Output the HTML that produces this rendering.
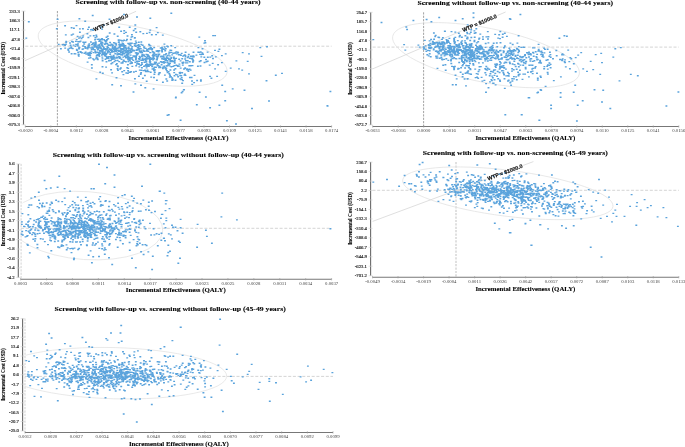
<!DOCTYPE html>
<html><head><meta charset="utf-8"><style>
html,body{margin:0;padding:0;background:#fff;overflow:hidden}
svg{display:block;will-change:transform}
</style></head><body>
<svg width="685" height="447" viewBox="0 0 685 447" shape-rendering="auto">
<rect width="685" height="447" fill="#fff"/>
<line x1="25.3" y1="46.2" x2="331.6" y2="46.2" stroke="#c9c9c9" stroke-width="0.8" stroke-dasharray="3,1.7"/>
<line x1="57.4" y1="11" x2="57.4" y2="126.5" stroke="#8a8a8a" stroke-width="0.8" stroke-dasharray="2.2,1.2"/>
<ellipse cx="132.7" cy="53.6" rx="96.3" ry="27" transform="rotate(11.47 132.7 53.6)" fill="none" stroke="#e2e2e2" stroke-width="0.75"/>
<line x1="25" y1="60.6" x2="136.1" y2="11.3" stroke="#d4d4d4" stroke-width="0.75"/>
<rect x="-19.6" y="-2.6" width="39.2" height="5.2" fill="#fff" transform="translate(110.9,22.45) rotate(-23.4)"/>
<path fill="#5aa3dc" d="M87.95 54.42h1.9v1.36h-1.9zM75.75 38.92h1.9v1.36h-1.9zM64.15 44.52h1.9v1.36h-1.9zM64.85 34.22h1.9v1.36h-1.9zM77.05 45.22h1.9v1.36h-1.9zM80.55 37.92h1.9v1.36h-1.9zM75.15 43.82h1.9v1.36h-1.9zM59.95 48.12h1.9v1.36h-1.9zM77.05 43.32h1.9v1.36h-1.9zM87.35 45.72h1.9v1.36h-1.9zM84.15 41.72h1.9v1.36h-1.9zM77.25 51.52h1.9v1.36h-1.9zM82.05 45.22h1.9v1.36h-1.9zM64.25 47.42h1.9v1.36h-1.9zM75.85 49.32h1.9v1.36h-1.9zM77.25 51.92h1.9v1.36h-1.9zM74.55 45.72h1.9v1.36h-1.9zM81.75 36.72h1.9v1.36h-1.9zM71.05 40.82h1.9v1.36h-1.9zM94.85 43.62h1.9v1.36h-1.9zM81.55 48.62h1.9v1.36h-1.9zM72.25 33.42h1.9v1.36h-1.9zM84.65 41.42h1.9v1.36h-1.9zM82.25 35.22h1.9v1.36h-1.9zM70.65 53.12h1.9v1.36h-1.9zM89.35 35.22h1.9v1.36h-1.9zM61.75 44.02h1.9v1.36h-1.9zM82.35 45.42h1.9v1.36h-1.9zM78.05 37.42h1.9v1.36h-1.9zM80.95 52.12h1.9v1.36h-1.9zM70.65 34.32h1.9v1.36h-1.9zM67.45 49.62h1.9v1.36h-1.9zM57.75 43.72h1.9v1.36h-1.9zM65.15 43.42h1.9v1.36h-1.9zM72.65 44.42h1.9v1.36h-1.9zM90.05 47.22h1.9v1.36h-1.9zM88.35 43.32h1.9v1.36h-1.9zM70.25 47.02h1.9v1.36h-1.9zM76.65 35.72h1.9v1.36h-1.9zM79.65 40.42h1.9v1.36h-1.9zM65.25 40.72h1.9v1.36h-1.9zM73.55 53.12h1.9v1.36h-1.9zM76.05 44.12h1.9v1.36h-1.9zM78.95 31.62h1.9v1.36h-1.9zM87.45 36.82h1.9v1.36h-1.9zM79.45 36.42h1.9v1.36h-1.9zM65.25 41.52h1.9v1.36h-1.9zM94.05 49.22h1.9v1.36h-1.9zM69.05 42.32h1.9v1.36h-1.9zM63.55 44.12h1.9v1.36h-1.9zM99.35 52.72h1.9v1.36h-1.9zM84.05 46.02h1.9v1.36h-1.9zM94.45 44.52h1.9v1.36h-1.9zM125.25 50.72h1.9v1.36h-1.9zM122.35 56.42h1.9v1.36h-1.9zM134.45 43.02h1.9v1.36h-1.9zM122.25 40.22h1.9v1.36h-1.9zM109.25 59.82h1.9v1.36h-1.9zM107.25 47.12h1.9v1.36h-1.9zM114.45 49.62h1.9v1.36h-1.9zM111.75 45.22h1.9v1.36h-1.9zM132.35 55.32h1.9v1.36h-1.9zM106.75 50.82h1.9v1.36h-1.9zM123.95 55.72h1.9v1.36h-1.9zM118.65 53.52h1.9v1.36h-1.9zM106.15 43.22h1.9v1.36h-1.9zM100.85 54.42h1.9v1.36h-1.9zM130.55 51.12h1.9v1.36h-1.9zM99.65 50.42h1.9v1.36h-1.9zM143.85 58.52h1.9v1.36h-1.9zM97.45 48.32h1.9v1.36h-1.9zM82.35 41.52h1.9v1.36h-1.9zM114.85 49.62h1.9v1.36h-1.9zM129.95 57.32h1.9v1.36h-1.9zM127.35 57.42h1.9v1.36h-1.9zM100.45 42.52h1.9v1.36h-1.9zM118.55 43.32h1.9v1.36h-1.9zM115.45 57.42h1.9v1.36h-1.9zM90.15 52.62h1.9v1.36h-1.9zM98.45 55.72h1.9v1.36h-1.9zM126.65 51.82h1.9v1.36h-1.9zM151.15 49.12h1.9v1.36h-1.9zM96.85 58.82h1.9v1.36h-1.9zM110.55 43.62h1.9v1.36h-1.9zM110.95 50.02h1.9v1.36h-1.9zM115.15 48.52h1.9v1.36h-1.9zM100.05 47.32h1.9v1.36h-1.9zM104.55 42.72h1.9v1.36h-1.9zM97.55 52.12h1.9v1.36h-1.9zM118.85 57.62h1.9v1.36h-1.9zM98.95 50.12h1.9v1.36h-1.9zM134.25 55.52h1.9v1.36h-1.9zM104.05 55.12h1.9v1.36h-1.9zM92.05 58.22h1.9v1.36h-1.9zM114.15 48.82h1.9v1.36h-1.9zM116.25 54.22h1.9v1.36h-1.9zM145.85 50.32h1.9v1.36h-1.9zM103.55 52.12h1.9v1.36h-1.9zM94.15 39.12h1.9v1.36h-1.9zM127.85 48.12h1.9v1.36h-1.9zM133.85 44.82h1.9v1.36h-1.9zM113.65 58.32h1.9v1.36h-1.9zM121.45 51.52h1.9v1.36h-1.9zM122.85 47.92h1.9v1.36h-1.9zM112.95 42.02h1.9v1.36h-1.9zM121.65 45.42h1.9v1.36h-1.9zM101.95 52.72h1.9v1.36h-1.9zM129.65 44.72h1.9v1.36h-1.9zM151.25 48.12h1.9v1.36h-1.9zM127.45 55.42h1.9v1.36h-1.9zM115.45 50.52h1.9v1.36h-1.9zM146.65 56.12h1.9v1.36h-1.9zM120.45 39.72h1.9v1.36h-1.9zM95.75 54.92h1.9v1.36h-1.9zM115.25 44.32h1.9v1.36h-1.9zM98.35 46.92h1.9v1.36h-1.9zM124.65 52.12h1.9v1.36h-1.9zM131.25 45.92h1.9v1.36h-1.9zM130.85 47.62h1.9v1.36h-1.9zM104.55 58.52h1.9v1.36h-1.9zM112.55 48.62h1.9v1.36h-1.9zM106.95 47.02h1.9v1.36h-1.9zM141.75 58.52h1.9v1.36h-1.9zM125.35 51.12h1.9v1.36h-1.9zM131.85 50.02h1.9v1.36h-1.9zM119.95 52.02h1.9v1.36h-1.9zM112.35 58.42h1.9v1.36h-1.9zM145.75 58.42h1.9v1.36h-1.9zM125.25 47.62h1.9v1.36h-1.9zM110.25 55.52h1.9v1.36h-1.9zM134.25 55.22h1.9v1.36h-1.9zM113.85 49.62h1.9v1.36h-1.9zM127.65 49.72h1.9v1.36h-1.9zM93.25 44.92h1.9v1.36h-1.9zM108.15 51.02h1.9v1.36h-1.9zM120.65 49.32h1.9v1.36h-1.9zM116.65 57.12h1.9v1.36h-1.9zM135.85 49.72h1.9v1.36h-1.9zM100.35 41.22h1.9v1.36h-1.9zM109.25 56.12h1.9v1.36h-1.9zM105.55 52.92h1.9v1.36h-1.9zM125.05 52.22h1.9v1.36h-1.9zM132.75 49.82h1.9v1.36h-1.9zM94.85 42.02h1.9v1.36h-1.9zM129.65 48.32h1.9v1.36h-1.9zM104.55 53.62h1.9v1.36h-1.9zM94.75 58.22h1.9v1.36h-1.9zM124.55 47.12h1.9v1.36h-1.9zM98.05 54.62h1.9v1.36h-1.9zM87.55 44.52h1.9v1.36h-1.9zM111.15 50.42h1.9v1.36h-1.9zM111.25 51.42h1.9v1.36h-1.9zM103.85 48.32h1.9v1.36h-1.9zM136.15 54.22h1.9v1.36h-1.9zM101.55 58.22h1.9v1.36h-1.9zM71.25 47.72h1.9v1.36h-1.9zM124.15 55.32h1.9v1.36h-1.9zM113.35 47.32h1.9v1.36h-1.9zM122.85 48.92h1.9v1.36h-1.9zM118.85 45.42h1.9v1.36h-1.9zM129.65 54.42h1.9v1.36h-1.9zM125.75 47.82h1.9v1.36h-1.9zM119.85 47.92h1.9v1.36h-1.9zM115.35 48.82h1.9v1.36h-1.9zM93.05 59.22h1.9v1.36h-1.9zM126.05 38.82h1.9v1.36h-1.9zM129.25 42.62h1.9v1.36h-1.9zM106.55 45.92h1.9v1.36h-1.9zM100.35 50.12h1.9v1.36h-1.9zM104.95 41.02h1.9v1.36h-1.9zM110.85 51.32h1.9v1.36h-1.9zM146.55 48.92h1.9v1.36h-1.9zM87.45 46.02h1.9v1.36h-1.9zM124.35 45.12h1.9v1.36h-1.9zM96.45 51.62h1.9v1.36h-1.9zM110.75 50.52h1.9v1.36h-1.9zM98.75 44.12h1.9v1.36h-1.9zM104.65 48.12h1.9v1.36h-1.9zM104.25 51.32h1.9v1.36h-1.9zM121.85 52.92h1.9v1.36h-1.9zM120.85 44.92h1.9v1.36h-1.9zM88.45 52.52h1.9v1.36h-1.9zM111.25 50.02h1.9v1.36h-1.9zM87.95 46.92h1.9v1.36h-1.9zM98.55 43.92h1.9v1.36h-1.9zM98.95 40.42h1.9v1.36h-1.9zM112.45 55.82h1.9v1.36h-1.9zM96.85 49.12h1.9v1.36h-1.9zM89.05 51.82h1.9v1.36h-1.9zM148.65 44.52h1.9v1.36h-1.9zM106.05 56.92h1.9v1.36h-1.9zM118.35 50.32h1.9v1.36h-1.9zM70.25 46.32h1.9v1.36h-1.9zM128.95 58.12h1.9v1.36h-1.9zM124.05 46.82h1.9v1.36h-1.9zM97.85 38.62h1.9v1.36h-1.9zM89.25 54.32h1.9v1.36h-1.9zM109.15 41.82h1.9v1.36h-1.9zM137.85 41.52h1.9v1.36h-1.9zM136.35 48.82h1.9v1.36h-1.9zM117.65 53.42h1.9v1.36h-1.9zM115.95 56.62h1.9v1.36h-1.9zM111.45 47.52h1.9v1.36h-1.9zM98.25 40.72h1.9v1.36h-1.9zM96.85 54.02h1.9v1.36h-1.9zM127.15 57.82h1.9v1.36h-1.9zM121.45 42.62h1.9v1.36h-1.9zM105.55 61.12h1.9v1.36h-1.9zM121.65 49.12h1.9v1.36h-1.9zM117.75 39.22h1.9v1.36h-1.9zM94.75 41.22h1.9v1.36h-1.9zM68.15 51.32h1.9v1.36h-1.9zM130.35 49.32h1.9v1.36h-1.9zM118.25 44.12h1.9v1.36h-1.9zM119.85 54.02h1.9v1.36h-1.9zM141.25 59.52h1.9v1.36h-1.9zM120.85 49.12h1.9v1.36h-1.9zM94.75 45.12h1.9v1.36h-1.9zM123.25 53.12h1.9v1.36h-1.9zM110.95 58.52h1.9v1.36h-1.9zM124.05 50.12h1.9v1.36h-1.9zM107.25 49.52h1.9v1.36h-1.9zM92.35 42.92h1.9v1.36h-1.9zM118.15 46.52h1.9v1.36h-1.9zM105.25 55.72h1.9v1.36h-1.9zM106.85 56.32h1.9v1.36h-1.9zM110.45 57.62h1.9v1.36h-1.9zM120.85 40.12h1.9v1.36h-1.9zM135.85 49.52h1.9v1.36h-1.9zM71.75 47.92h1.9v1.36h-1.9zM114.55 42.42h1.9v1.36h-1.9zM98.75 51.72h1.9v1.36h-1.9zM138.95 57.02h1.9v1.36h-1.9zM135.15 56.72h1.9v1.36h-1.9zM126.15 55.02h1.9v1.36h-1.9zM95.65 46.42h1.9v1.36h-1.9zM92.25 48.22h1.9v1.36h-1.9zM110.25 49.22h1.9v1.36h-1.9zM90.55 50.42h1.9v1.36h-1.9zM103.95 54.22h1.9v1.36h-1.9zM117.75 41.52h1.9v1.36h-1.9zM82.25 48.22h1.9v1.36h-1.9zM101.25 51.42h1.9v1.36h-1.9zM127.15 50.32h1.9v1.36h-1.9zM77.75 41.02h1.9v1.36h-1.9zM122.75 44.12h1.9v1.36h-1.9zM133.25 50.02h1.9v1.36h-1.9zM121.65 45.02h1.9v1.36h-1.9zM106.75 52.22h1.9v1.36h-1.9zM93.35 43.72h1.9v1.36h-1.9zM109.95 49.62h1.9v1.36h-1.9zM94.75 52.22h1.9v1.36h-1.9zM77.85 53.72h1.9v1.36h-1.9zM83.25 43.32h1.9v1.36h-1.9zM137.95 45.22h1.9v1.36h-1.9zM78.05 48.02h1.9v1.36h-1.9zM93.05 42.22h1.9v1.36h-1.9zM97.25 44.52h1.9v1.36h-1.9zM91.85 42.62h1.9v1.36h-1.9zM143.45 47.32h1.9v1.36h-1.9zM130.85 42.62h1.9v1.36h-1.9zM122.25 43.02h1.9v1.36h-1.9zM101.75 52.32h1.9v1.36h-1.9zM101.05 38.02h1.9v1.36h-1.9zM100.05 47.92h1.9v1.36h-1.9zM122.75 44.42h1.9v1.36h-1.9zM105.05 49.32h1.9v1.36h-1.9zM78.15 47.02h1.9v1.36h-1.9zM94.35 50.82h1.9v1.36h-1.9zM108.85 48.32h1.9v1.36h-1.9zM103.95 43.72h1.9v1.36h-1.9zM101.25 41.82h1.9v1.36h-1.9zM114.35 53.12h1.9v1.36h-1.9zM123.15 47.12h1.9v1.36h-1.9zM144.35 55.82h1.9v1.36h-1.9zM92.15 47.52h1.9v1.36h-1.9zM78.55 46.92h1.9v1.36h-1.9zM124.95 57.02h1.9v1.36h-1.9zM103.25 39.02h1.9v1.36h-1.9zM107.25 56.62h1.9v1.36h-1.9zM113.55 56.52h1.9v1.36h-1.9zM127.15 58.72h1.9v1.36h-1.9zM123.15 46.32h1.9v1.36h-1.9zM101.25 38.62h1.9v1.36h-1.9zM152.95 53.72h1.9v1.36h-1.9zM98.75 45.32h1.9v1.36h-1.9zM80.05 51.62h1.9v1.36h-1.9zM114.05 46.02h1.9v1.36h-1.9zM102.75 46.52h1.9v1.36h-1.9zM132.45 49.42h1.9v1.36h-1.9zM138.85 46.12h1.9v1.36h-1.9zM98.95 46.02h1.9v1.36h-1.9zM100.35 48.22h1.9v1.36h-1.9zM131.15 57.02h1.9v1.36h-1.9zM89.25 55.22h1.9v1.36h-1.9zM112.45 58.12h1.9v1.36h-1.9zM107.95 44.52h1.9v1.36h-1.9zM126.65 53.62h1.9v1.36h-1.9zM101.85 48.92h1.9v1.36h-1.9zM113.55 51.12h1.9v1.36h-1.9zM77.15 40.92h1.9v1.36h-1.9zM112.05 50.82h1.9v1.36h-1.9zM101.05 39.12h1.9v1.36h-1.9zM137.95 49.02h1.9v1.36h-1.9zM89.65 57.02h1.9v1.36h-1.9zM133.35 56.22h1.9v1.36h-1.9zM127.55 53.32h1.9v1.36h-1.9zM91.55 48.42h1.9v1.36h-1.9zM117.95 53.12h1.9v1.36h-1.9zM120.85 44.32h1.9v1.36h-1.9zM99.05 46.82h1.9v1.36h-1.9zM107.35 44.32h1.9v1.36h-1.9zM74.95 40.72h1.9v1.36h-1.9zM117.15 49.62h1.9v1.36h-1.9zM123.15 39.52h1.9v1.36h-1.9zM102.45 53.82h1.9v1.36h-1.9zM72.15 41.32h1.9v1.36h-1.9zM77.45 54.22h1.9v1.36h-1.9zM111.85 46.22h1.9v1.36h-1.9zM114.05 49.02h1.9v1.36h-1.9zM128.75 56.72h1.9v1.36h-1.9zM129.25 52.12h1.9v1.36h-1.9zM126.05 54.62h1.9v1.36h-1.9zM134.85 40.42h1.9v1.36h-1.9zM117.95 50.12h1.9v1.36h-1.9zM114.35 48.12h1.9v1.36h-1.9zM109.45 51.92h1.9v1.36h-1.9zM114.95 50.22h1.9v1.36h-1.9zM89.95 41.32h1.9v1.36h-1.9zM96.65 38.72h1.9v1.36h-1.9zM100.95 44.12h1.9v1.36h-1.9zM101.85 45.62h1.9v1.36h-1.9zM95.55 45.72h1.9v1.36h-1.9zM91.05 43.92h1.9v1.36h-1.9zM104.05 48.72h1.9v1.36h-1.9zM98.35 53.22h1.9v1.36h-1.9zM123.35 60.72h1.9v1.36h-1.9zM84.75 51.62h1.9v1.36h-1.9zM104.05 40.12h1.9v1.36h-1.9zM105.55 40.02h1.9v1.36h-1.9zM136.55 60.72h1.9v1.36h-1.9zM135.35 42.02h1.9v1.36h-1.9zM119.25 50.52h1.9v1.36h-1.9zM120.05 44.12h1.9v1.36h-1.9zM134.75 52.22h1.9v1.36h-1.9zM101.15 49.82h1.9v1.36h-1.9zM86.05 53.32h1.9v1.36h-1.9zM114.35 48.62h1.9v1.36h-1.9zM102.45 48.52h1.9v1.36h-1.9zM113.75 47.22h1.9v1.36h-1.9zM130.25 51.52h1.9v1.36h-1.9zM109.45 44.52h1.9v1.36h-1.9zM135.05 57.72h1.9v1.36h-1.9zM125.35 39.92h1.9v1.36h-1.9zM103.85 54.42h1.9v1.36h-1.9zM111.45 56.32h1.9v1.36h-1.9zM102.05 53.22h1.9v1.36h-1.9zM103.05 47.62h1.9v1.36h-1.9zM98.75 43.72h1.9v1.36h-1.9zM142.85 50.32h1.9v1.36h-1.9zM127.25 42.82h1.9v1.36h-1.9zM69.65 44.52h1.9v1.36h-1.9zM119.35 45.82h1.9v1.36h-1.9zM121.45 54.32h1.9v1.36h-1.9zM102.15 48.52h1.9v1.36h-1.9zM96.05 54.52h1.9v1.36h-1.9zM146.25 53.92h1.9v1.36h-1.9zM101.15 44.92h1.9v1.36h-1.9zM105.25 53.92h1.9v1.36h-1.9zM95.55 56.62h1.9v1.36h-1.9zM86.65 48.02h1.9v1.36h-1.9zM136.85 60.52h1.9v1.36h-1.9zM102.65 53.22h1.9v1.36h-1.9zM67.25 48.52h1.9v1.36h-1.9zM129.85 38.82h1.9v1.36h-1.9zM143.05 46.32h1.9v1.36h-1.9zM126.95 55.22h1.9v1.36h-1.9zM118.05 41.32h1.9v1.36h-1.9zM110.95 44.12h1.9v1.36h-1.9zM138.05 47.92h1.9v1.36h-1.9zM92.55 51.92h1.9v1.36h-1.9zM135.55 49.72h1.9v1.36h-1.9zM116.45 52.32h1.9v1.36h-1.9zM101.55 42.32h1.9v1.36h-1.9zM121.75 47.92h1.9v1.36h-1.9zM83.45 52.62h1.9v1.36h-1.9zM119.65 50.52h1.9v1.36h-1.9zM96.05 47.32h1.9v1.36h-1.9zM123.05 52.62h1.9v1.36h-1.9zM94.85 43.52h1.9v1.36h-1.9zM117.85 50.72h1.9v1.36h-1.9zM128.35 43.82h1.9v1.36h-1.9zM128.95 59.92h1.9v1.36h-1.9zM129.95 51.02h1.9v1.36h-1.9zM129.55 43.22h1.9v1.36h-1.9zM101.65 60.12h1.9v1.36h-1.9zM78.75 41.22h1.9v1.36h-1.9zM127.65 46.62h1.9v1.36h-1.9zM100.05 42.62h1.9v1.36h-1.9zM144.85 47.72h1.9v1.36h-1.9zM106.05 39.12h1.9v1.36h-1.9zM126.45 50.12h1.9v1.36h-1.9zM120.55 58.52h1.9v1.36h-1.9zM114.45 42.92h1.9v1.36h-1.9zM90.75 48.72h1.9v1.36h-1.9zM137.75 44.12h1.9v1.36h-1.9zM106.15 48.22h1.9v1.36h-1.9zM124.45 45.12h1.9v1.36h-1.9zM117.05 53.92h1.9v1.36h-1.9zM110.35 48.72h1.9v1.36h-1.9zM123.25 53.12h1.9v1.36h-1.9zM136.45 44.72h1.9v1.36h-1.9zM135.65 49.32h1.9v1.36h-1.9zM88.45 45.12h1.9v1.36h-1.9zM86.45 46.92h1.9v1.36h-1.9zM87.25 52.32h1.9v1.36h-1.9zM104.85 53.32h1.9v1.36h-1.9zM84.55 47.62h1.9v1.36h-1.9zM125.45 56.82h1.9v1.36h-1.9zM143.65 50.72h1.9v1.36h-1.9zM93.65 46.32h1.9v1.36h-1.9zM134.85 45.52h1.9v1.36h-1.9zM148.05 43.82h1.9v1.36h-1.9zM122.45 45.42h1.9v1.36h-1.9zM76.25 49.72h1.9v1.36h-1.9zM87.55 54.62h1.9v1.36h-1.9zM93.05 48.92h1.9v1.36h-1.9zM101.45 49.52h1.9v1.36h-1.9zM98.15 53.12h1.9v1.36h-1.9zM123.25 50.32h1.9v1.36h-1.9zM107.95 60.02h1.9v1.36h-1.9zM97.25 46.22h1.9v1.36h-1.9zM126.45 50.02h1.9v1.36h-1.9zM78.45 46.82h1.9v1.36h-1.9zM103.65 43.42h1.9v1.36h-1.9zM115.25 43.32h1.9v1.36h-1.9zM106.35 42.82h1.9v1.36h-1.9zM142.35 49.42h1.9v1.36h-1.9zM119.75 51.32h1.9v1.36h-1.9zM125.15 49.22h1.9v1.36h-1.9zM126.05 50.82h1.9v1.36h-1.9zM84.95 53.22h1.9v1.36h-1.9zM115.55 47.52h1.9v1.36h-1.9zM87.65 46.02h1.9v1.36h-1.9zM120.25 49.32h1.9v1.36h-1.9zM91.45 46.42h1.9v1.36h-1.9zM106.45 46.62h1.9v1.36h-1.9zM109.25 53.62h1.9v1.36h-1.9zM75.85 48.72h1.9v1.36h-1.9zM133.45 42.92h1.9v1.36h-1.9zM107.35 47.02h1.9v1.36h-1.9zM87.95 53.32h1.9v1.36h-1.9zM104.15 55.22h1.9v1.36h-1.9zM119.35 48.22h1.9v1.36h-1.9zM116.85 47.52h1.9v1.36h-1.9zM77.85 55.42h1.9v1.36h-1.9zM118.05 56.02h1.9v1.36h-1.9zM74.55 53.22h1.9v1.36h-1.9zM127.55 49.92h1.9v1.36h-1.9zM68.65 47.62h1.9v1.36h-1.9zM97.75 47.52h1.9v1.36h-1.9zM112.45 44.42h1.9v1.36h-1.9zM108.45 49.22h1.9v1.36h-1.9zM140.25 50.32h1.9v1.36h-1.9zM107.95 56.02h1.9v1.36h-1.9zM79.45 51.12h1.9v1.36h-1.9zM119.15 46.42h1.9v1.36h-1.9zM105.75 57.52h1.9v1.36h-1.9zM102.05 50.42h1.9v1.36h-1.9zM119.35 56.42h1.9v1.36h-1.9zM135.65 53.02h1.9v1.36h-1.9zM166.75 60.22h1.9v1.36h-1.9zM152.15 63.52h1.9v1.36h-1.9zM155.75 59.12h1.9v1.36h-1.9zM144.75 59.52h1.9v1.36h-1.9zM145.35 61.32h1.9v1.36h-1.9zM170.45 66.12h1.9v1.36h-1.9zM150.45 48.72h1.9v1.36h-1.9zM170.25 57.52h1.9v1.36h-1.9zM148.85 47.62h1.9v1.36h-1.9zM170.25 45.02h1.9v1.36h-1.9zM149.35 60.92h1.9v1.36h-1.9zM152.95 57.72h1.9v1.36h-1.9zM164.75 58.82h1.9v1.36h-1.9zM173.85 59.52h1.9v1.36h-1.9zM151.25 48.32h1.9v1.36h-1.9zM152.65 51.52h1.9v1.36h-1.9zM163.25 62.32h1.9v1.36h-1.9zM169.65 51.92h1.9v1.36h-1.9zM160.25 55.42h1.9v1.36h-1.9zM149.25 62.22h1.9v1.36h-1.9zM166.85 57.62h1.9v1.36h-1.9zM145.05 61.22h1.9v1.36h-1.9zM153.65 55.02h1.9v1.36h-1.9zM152.75 57.82h1.9v1.36h-1.9zM156.55 64.72h1.9v1.36h-1.9zM155.15 53.82h1.9v1.36h-1.9zM179.65 60.22h1.9v1.36h-1.9zM168.05 58.62h1.9v1.36h-1.9zM156.35 57.02h1.9v1.36h-1.9zM165.65 56.22h1.9v1.36h-1.9zM149.45 51.92h1.9v1.36h-1.9zM151.75 51.12h1.9v1.36h-1.9zM143.05 54.32h1.9v1.36h-1.9zM171.25 54.22h1.9v1.36h-1.9zM164.85 48.12h1.9v1.36h-1.9zM169.35 49.52h1.9v1.36h-1.9zM168.35 51.62h1.9v1.36h-1.9zM147.65 48.12h1.9v1.36h-1.9zM136.75 53.42h1.9v1.36h-1.9zM141.45 53.52h1.9v1.36h-1.9zM175.35 51.32h1.9v1.36h-1.9zM151.95 54.62h1.9v1.36h-1.9zM147.15 54.82h1.9v1.36h-1.9zM160.55 61.22h1.9v1.36h-1.9zM145.45 53.72h1.9v1.36h-1.9zM154.25 61.92h1.9v1.36h-1.9zM140.95 55.72h1.9v1.36h-1.9zM169.25 59.02h1.9v1.36h-1.9zM145.95 49.22h1.9v1.36h-1.9zM127.55 51.32h1.9v1.36h-1.9zM153.25 46.92h1.9v1.36h-1.9zM170.45 56.72h1.9v1.36h-1.9zM153.35 52.32h1.9v1.36h-1.9zM164.65 54.02h1.9v1.36h-1.9zM165.25 52.92h1.9v1.36h-1.9zM174.25 46.92h1.9v1.36h-1.9zM139.55 64.62h1.9v1.36h-1.9zM173.45 64.92h1.9v1.36h-1.9zM144.25 58.92h1.9v1.36h-1.9zM172.85 60.92h1.9v1.36h-1.9zM153.85 63.32h1.9v1.36h-1.9zM163.95 48.42h1.9v1.36h-1.9zM177.25 52.22h1.9v1.36h-1.9zM141.95 59.62h1.9v1.36h-1.9zM170.35 51.72h1.9v1.36h-1.9zM161.25 48.12h1.9v1.36h-1.9zM138.65 58.72h1.9v1.36h-1.9zM174.05 57.92h1.9v1.36h-1.9zM181.25 58.12h1.9v1.36h-1.9zM161.75 55.52h1.9v1.36h-1.9zM163.65 57.52h1.9v1.36h-1.9zM142.05 54.52h1.9v1.36h-1.9zM176.85 51.62h1.9v1.36h-1.9zM166.95 46.02h1.9v1.36h-1.9zM157.55 65.32h1.9v1.36h-1.9zM158.15 62.42h1.9v1.36h-1.9zM151.05 57.62h1.9v1.36h-1.9zM163.45 43.42h1.9v1.36h-1.9zM143.85 65.32h1.9v1.36h-1.9zM143.55 61.52h1.9v1.36h-1.9zM184.55 56.02h1.9v1.36h-1.9zM173.05 57.92h1.9v1.36h-1.9zM147.45 58.22h1.9v1.36h-1.9zM164.25 50.12h1.9v1.36h-1.9zM150.15 47.62h1.9v1.36h-1.9zM151.65 54.92h1.9v1.36h-1.9zM141.75 44.52h1.9v1.36h-1.9zM167.55 62.62h1.9v1.36h-1.9zM142.45 55.22h1.9v1.36h-1.9zM190.75 58.12h1.9v1.36h-1.9zM134.35 61.52h1.9v1.36h-1.9zM168.35 63.52h1.9v1.36h-1.9zM168.65 58.62h1.9v1.36h-1.9zM180.05 54.62h1.9v1.36h-1.9zM161.05 49.52h1.9v1.36h-1.9zM138.65 55.82h1.9v1.36h-1.9zM161.05 46.72h1.9v1.36h-1.9zM162.85 61.12h1.9v1.36h-1.9zM137.05 52.72h1.9v1.36h-1.9zM184.65 51.62h1.9v1.36h-1.9zM166.05 59.92h1.9v1.36h-1.9zM159.85 56.22h1.9v1.36h-1.9zM166.05 57.22h1.9v1.36h-1.9zM159.75 47.32h1.9v1.36h-1.9zM161.15 51.12h1.9v1.36h-1.9zM172.95 56.52h1.9v1.36h-1.9zM139.85 48.02h1.9v1.36h-1.9zM174.15 52.32h1.9v1.36h-1.9zM155.75 55.62h1.9v1.36h-1.9zM176.85 51.52h1.9v1.36h-1.9zM150.45 58.52h1.9v1.36h-1.9zM166.75 54.82h1.9v1.36h-1.9zM140.65 51.42h1.9v1.36h-1.9zM131.35 58.72h1.9v1.36h-1.9zM180.75 52.72h1.9v1.36h-1.9zM149.85 47.02h1.9v1.36h-1.9zM145.95 49.32h1.9v1.36h-1.9zM157.05 64.92h1.9v1.36h-1.9zM173.75 61.32h1.9v1.36h-1.9zM141.35 59.32h1.9v1.36h-1.9zM145.75 50.02h1.9v1.36h-1.9zM168.75 55.22h1.9v1.36h-1.9zM152.05 59.22h1.9v1.36h-1.9zM138.35 58.42h1.9v1.36h-1.9zM182.05 55.42h1.9v1.36h-1.9zM148.65 61.22h1.9v1.36h-1.9zM139.05 56.72h1.9v1.36h-1.9zM148.55 56.72h1.9v1.36h-1.9zM144.35 58.22h1.9v1.36h-1.9zM165.65 65.32h1.9v1.36h-1.9zM151.15 57.52h1.9v1.36h-1.9zM129.05 50.02h1.9v1.36h-1.9zM161.55 47.92h1.9v1.36h-1.9zM155.55 50.32h1.9v1.36h-1.9zM164.55 58.92h1.9v1.36h-1.9zM149.35 58.62h1.9v1.36h-1.9zM148.15 55.62h1.9v1.36h-1.9zM165.25 58.72h1.9v1.36h-1.9zM166.25 65.02h1.9v1.36h-1.9zM146.75 54.12h1.9v1.36h-1.9zM127.65 59.12h1.9v1.36h-1.9zM139.25 51.42h1.9v1.36h-1.9zM148.75 57.32h1.9v1.36h-1.9zM152.55 53.62h1.9v1.36h-1.9zM158.35 53.52h1.9v1.36h-1.9zM156.85 49.92h1.9v1.36h-1.9zM148.45 48.32h1.9v1.36h-1.9zM170.55 60.72h1.9v1.36h-1.9zM167.65 57.52h1.9v1.36h-1.9zM147.25 58.02h1.9v1.36h-1.9zM137.75 62.92h1.9v1.36h-1.9zM160.65 64.02h1.9v1.36h-1.9zM145.45 60.52h1.9v1.36h-1.9zM182.35 61.62h1.9v1.36h-1.9zM161.45 61.42h1.9v1.36h-1.9zM149.45 64.72h1.9v1.36h-1.9zM138.75 50.52h1.9v1.36h-1.9zM157.55 51.12h1.9v1.36h-1.9zM184.95 60.02h1.9v1.36h-1.9zM145.05 64.12h1.9v1.36h-1.9zM178.85 54.02h1.9v1.36h-1.9zM181.85 62.72h1.9v1.36h-1.9zM149.15 51.92h1.9v1.36h-1.9zM161.85 61.82h1.9v1.36h-1.9zM181.85 64.42h1.9v1.36h-1.9zM149.65 45.22h1.9v1.36h-1.9zM129.75 62.72h1.9v1.36h-1.9zM173.75 62.42h1.9v1.36h-1.9zM156.95 55.82h1.9v1.36h-1.9zM164.75 58.12h1.9v1.36h-1.9zM158.55 50.02h1.9v1.36h-1.9zM135.15 55.42h1.9v1.36h-1.9zM154.25 63.02h1.9v1.36h-1.9zM140.35 43.82h1.9v1.36h-1.9zM125.65 54.02h1.9v1.36h-1.9zM183.95 54.32h1.9v1.36h-1.9zM145.75 57.02h1.9v1.36h-1.9zM181.45 62.12h1.9v1.36h-1.9zM170.95 60.92h1.9v1.36h-1.9zM152.35 55.62h1.9v1.36h-1.9zM163.35 65.52h1.9v1.36h-1.9zM121.85 51.12h1.9v1.36h-1.9zM163.05 54.22h1.9v1.36h-1.9zM155.05 53.82h1.9v1.36h-1.9zM141.65 57.52h1.9v1.36h-1.9zM177.85 54.02h1.9v1.36h-1.9zM163.85 61.62h1.9v1.36h-1.9zM146.55 54.42h1.9v1.36h-1.9zM135.95 63.32h1.9v1.36h-1.9zM184.55 55.22h1.9v1.36h-1.9zM188.85 61.12h1.9v1.36h-1.9zM127.65 57.02h1.9v1.36h-1.9zM160.95 58.22h1.9v1.36h-1.9zM168.05 53.22h1.9v1.36h-1.9zM175.15 57.72h1.9v1.36h-1.9zM187.35 55.72h1.9v1.36h-1.9zM166.25 45.52h1.9v1.36h-1.9zM147.45 50.62h1.9v1.36h-1.9zM172.15 52.42h1.9v1.36h-1.9zM175.75 53.22h1.9v1.36h-1.9zM172.55 52.52h1.9v1.36h-1.9zM137.85 57.92h1.9v1.36h-1.9zM153.25 58.02h1.9v1.36h-1.9zM130.85 48.72h1.9v1.36h-1.9zM151.15 65.92h1.9v1.36h-1.9zM163.75 46.32h1.9v1.36h-1.9zM162.65 48.52h1.9v1.36h-1.9zM172.65 60.52h1.9v1.36h-1.9zM191.35 57.62h1.9v1.36h-1.9zM148.95 59.52h1.9v1.36h-1.9zM135.55 52.12h1.9v1.36h-1.9zM141.15 51.62h1.9v1.36h-1.9zM136.75 46.62h1.9v1.36h-1.9zM139.25 56.82h1.9v1.36h-1.9zM157.55 54.92h1.9v1.36h-1.9zM164.45 59.72h1.9v1.36h-1.9zM164.25 67.02h1.9v1.36h-1.9zM161.55 57.62h1.9v1.36h-1.9zM149.05 61.02h1.9v1.36h-1.9zM170.35 49.72h1.9v1.36h-1.9zM162.65 56.02h1.9v1.36h-1.9zM137.15 47.12h1.9v1.36h-1.9zM137.25 52.42h1.9v1.36h-1.9zM152.45 53.72h1.9v1.36h-1.9zM156.25 57.62h1.9v1.36h-1.9zM151.55 63.82h1.9v1.36h-1.9zM156.05 59.02h1.9v1.36h-1.9zM153.75 61.42h1.9v1.36h-1.9zM156.15 50.62h1.9v1.36h-1.9zM145.85 63.32h1.9v1.36h-1.9zM115.55 77.12h1.9v1.36h-1.9zM150.35 63.32h1.9v1.36h-1.9zM116.95 65.82h1.9v1.36h-1.9zM141.05 63.72h1.9v1.36h-1.9zM122.45 73.92h1.9v1.36h-1.9zM147.05 64.52h1.9v1.36h-1.9zM107.65 57.92h1.9v1.36h-1.9zM161.15 61.82h1.9v1.36h-1.9zM158.75 65.82h1.9v1.36h-1.9zM151.55 68.32h1.9v1.36h-1.9zM129.35 62.82h1.9v1.36h-1.9zM138.85 69.42h1.9v1.36h-1.9zM138.15 60.62h1.9v1.36h-1.9zM144.45 65.22h1.9v1.36h-1.9zM147.95 65.62h1.9v1.36h-1.9zM139.75 73.52h1.9v1.36h-1.9zM186.75 69.12h1.9v1.36h-1.9zM183.45 74.42h1.9v1.36h-1.9zM173.15 69.32h1.9v1.36h-1.9zM146.25 70.92h1.9v1.36h-1.9zM115.15 63.92h1.9v1.36h-1.9zM110.15 69.12h1.9v1.36h-1.9zM146.55 69.62h1.9v1.36h-1.9zM132.35 59.72h1.9v1.36h-1.9zM167.15 64.32h1.9v1.36h-1.9zM135.25 65.12h1.9v1.36h-1.9zM153.55 66.62h1.9v1.36h-1.9zM113.45 56.52h1.9v1.36h-1.9zM168.55 65.22h1.9v1.36h-1.9zM134.95 59.12h1.9v1.36h-1.9zM165.95 70.12h1.9v1.36h-1.9zM127.25 53.12h1.9v1.36h-1.9zM189.85 65.12h1.9v1.36h-1.9zM109.95 59.92h1.9v1.36h-1.9zM110.35 63.12h1.9v1.36h-1.9zM126.65 56.62h1.9v1.36h-1.9zM159.85 61.02h1.9v1.36h-1.9zM90.85 64.02h1.9v1.36h-1.9zM126.75 57.22h1.9v1.36h-1.9zM96.45 57.62h1.9v1.36h-1.9zM124.95 61.02h1.9v1.36h-1.9zM126.95 72.62h1.9v1.36h-1.9zM169.45 69.32h1.9v1.36h-1.9zM156.45 63.42h1.9v1.36h-1.9zM101.55 66.02h1.9v1.36h-1.9zM178.45 63.42h1.9v1.36h-1.9zM122.75 59.52h1.9v1.36h-1.9zM105.15 66.42h1.9v1.36h-1.9zM111.15 72.22h1.9v1.36h-1.9zM185.85 69.02h1.9v1.36h-1.9zM140.25 59.72h1.9v1.36h-1.9zM165.35 67.62h1.9v1.36h-1.9zM101.35 56.42h1.9v1.36h-1.9zM153.95 63.02h1.9v1.36h-1.9zM152.75 67.72h1.9v1.36h-1.9zM179.75 67.42h1.9v1.36h-1.9zM169.15 74.52h1.9v1.36h-1.9zM176.85 65.62h1.9v1.36h-1.9zM136.05 61.02h1.9v1.36h-1.9zM144.85 57.92h1.9v1.36h-1.9zM118.25 60.92h1.9v1.36h-1.9zM132.95 71.32h1.9v1.36h-1.9zM111.55 62.02h1.9v1.36h-1.9zM148.25 63.92h1.9v1.36h-1.9zM112.35 57.62h1.9v1.36h-1.9zM127.45 60.82h1.9v1.36h-1.9zM126.25 67.02h1.9v1.36h-1.9zM139.85 51.82h1.9v1.36h-1.9zM183.05 68.32h1.9v1.36h-1.9zM129.45 71.62h1.9v1.36h-1.9zM138.05 63.62h1.9v1.36h-1.9zM117.05 69.62h1.9v1.36h-1.9zM164.15 61.42h1.9v1.36h-1.9zM125.35 72.32h1.9v1.36h-1.9zM121.85 61.22h1.9v1.36h-1.9zM120.45 62.32h1.9v1.36h-1.9zM164.15 67.32h1.9v1.36h-1.9zM167.65 71.12h1.9v1.36h-1.9zM86.65 61.42h1.9v1.36h-1.9zM141.25 54.52h1.9v1.36h-1.9zM162.15 66.42h1.9v1.36h-1.9zM127.25 67.72h1.9v1.36h-1.9zM166.65 71.82h1.9v1.36h-1.9zM126.95 64.12h1.9v1.36h-1.9zM142.95 65.72h1.9v1.36h-1.9zM181.25 72.12h1.9v1.36h-1.9zM147.15 63.82h1.9v1.36h-1.9zM174.45 68.12h1.9v1.36h-1.9zM138.35 66.22h1.9v1.36h-1.9zM159.55 66.82h1.9v1.36h-1.9zM147.65 70.92h1.9v1.36h-1.9zM121.65 62.42h1.9v1.36h-1.9zM142.65 69.92h1.9v1.36h-1.9zM156.35 63.22h1.9v1.36h-1.9zM113.45 60.92h1.9v1.36h-1.9zM127.15 70.12h1.9v1.36h-1.9zM158.15 66.92h1.9v1.36h-1.9zM112.65 54.82h1.9v1.36h-1.9zM144.05 69.52h1.9v1.36h-1.9zM151.35 64.42h1.9v1.36h-1.9zM157.35 53.62h1.9v1.36h-1.9zM171.25 77.22h1.9v1.36h-1.9zM145.65 67.22h1.9v1.36h-1.9zM135.05 70.72h1.9v1.36h-1.9zM116.65 59.82h1.9v1.36h-1.9zM152.45 56.82h1.9v1.36h-1.9zM154.15 69.22h1.9v1.36h-1.9zM140.95 62.12h1.9v1.36h-1.9zM188.35 65.12h1.9v1.36h-1.9zM144.85 70.82h1.9v1.36h-1.9zM140.15 72.12h1.9v1.36h-1.9zM140.95 67.02h1.9v1.36h-1.9zM140.55 69.62h1.9v1.36h-1.9zM123.25 69.92h1.9v1.36h-1.9zM169.35 60.52h1.9v1.36h-1.9zM101.35 53.92h1.9v1.36h-1.9zM119.25 68.32h1.9v1.36h-1.9zM141.95 77.62h1.9v1.36h-1.9zM184.25 58.32h1.9v1.36h-1.9zM130.75 62.62h1.9v1.36h-1.9zM183.95 73.42h1.9v1.36h-1.9zM166.35 61.82h1.9v1.36h-1.9zM142.25 59.12h1.9v1.36h-1.9zM116.75 65.22h1.9v1.36h-1.9zM116.55 68.12h1.9v1.36h-1.9zM155.05 66.62h1.9v1.36h-1.9zM157.75 73.82h1.9v1.36h-1.9zM170.95 60.02h1.9v1.36h-1.9zM158.25 72.32h1.9v1.36h-1.9zM131.15 62.12h1.9v1.36h-1.9zM173.25 71.92h1.9v1.36h-1.9zM143.95 74.82h1.9v1.36h-1.9zM165.35 78.32h1.9v1.36h-1.9zM130.15 70.92h1.9v1.36h-1.9zM87.95 57.42h1.9v1.36h-1.9zM186.45 62.22h1.9v1.36h-1.9zM137.15 62.82h1.9v1.36h-1.9zM153.45 73.62h1.9v1.36h-1.9zM184.25 67.32h1.9v1.36h-1.9zM149.75 71.62h1.9v1.36h-1.9zM172.35 65.72h1.9v1.36h-1.9zM178.25 58.52h1.9v1.36h-1.9zM149.15 56.92h1.9v1.36h-1.9zM128.95 59.32h1.9v1.36h-1.9zM161.95 67.82h1.9v1.36h-1.9zM145.75 70.42h1.9v1.36h-1.9zM155.25 61.62h1.9v1.36h-1.9zM119.95 67.32h1.9v1.36h-1.9zM140.05 64.52h1.9v1.36h-1.9zM152.85 68.12h1.9v1.36h-1.9zM101.85 72.62h1.9v1.36h-1.9zM153.05 69.82h1.9v1.36h-1.9zM128.45 71.62h1.9v1.36h-1.9zM168.65 62.52h1.9v1.36h-1.9zM169.05 62.62h1.9v1.36h-1.9zM90.95 67.32h1.9v1.36h-1.9zM114.55 59.92h1.9v1.36h-1.9zM115.95 63.12h1.9v1.36h-1.9zM131.35 65.72h1.9v1.36h-1.9zM153.05 76.82h1.9v1.36h-1.9zM153.15 69.52h1.9v1.36h-1.9zM153.85 71.52h1.9v1.36h-1.9zM165.15 68.92h1.9v1.36h-1.9zM110.15 56.92h1.9v1.36h-1.9zM148.95 63.82h1.9v1.36h-1.9zM130.25 61.22h1.9v1.36h-1.9zM121.25 71.02h1.9v1.36h-1.9zM162.65 58.52h1.9v1.36h-1.9zM146.15 65.52h1.9v1.36h-1.9zM105.55 36.52h1.9v1.36h-1.9zM125.05 31.72h1.9v1.36h-1.9zM95.65 36.12h1.9v1.36h-1.9zM123.25 32.72h1.9v1.36h-1.9zM99.85 38.82h1.9v1.36h-1.9zM75.55 24.92h1.9v1.36h-1.9zM91.35 28.82h1.9v1.36h-1.9zM108.75 32.32h1.9v1.36h-1.9zM150.85 34.12h1.9v1.36h-1.9zM120.15 30.52h1.9v1.36h-1.9zM126.55 35.32h1.9v1.36h-1.9zM98.75 40.02h1.9v1.36h-1.9zM116.75 35.62h1.9v1.36h-1.9zM107.25 38.12h1.9v1.36h-1.9zM142.35 32.92h1.9v1.36h-1.9zM132.75 29.82h1.9v1.36h-1.9zM94.45 37.02h1.9v1.36h-1.9zM87.05 28.72h1.9v1.36h-1.9zM87.95 26.62h1.9v1.36h-1.9zM106.75 35.52h1.9v1.36h-1.9zM92.85 35.02h1.9v1.36h-1.9zM70.65 27.12h1.9v1.36h-1.9zM95.35 34.62h1.9v1.36h-1.9zM118.85 39.42h1.9v1.36h-1.9zM117.65 39.52h1.9v1.36h-1.9zM145.95 32.72h1.9v1.36h-1.9zM81.95 28.02h1.9v1.36h-1.9zM155.65 26.92h1.9v1.36h-1.9zM90.05 29.02h1.9v1.36h-1.9zM148.65 31.82h1.9v1.36h-1.9zM78.95 28.22h1.9v1.36h-1.9zM133.95 37.02h1.9v1.36h-1.9zM155.15 33.92h1.9v1.36h-1.9zM128.75 26.52h1.9v1.36h-1.9zM102.95 24.52h1.9v1.36h-1.9zM113.45 33.32h1.9v1.36h-1.9zM118.25 26.62h1.9v1.36h-1.9zM131.35 35.92h1.9v1.36h-1.9zM130.45 36.42h1.9v1.36h-1.9zM135.25 31.52h1.9v1.36h-1.9zM123.25 30.12h1.9v1.36h-1.9zM100.15 26.42h1.9v1.36h-1.9zM130.95 34.02h1.9v1.36h-1.9zM139.35 31.12h1.9v1.36h-1.9zM140.35 41.32h1.9v1.36h-1.9zM101.15 28.42h1.9v1.36h-1.9zM92.15 29.52h1.9v1.36h-1.9zM86.45 33.02h1.9v1.36h-1.9zM133.75 37.42h1.9v1.36h-1.9zM149.25 29.42h1.9v1.36h-1.9zM201.35 52.22h1.9v1.36h-1.9zM199.85 60.12h1.9v1.36h-1.9zM205.05 58.82h1.9v1.36h-1.9zM186.25 68.32h1.9v1.36h-1.9zM197.45 46.92h1.9v1.36h-1.9zM178.55 65.42h1.9v1.36h-1.9zM177.75 65.42h1.9v1.36h-1.9zM217.15 64.12h1.9v1.36h-1.9zM208.75 64.42h1.9v1.36h-1.9zM191.95 61.32h1.9v1.36h-1.9zM176.75 64.92h1.9v1.36h-1.9zM206.75 60.62h1.9v1.36h-1.9zM212.05 57.82h1.9v1.36h-1.9zM178.65 72.02h1.9v1.36h-1.9zM200.25 53.82h1.9v1.36h-1.9zM192.85 56.02h1.9v1.36h-1.9zM201.55 48.02h1.9v1.36h-1.9zM200.35 56.22h1.9v1.36h-1.9zM206.85 56.52h1.9v1.36h-1.9zM206.65 51.42h1.9v1.36h-1.9zM203.35 56.62h1.9v1.36h-1.9zM211.75 62.72h1.9v1.36h-1.9zM211.25 55.02h1.9v1.36h-1.9zM191.85 59.02h1.9v1.36h-1.9zM186.85 56.92h1.9v1.36h-1.9zM214.05 49.72h1.9v1.36h-1.9zM192.35 60.02h1.9v1.36h-1.9zM192.45 55.22h1.9v1.36h-1.9zM202.15 53.52h1.9v1.36h-1.9zM175.45 64.62h1.9v1.36h-1.9zM203.55 61.82h1.9v1.36h-1.9zM205.55 61.02h1.9v1.36h-1.9zM191.55 64.92h1.9v1.36h-1.9zM198.65 60.82h1.9v1.36h-1.9zM186.05 60.12h1.9v1.36h-1.9zM198.45 51.72h1.9v1.36h-1.9zM189.95 55.52h1.9v1.36h-1.9zM199.15 53.72h1.9v1.36h-1.9zM186.05 60.02h1.9v1.36h-1.9zM184.65 62.22h1.9v1.36h-1.9zM188.85 57.52h1.9v1.36h-1.9zM183.15 54.72h1.9v1.36h-1.9zM197.35 51.52h1.9v1.36h-1.9zM187.85 53.82h1.9v1.36h-1.9zM187.05 60.22h1.9v1.36h-1.9zM190.85 57.92h1.9v1.36h-1.9zM199.55 65.32h1.9v1.36h-1.9zM191.55 55.52h1.9v1.36h-1.9zM204.05 40.12h1.9v1.36h-1.9zM199.75 51.32h1.9v1.36h-1.9zM209.35 56.42h1.9v1.36h-1.9zM188.65 68.62h1.9v1.36h-1.9zM192.55 51.52h1.9v1.36h-1.9zM204.45 42.12h1.9v1.36h-1.9zM196.95 65.52h1.9v1.36h-1.9zM184.15 67.72h1.9v1.36h-1.9zM195.45 54.42h1.9v1.36h-1.9zM179.25 71.82h1.9v1.36h-1.9zM214.85 56.22h1.9v1.36h-1.9zM203.35 42.42h1.9v1.36h-1.9zM180.35 78.92h1.9v1.36h-1.9zM163.95 74.42h1.9v1.36h-1.9zM174.95 73.72h1.9v1.36h-1.9zM145.75 80.62h1.9v1.36h-1.9zM196.15 79.82h1.9v1.36h-1.9zM193.15 81.92h1.9v1.36h-1.9zM179.25 74.82h1.9v1.36h-1.9zM155.95 79.52h1.9v1.36h-1.9zM158.95 72.02h1.9v1.36h-1.9zM182.05 79.92h1.9v1.36h-1.9zM190.65 76.82h1.9v1.36h-1.9zM188.95 76.82h1.9v1.36h-1.9zM169.95 76.12h1.9v1.36h-1.9zM191.05 80.32h1.9v1.36h-1.9zM187.45 70.62h1.9v1.36h-1.9zM174.55 79.52h1.9v1.36h-1.9zM171.25 79.52h1.9v1.36h-1.9zM181.25 82.62h1.9v1.36h-1.9zM133.95 78.02h1.9v1.36h-1.9zM199.95 80.32h1.9v1.36h-1.9zM168.85 76.32h1.9v1.36h-1.9zM172.05 79.22h1.9v1.36h-1.9zM193.55 74.72h1.9v1.36h-1.9zM199.95 79.32h1.9v1.36h-1.9zM137.95 75.62h1.9v1.36h-1.9zM176.45 74.32h1.9v1.36h-1.9zM180.75 77.12h1.9v1.36h-1.9zM177.15 76.12h1.9v1.36h-1.9zM184.55 74.72h1.9v1.36h-1.9zM189.75 69.42h1.9v1.36h-1.9zM180.35 75.12h1.9v1.36h-1.9zM171.45 78.52h1.9v1.36h-1.9zM150.25 76.42h1.9v1.36h-1.9zM173.55 75.12h1.9v1.36h-1.9zM166.25 80.32h1.9v1.36h-1.9zM179.15 72.72h1.9v1.36h-1.9zM161.95 81.52h1.9v1.36h-1.9zM181.05 78.92h1.9v1.36h-1.9zM179.35 78.22h1.9v1.36h-1.9zM168.35 73.02h1.9v1.36h-1.9zM235.05 123.32h1.9v1.36h-1.9zM241.75 51.92h1.9v1.36h-1.9zM248.05 53.22h1.9v1.36h-1.9zM259.35 46.92h1.9v1.36h-1.9zM266.05 46.12h1.9v1.36h-1.9zM260.55 55.72h1.9v1.36h-1.9zM246.75 60.72h1.9v1.36h-1.9zM235.45 60.22h1.9v1.36h-1.9zM229.75 67.42h1.9v1.36h-1.9zM238.05 68.22h1.9v1.36h-1.9zM241.25 69.42h1.9v1.36h-1.9zM248.05 73.22h1.9v1.36h-1.9zM274.85 74.52h1.9v1.36h-1.9zM281.05 72.72h1.9v1.36h-1.9zM265.55 80.02h1.9v1.36h-1.9zM243.55 89.52h1.9v1.36h-1.9zM231.75 88.22h1.9v1.36h-1.9zM224.25 90.82h1.9v1.36h-1.9zM224.25 100.02h1.9v1.36h-1.9zM218.45 104.52h1.9v1.36h-1.9zM209.15 107.02h1.9v1.36h-1.9zM204.95 96.32h1.9v1.36h-1.9zM195.85 104.02h1.9v1.36h-1.9zM268.05 100.32h1.9v1.36h-1.9zM251.05 107.82h1.9v1.36h-1.9zM225.95 120.12h1.9v1.36h-1.9zM326.45 105.02h1.9v1.36h-1.9zM329.45 90.82h1.9v1.36h-1.9zM167.85 114.12h1.9v1.36h-1.9zM166.55 114.62h1.9v1.36h-1.9zM179.65 119.62h1.9v1.36h-1.9zM174.85 97.02h1.9v1.36h-1.9zM181.65 90.82h1.9v1.36h-1.9zM182.85 89.02h1.9v1.36h-1.9zM198.65 91.52h1.9v1.36h-1.9zM221.25 84.52h1.9v1.36h-1.9zM170.35 12.62h1.9v1.36h-1.9zM198.35 36.42h1.9v1.36h-1.9zM212.15 34.92h1.9v1.36h-1.9zM214.15 34.92h1.9v1.36h-1.9zM224.75 53.22h1.9v1.36h-1.9zM220.95 54.92h1.9v1.36h-1.9zM218.45 48.62h1.9v1.36h-1.9zM217.45 50.72h1.9v1.36h-1.9zM220.95 61.92h1.9v1.36h-1.9zM224.75 70.72h1.9v1.36h-1.9zM214.15 68.22h1.9v1.36h-1.9zM209.15 75.72h1.9v1.36h-1.9zM216.15 75.72h1.9v1.36h-1.9zM210.45 77.52h1.9v1.36h-1.9zM27.85 21.12h1.9v1.36h-1.9zM25.35 37.42h1.9v1.36h-1.9zM56.65 18.62h1.9v1.36h-1.9zM55.85 28.12h1.9v1.36h-1.9zM78.45 18.12h1.9v1.36h-1.9zM84.25 20.62h1.9v1.36h-1.9zM91.75 14.82h1.9v1.36h-1.9zM108.55 18.62h1.9v1.36h-1.9zM123.05 13.82h1.9v1.36h-1.9zM136.05 16.32h1.9v1.36h-1.9zM149.35 17.62h1.9v1.36h-1.9zM64.15 25.12h1.9v1.36h-1.9zM72.95 27.62h1.9v1.36h-1.9zM134.35 24.32h1.9v1.36h-1.9zM134.35 28.12h1.9v1.36h-1.9zM156.85 31.92h1.9v1.36h-1.9zM161.85 34.42h1.9v1.36h-1.9zM95.45 78.22h1.9v1.36h-1.9zM99.25 71.52h1.9v1.36h-1.9zM111.25 84.02h1.9v1.36h-1.9zM120.05 85.02h1.9v1.36h-1.9zM132.55 91.32h1.9v1.36h-1.9zM134.35 83.22h1.9v1.36h-1.9zM140.05 84.52h1.9v1.36h-1.9zM144.35 87.02h1.9v1.36h-1.9zM152.65 88.22h1.9v1.36h-1.9zM174.95 96.52h1.9v1.36h-1.9zM180.65 92.02h1.9v1.36h-1.9zM183.15 89.02h1.9v1.36h-1.9zM191.25 83.72h1.9v1.36h-1.9zM326.65 105.42h1.9v1.36h-1.9z"/>
<text transform="translate(111.67,24.24) rotate(-23.4)" font-size="5.35" text-anchor="middle" font-weight="bold" fill="#111" stroke="#111" stroke-width="0.18" font-family='"Liberation Sans", sans-serif'>WTP = $1000.0</text>
<line x1="23.5" y1="11.1" x2="23.5" y2="124.7" stroke="#6a6a6a" stroke-width="1.1"/>
<line x1="21.5" y1="11.1" x2="25.5" y2="11.1" stroke="#d0d0d0" stroke-width="0.6"/>
<text transform="translate(19.9,12.55) scale(1,0.88)" font-size="4.75" text-anchor="end" stroke="#1e1e1e" stroke-width="0.16" fill="#1e1e1e" font-family='"Liberation Serif", serif'>233.3</text>
<line x1="21.5" y1="20.57" x2="25.5" y2="20.57" stroke="#d0d0d0" stroke-width="0.6"/>
<text transform="translate(19.9,22.02) scale(1,0.88)" font-size="4.75" text-anchor="end" stroke="#1e1e1e" stroke-width="0.16" fill="#1e1e1e" font-family='"Liberation Serif", serif'>186.3</text>
<line x1="21.5" y1="30.03" x2="25.5" y2="30.03" stroke="#d0d0d0" stroke-width="0.6"/>
<text transform="translate(19.9,31.48) scale(1,0.88)" font-size="4.75" text-anchor="end" stroke="#1e1e1e" stroke-width="0.16" fill="#1e1e1e" font-family='"Liberation Serif", serif'>117.1</text>
<line x1="21.5" y1="39.5" x2="25.5" y2="39.5" stroke="#d0d0d0" stroke-width="0.6"/>
<text transform="translate(19.9,40.95) scale(1,0.88)" font-size="4.75" text-anchor="end" stroke="#1e1e1e" stroke-width="0.16" fill="#1e1e1e" font-family='"Liberation Serif", serif'>47.8</text>
<line x1="21.5" y1="48.97" x2="25.5" y2="48.97" stroke="#d0d0d0" stroke-width="0.6"/>
<text transform="translate(19.9,50.42) scale(1,0.88)" font-size="4.75" text-anchor="end" stroke="#1e1e1e" stroke-width="0.16" fill="#1e1e1e" font-family='"Liberation Serif", serif'>-21.4</text>
<line x1="21.5" y1="58.43" x2="25.5" y2="58.43" stroke="#d0d0d0" stroke-width="0.6"/>
<text transform="translate(19.9,59.88) scale(1,0.88)" font-size="4.75" text-anchor="end" stroke="#1e1e1e" stroke-width="0.16" fill="#1e1e1e" font-family='"Liberation Serif", serif'>-90.6</text>
<line x1="21.5" y1="67.9" x2="25.5" y2="67.9" stroke="#d0d0d0" stroke-width="0.6"/>
<text transform="translate(19.9,69.35) scale(1,0.88)" font-size="4.75" text-anchor="end" stroke="#1e1e1e" stroke-width="0.16" fill="#1e1e1e" font-family='"Liberation Serif", serif'>-159.9</text>
<line x1="21.5" y1="77.37" x2="25.5" y2="77.37" stroke="#d0d0d0" stroke-width="0.6"/>
<text transform="translate(19.9,78.82) scale(1,0.88)" font-size="4.75" text-anchor="end" stroke="#1e1e1e" stroke-width="0.16" fill="#1e1e1e" font-family='"Liberation Serif", serif'>-229.1</text>
<line x1="21.5" y1="86.83" x2="25.5" y2="86.83" stroke="#d0d0d0" stroke-width="0.6"/>
<text transform="translate(19.9,88.28) scale(1,0.88)" font-size="4.75" text-anchor="end" stroke="#1e1e1e" stroke-width="0.16" fill="#1e1e1e" font-family='"Liberation Serif", serif'>-298.3</text>
<line x1="21.5" y1="96.3" x2="25.5" y2="96.3" stroke="#d0d0d0" stroke-width="0.6"/>
<text transform="translate(19.9,97.75) scale(1,0.88)" font-size="4.75" text-anchor="end" stroke="#1e1e1e" stroke-width="0.16" fill="#1e1e1e" font-family='"Liberation Serif", serif'>-367.6</text>
<line x1="21.5" y1="105.77" x2="25.5" y2="105.77" stroke="#d0d0d0" stroke-width="0.6"/>
<text transform="translate(19.9,107.22) scale(1,0.88)" font-size="4.75" text-anchor="end" stroke="#1e1e1e" stroke-width="0.16" fill="#1e1e1e" font-family='"Liberation Serif", serif'>-436.8</text>
<line x1="21.5" y1="115.23" x2="25.5" y2="115.23" stroke="#d0d0d0" stroke-width="0.6"/>
<text transform="translate(19.9,116.68) scale(1,0.88)" font-size="4.75" text-anchor="end" stroke="#1e1e1e" stroke-width="0.16" fill="#1e1e1e" font-family='"Liberation Serif", serif'>-506.0</text>
<line x1="21.5" y1="124.7" x2="25.5" y2="124.7" stroke="#d0d0d0" stroke-width="0.6"/>
<text transform="translate(19.9,126.15) scale(1,0.88)" font-size="4.75" text-anchor="end" stroke="#1e1e1e" stroke-width="0.16" fill="#1e1e1e" font-family='"Liberation Serif", serif'>-575.3</text>
<line x1="25.3" y1="126.5" x2="331.6" y2="126.5" stroke="#777" stroke-width="1.05"/>
<line x1="25.3" y1="125.3" x2="25.3" y2="127.7" stroke="#9a9a9a" stroke-width="0.6"/>
<text transform="translate(25.3,131.9) scale(1,0.88)" font-size="4.75" text-anchor="middle" fill="#404040" font-family='"Liberation Serif", serif'>-0.0020</text>
<line x1="50.83" y1="125.3" x2="50.83" y2="127.7" stroke="#9a9a9a" stroke-width="0.6"/>
<text transform="translate(50.83,131.9) scale(1,0.88)" font-size="4.75" text-anchor="middle" fill="#404040" font-family='"Liberation Serif", serif'>-0.0004</text>
<line x1="76.35" y1="125.3" x2="76.35" y2="127.7" stroke="#9a9a9a" stroke-width="0.6"/>
<text transform="translate(76.35,131.9) scale(1,0.88)" font-size="4.75" text-anchor="middle" fill="#404040" font-family='"Liberation Serif", serif'>0.0012</text>
<line x1="101.88" y1="125.3" x2="101.88" y2="127.7" stroke="#9a9a9a" stroke-width="0.6"/>
<text transform="translate(101.88,131.9) scale(1,0.88)" font-size="4.75" text-anchor="middle" fill="#404040" font-family='"Liberation Serif", serif'>0.0028</text>
<line x1="127.4" y1="125.3" x2="127.4" y2="127.7" stroke="#9a9a9a" stroke-width="0.6"/>
<text transform="translate(127.4,131.9) scale(1,0.88)" font-size="4.75" text-anchor="middle" fill="#404040" font-family='"Liberation Serif", serif'>0.0045</text>
<line x1="152.93" y1="125.3" x2="152.93" y2="127.7" stroke="#9a9a9a" stroke-width="0.6"/>
<text transform="translate(152.93,131.9) scale(1,0.88)" font-size="4.75" text-anchor="middle" fill="#404040" font-family='"Liberation Serif", serif'>0.0061</text>
<line x1="178.45" y1="125.3" x2="178.45" y2="127.7" stroke="#9a9a9a" stroke-width="0.6"/>
<text transform="translate(178.45,131.9) scale(1,0.88)" font-size="4.75" text-anchor="middle" fill="#404040" font-family='"Liberation Serif", serif'>0.0077</text>
<line x1="203.97" y1="125.3" x2="203.97" y2="127.7" stroke="#9a9a9a" stroke-width="0.6"/>
<text transform="translate(203.97,131.9) scale(1,0.88)" font-size="4.75" text-anchor="middle" fill="#404040" font-family='"Liberation Serif", serif'>0.0093</text>
<line x1="229.5" y1="125.3" x2="229.5" y2="127.7" stroke="#9a9a9a" stroke-width="0.6"/>
<text transform="translate(229.5,131.9) scale(1,0.88)" font-size="4.75" text-anchor="middle" fill="#404040" font-family='"Liberation Serif", serif'>0.0109</text>
<line x1="255.03" y1="125.3" x2="255.03" y2="127.7" stroke="#9a9a9a" stroke-width="0.6"/>
<text transform="translate(255.03,131.9) scale(1,0.88)" font-size="4.75" text-anchor="middle" fill="#404040" font-family='"Liberation Serif", serif'>0.0125</text>
<line x1="280.55" y1="125.3" x2="280.55" y2="127.7" stroke="#9a9a9a" stroke-width="0.6"/>
<text transform="translate(280.55,131.9) scale(1,0.88)" font-size="4.75" text-anchor="middle" fill="#404040" font-family='"Liberation Serif", serif'>0.0141</text>
<line x1="306.08" y1="125.3" x2="306.08" y2="127.7" stroke="#9a9a9a" stroke-width="0.6"/>
<text transform="translate(306.08,131.9) scale(1,0.88)" font-size="4.75" text-anchor="middle" fill="#404040" font-family='"Liberation Serif", serif'>0.0158</text>
<line x1="331.6" y1="125.3" x2="331.6" y2="127.7" stroke="#9a9a9a" stroke-width="0.6"/>
<text transform="translate(331.6,131.9) scale(1,0.88)" font-size="4.75" text-anchor="middle" fill="#404040" font-family='"Liberation Serif", serif'>0.0174</text>
<text transform="translate(168,4.3) scale(1,0.75)" font-size="7.7" text-anchor="middle" font-weight="bold" stroke="#000" stroke-width="0.12" fill="#000" font-family='"Liberation Serif", serif'>Screening with follow-up vs. non-screening (40-44 years)</text>
<text transform="translate(178.5,139.5) scale(1,0.75)" font-size="6.8" text-anchor="middle" font-weight="bold" stroke="#000" stroke-width="0.1" fill="#000" font-family='"Liberation Serif", serif'>Incremental Effectiveness (QALY)</text>
<text transform="translate(5.3,68.3) scale(1,0.75) rotate(-90)" font-size="6.8" text-anchor="middle" font-weight="bold" fill="#000" stroke="#000" stroke-width="0.1" font-family='"Liberation Serif", serif'>Incremental Cost (USD)</text>
<line x1="372.7" y1="47.1" x2="678.8" y2="47.1" stroke="#c9c9c9" stroke-width="0.8" stroke-dasharray="3,1.7"/>
<line x1="423.6" y1="12.3" x2="423.6" y2="126.5" stroke="#8a8a8a" stroke-width="0.8" stroke-dasharray="2.2,1.2"/>
<ellipse cx="486" cy="55.2" rx="95.2" ry="27.1" transform="rotate(11.46 486 55.2)" fill="none" stroke="#e2e2e2" stroke-width="0.75"/>
<line x1="372.6" y1="68.9" x2="505.6" y2="12" stroke="#d4d4d4" stroke-width="0.75"/>
<rect x="-19.6" y="-2.6" width="39.2" height="5.2" fill="#fff" transform="translate(479.5,23) rotate(-23.2)"/>
<path fill="#5aa3dc" d="M436.05 46.22h1.9v1.36h-1.9zM438.25 36.92h1.9v1.36h-1.9zM431.95 40.82h1.9v1.36h-1.9zM428.65 40.22h1.9v1.36h-1.9zM431.45 43.62h1.9v1.36h-1.9zM429.55 47.82h1.9v1.36h-1.9zM440.05 42.92h1.9v1.36h-1.9zM430.35 46.92h1.9v1.36h-1.9zM435.15 45.62h1.9v1.36h-1.9zM429.75 46.42h1.9v1.36h-1.9zM426.35 54.02h1.9v1.36h-1.9zM427.75 44.12h1.9v1.36h-1.9zM434.15 46.62h1.9v1.36h-1.9zM432.85 48.22h1.9v1.36h-1.9zM432.65 41.92h1.9v1.36h-1.9zM441.05 38.72h1.9v1.36h-1.9zM432.95 32.32h1.9v1.36h-1.9zM434.75 34.72h1.9v1.36h-1.9zM436.95 44.52h1.9v1.36h-1.9zM434.25 35.82h1.9v1.36h-1.9zM428.05 47.12h1.9v1.36h-1.9zM422.65 46.22h1.9v1.36h-1.9zM424.65 45.22h1.9v1.36h-1.9zM427.75 55.22h1.9v1.36h-1.9zM438.55 41.42h1.9v1.36h-1.9zM423.85 39.72h1.9v1.36h-1.9zM433.15 38.52h1.9v1.36h-1.9zM434.85 50.52h1.9v1.36h-1.9zM433.15 41.92h1.9v1.36h-1.9zM437.35 42.72h1.9v1.36h-1.9zM437.75 42.62h1.9v1.36h-1.9zM441.55 42.82h1.9v1.36h-1.9zM428.05 45.12h1.9v1.36h-1.9zM430.15 38.82h1.9v1.36h-1.9zM432.75 49.12h1.9v1.36h-1.9zM432.65 43.62h1.9v1.36h-1.9zM437.45 36.62h1.9v1.36h-1.9zM436.75 43.22h1.9v1.36h-1.9zM433.95 43.22h1.9v1.36h-1.9zM431.75 41.42h1.9v1.36h-1.9zM435.55 57.42h1.9v1.36h-1.9zM438.85 49.82h1.9v1.36h-1.9zM436.35 41.72h1.9v1.36h-1.9zM436.55 57.32h1.9v1.36h-1.9zM427.05 49.72h1.9v1.36h-1.9zM438.65 46.42h1.9v1.36h-1.9zM437.55 53.22h1.9v1.36h-1.9zM442.05 46.82h1.9v1.36h-1.9zM437.85 45.92h1.9v1.36h-1.9zM435.15 42.12h1.9v1.36h-1.9zM471.15 59.12h1.9v1.36h-1.9zM457.15 51.72h1.9v1.36h-1.9zM470.75 51.12h1.9v1.36h-1.9zM476.15 52.72h1.9v1.36h-1.9zM440.45 43.72h1.9v1.36h-1.9zM472.55 54.72h1.9v1.36h-1.9zM479.15 52.92h1.9v1.36h-1.9zM464.35 42.02h1.9v1.36h-1.9zM484.55 46.72h1.9v1.36h-1.9zM478.65 45.22h1.9v1.36h-1.9zM449.05 50.82h1.9v1.36h-1.9zM453.35 46.32h1.9v1.36h-1.9zM475.65 55.22h1.9v1.36h-1.9zM467.45 49.12h1.9v1.36h-1.9zM446.55 47.22h1.9v1.36h-1.9zM451.65 50.02h1.9v1.36h-1.9zM473.85 50.42h1.9v1.36h-1.9zM447.35 46.52h1.9v1.36h-1.9zM482.55 52.72h1.9v1.36h-1.9zM464.65 52.42h1.9v1.36h-1.9zM470.85 52.02h1.9v1.36h-1.9zM480.65 56.32h1.9v1.36h-1.9zM462.75 56.82h1.9v1.36h-1.9zM460.55 58.12h1.9v1.36h-1.9zM439.75 42.72h1.9v1.36h-1.9zM457.95 46.52h1.9v1.36h-1.9zM442.55 53.02h1.9v1.36h-1.9zM465.65 51.12h1.9v1.36h-1.9zM454.05 51.92h1.9v1.36h-1.9zM459.15 46.72h1.9v1.36h-1.9zM469.65 53.32h1.9v1.36h-1.9zM462.25 54.72h1.9v1.36h-1.9zM442.25 49.02h1.9v1.36h-1.9zM451.75 57.72h1.9v1.36h-1.9zM469.05 62.92h1.9v1.36h-1.9zM487.85 50.22h1.9v1.36h-1.9zM442.35 52.52h1.9v1.36h-1.9zM456.25 49.72h1.9v1.36h-1.9zM442.85 53.22h1.9v1.36h-1.9zM464.05 53.22h1.9v1.36h-1.9zM466.55 46.12h1.9v1.36h-1.9zM423.15 47.32h1.9v1.36h-1.9zM450.45 47.32h1.9v1.36h-1.9zM477.35 51.12h1.9v1.36h-1.9zM486.65 53.12h1.9v1.36h-1.9zM472.55 54.22h1.9v1.36h-1.9zM475.05 44.62h1.9v1.36h-1.9zM479.55 52.42h1.9v1.36h-1.9zM444.25 53.32h1.9v1.36h-1.9zM466.55 58.22h1.9v1.36h-1.9zM473.35 53.52h1.9v1.36h-1.9zM486.05 56.42h1.9v1.36h-1.9zM468.55 57.92h1.9v1.36h-1.9zM446.15 53.92h1.9v1.36h-1.9zM461.75 45.32h1.9v1.36h-1.9zM467.15 53.12h1.9v1.36h-1.9zM489.75 57.52h1.9v1.36h-1.9zM459.75 49.62h1.9v1.36h-1.9zM445.55 42.02h1.9v1.36h-1.9zM458.05 44.32h1.9v1.36h-1.9zM449.05 54.92h1.9v1.36h-1.9zM465.35 46.92h1.9v1.36h-1.9zM442.05 48.82h1.9v1.36h-1.9zM490.65 49.62h1.9v1.36h-1.9zM490.65 48.02h1.9v1.36h-1.9zM457.25 54.42h1.9v1.36h-1.9zM447.95 50.42h1.9v1.36h-1.9zM437.85 53.22h1.9v1.36h-1.9zM480.85 48.32h1.9v1.36h-1.9zM464.35 48.72h1.9v1.36h-1.9zM471.45 55.92h1.9v1.36h-1.9zM467.55 52.12h1.9v1.36h-1.9zM455.85 48.22h1.9v1.36h-1.9zM457.35 54.42h1.9v1.36h-1.9zM449.15 42.92h1.9v1.36h-1.9zM441.75 52.32h1.9v1.36h-1.9zM476.95 56.12h1.9v1.36h-1.9zM488.35 49.42h1.9v1.36h-1.9zM477.65 55.42h1.9v1.36h-1.9zM458.45 46.52h1.9v1.36h-1.9zM476.15 47.82h1.9v1.36h-1.9zM456.35 45.22h1.9v1.36h-1.9zM490.75 52.12h1.9v1.36h-1.9zM452.65 49.02h1.9v1.36h-1.9zM457.15 51.12h1.9v1.36h-1.9zM432.35 42.92h1.9v1.36h-1.9zM469.35 57.22h1.9v1.36h-1.9zM443.85 50.52h1.9v1.36h-1.9zM456.05 44.62h1.9v1.36h-1.9zM475.85 50.42h1.9v1.36h-1.9zM460.75 42.72h1.9v1.36h-1.9zM464.05 40.22h1.9v1.36h-1.9zM464.35 58.62h1.9v1.36h-1.9zM440.15 54.42h1.9v1.36h-1.9zM484.95 50.92h1.9v1.36h-1.9zM479.95 52.22h1.9v1.36h-1.9zM453.25 39.32h1.9v1.36h-1.9zM443.15 41.72h1.9v1.36h-1.9zM458.45 43.22h1.9v1.36h-1.9zM490.65 45.92h1.9v1.36h-1.9zM485.95 58.12h1.9v1.36h-1.9zM462.45 47.22h1.9v1.36h-1.9zM460.65 43.52h1.9v1.36h-1.9zM471.55 60.62h1.9v1.36h-1.9zM475.85 57.42h1.9v1.36h-1.9zM449.05 51.92h1.9v1.36h-1.9zM443.75 47.42h1.9v1.36h-1.9zM462.25 51.12h1.9v1.36h-1.9zM428.75 50.12h1.9v1.36h-1.9zM445.95 42.32h1.9v1.36h-1.9zM435.65 50.22h1.9v1.36h-1.9zM454.05 54.22h1.9v1.36h-1.9zM457.05 50.62h1.9v1.36h-1.9zM485.75 56.52h1.9v1.36h-1.9zM473.65 59.62h1.9v1.36h-1.9zM465.05 45.52h1.9v1.36h-1.9zM447.95 41.52h1.9v1.36h-1.9zM467.15 48.92h1.9v1.36h-1.9zM469.55 55.82h1.9v1.36h-1.9zM447.15 51.12h1.9v1.36h-1.9zM482.65 52.42h1.9v1.36h-1.9zM476.95 50.52h1.9v1.36h-1.9zM444.95 48.72h1.9v1.36h-1.9zM428.75 53.02h1.9v1.36h-1.9zM451.85 57.82h1.9v1.36h-1.9zM440.05 50.42h1.9v1.36h-1.9zM466.95 50.02h1.9v1.36h-1.9zM467.75 47.02h1.9v1.36h-1.9zM443.15 42.12h1.9v1.36h-1.9zM451.65 45.82h1.9v1.36h-1.9zM465.25 49.02h1.9v1.36h-1.9zM449.95 46.12h1.9v1.36h-1.9zM428.65 47.12h1.9v1.36h-1.9zM468.55 43.82h1.9v1.36h-1.9zM456.45 54.32h1.9v1.36h-1.9zM449.05 51.22h1.9v1.36h-1.9zM484.65 58.62h1.9v1.36h-1.9zM449.15 53.82h1.9v1.36h-1.9zM458.15 52.72h1.9v1.36h-1.9zM451.15 51.22h1.9v1.36h-1.9zM447.75 51.72h1.9v1.36h-1.9zM491.65 44.82h1.9v1.36h-1.9zM438.25 52.42h1.9v1.36h-1.9zM474.75 49.42h1.9v1.36h-1.9zM471.05 53.72h1.9v1.36h-1.9zM470.15 59.02h1.9v1.36h-1.9zM449.65 53.92h1.9v1.36h-1.9zM464.75 47.12h1.9v1.36h-1.9zM470.05 44.02h1.9v1.36h-1.9zM435.15 55.52h1.9v1.36h-1.9zM441.45 59.22h1.9v1.36h-1.9zM479.15 48.82h1.9v1.36h-1.9zM460.25 41.62h1.9v1.36h-1.9zM454.55 57.92h1.9v1.36h-1.9zM453.55 45.82h1.9v1.36h-1.9zM452.65 52.42h1.9v1.36h-1.9zM476.45 50.32h1.9v1.36h-1.9zM425.45 50.62h1.9v1.36h-1.9zM463.85 51.92h1.9v1.36h-1.9zM451.35 54.52h1.9v1.36h-1.9zM491.95 46.82h1.9v1.36h-1.9zM462.65 45.02h1.9v1.36h-1.9zM449.05 49.12h1.9v1.36h-1.9zM469.75 46.52h1.9v1.36h-1.9zM455.45 58.22h1.9v1.36h-1.9zM469.55 55.12h1.9v1.36h-1.9zM467.85 50.12h1.9v1.36h-1.9zM468.05 54.12h1.9v1.36h-1.9zM460.65 56.52h1.9v1.36h-1.9zM460.75 55.82h1.9v1.36h-1.9zM461.15 54.92h1.9v1.36h-1.9zM449.45 47.02h1.9v1.36h-1.9zM440.45 56.52h1.9v1.36h-1.9zM469.75 52.42h1.9v1.36h-1.9zM471.95 46.72h1.9v1.36h-1.9zM462.85 48.02h1.9v1.36h-1.9zM428.65 47.62h1.9v1.36h-1.9zM445.35 58.02h1.9v1.36h-1.9zM448.15 46.62h1.9v1.36h-1.9zM477.95 51.62h1.9v1.36h-1.9zM437.75 50.82h1.9v1.36h-1.9zM447.35 59.72h1.9v1.36h-1.9zM442.75 45.62h1.9v1.36h-1.9zM493.55 51.82h1.9v1.36h-1.9zM444.15 51.52h1.9v1.36h-1.9zM455.95 50.32h1.9v1.36h-1.9zM445.55 38.92h1.9v1.36h-1.9zM473.75 53.72h1.9v1.36h-1.9zM461.75 50.12h1.9v1.36h-1.9zM473.25 54.62h1.9v1.36h-1.9zM465.35 53.82h1.9v1.36h-1.9zM457.55 48.52h1.9v1.36h-1.9zM485.35 50.72h1.9v1.36h-1.9zM495.45 56.22h1.9v1.36h-1.9zM461.75 57.12h1.9v1.36h-1.9zM452.45 49.32h1.9v1.36h-1.9zM455.05 50.52h1.9v1.36h-1.9zM472.25 63.12h1.9v1.36h-1.9zM470.35 45.32h1.9v1.36h-1.9zM447.15 39.82h1.9v1.36h-1.9zM473.35 56.42h1.9v1.36h-1.9zM466.65 53.12h1.9v1.36h-1.9zM470.05 53.72h1.9v1.36h-1.9zM472.15 52.62h1.9v1.36h-1.9zM443.55 55.22h1.9v1.36h-1.9zM484.75 42.82h1.9v1.36h-1.9zM457.35 44.22h1.9v1.36h-1.9zM469.95 49.62h1.9v1.36h-1.9zM485.45 58.32h1.9v1.36h-1.9zM453.05 47.72h1.9v1.36h-1.9zM450.65 53.52h1.9v1.36h-1.9zM444.65 52.42h1.9v1.36h-1.9zM436.35 55.42h1.9v1.36h-1.9zM469.65 44.72h1.9v1.36h-1.9zM447.35 50.82h1.9v1.36h-1.9zM464.05 59.52h1.9v1.36h-1.9zM453.65 42.82h1.9v1.36h-1.9zM482.05 53.22h1.9v1.36h-1.9zM464.15 54.42h1.9v1.36h-1.9zM439.85 45.92h1.9v1.36h-1.9zM441.65 43.42h1.9v1.36h-1.9zM455.75 44.52h1.9v1.36h-1.9zM488.75 55.12h1.9v1.36h-1.9zM475.85 42.22h1.9v1.36h-1.9zM457.25 49.72h1.9v1.36h-1.9zM463.65 53.42h1.9v1.36h-1.9zM447.35 44.92h1.9v1.36h-1.9zM497.15 51.12h1.9v1.36h-1.9zM447.25 51.12h1.9v1.36h-1.9zM468.65 61.12h1.9v1.36h-1.9zM457.15 46.42h1.9v1.36h-1.9zM479.25 47.62h1.9v1.36h-1.9zM445.85 53.02h1.9v1.36h-1.9zM457.95 44.72h1.9v1.36h-1.9zM456.45 48.22h1.9v1.36h-1.9zM457.25 46.42h1.9v1.36h-1.9zM471.15 49.32h1.9v1.36h-1.9zM450.25 56.22h1.9v1.36h-1.9zM444.65 54.12h1.9v1.36h-1.9zM471.25 49.62h1.9v1.36h-1.9zM465.15 42.62h1.9v1.36h-1.9zM465.55 45.22h1.9v1.36h-1.9zM445.95 51.42h1.9v1.36h-1.9zM448.15 50.82h1.9v1.36h-1.9zM467.75 57.02h1.9v1.36h-1.9zM467.55 56.92h1.9v1.36h-1.9zM448.05 48.02h1.9v1.36h-1.9zM471.75 58.02h1.9v1.36h-1.9zM468.85 48.22h1.9v1.36h-1.9zM442.75 44.52h1.9v1.36h-1.9zM480.65 46.32h1.9v1.36h-1.9zM456.75 54.12h1.9v1.36h-1.9zM468.65 47.22h1.9v1.36h-1.9zM495.25 53.52h1.9v1.36h-1.9zM465.55 55.62h1.9v1.36h-1.9zM455.35 54.32h1.9v1.36h-1.9zM458.75 45.72h1.9v1.36h-1.9zM444.45 52.02h1.9v1.36h-1.9zM462.75 50.02h1.9v1.36h-1.9zM453.25 49.02h1.9v1.36h-1.9zM474.35 57.62h1.9v1.36h-1.9zM456.55 52.02h1.9v1.36h-1.9zM429.35 42.72h1.9v1.36h-1.9zM449.15 45.12h1.9v1.36h-1.9zM473.55 39.82h1.9v1.36h-1.9zM469.15 55.02h1.9v1.36h-1.9zM498.95 50.02h1.9v1.36h-1.9zM468.35 59.42h1.9v1.36h-1.9zM477.35 46.42h1.9v1.36h-1.9zM455.25 44.12h1.9v1.36h-1.9zM461.95 54.62h1.9v1.36h-1.9zM484.15 55.12h1.9v1.36h-1.9zM476.05 57.42h1.9v1.36h-1.9zM446.75 53.82h1.9v1.36h-1.9zM477.75 50.72h1.9v1.36h-1.9zM444.65 50.82h1.9v1.36h-1.9zM463.45 54.82h1.9v1.36h-1.9zM430.55 47.12h1.9v1.36h-1.9zM458.55 49.02h1.9v1.36h-1.9zM456.75 45.22h1.9v1.36h-1.9zM453.25 50.22h1.9v1.36h-1.9zM440.55 49.32h1.9v1.36h-1.9zM465.95 43.92h1.9v1.36h-1.9zM453.75 41.82h1.9v1.36h-1.9zM461.65 52.02h1.9v1.36h-1.9zM452.15 50.72h1.9v1.36h-1.9zM470.25 55.12h1.9v1.36h-1.9zM438.35 47.82h1.9v1.36h-1.9zM478.25 55.92h1.9v1.36h-1.9zM482.45 56.22h1.9v1.36h-1.9zM452.35 51.52h1.9v1.36h-1.9zM451.35 57.82h1.9v1.36h-1.9zM451.35 54.32h1.9v1.36h-1.9zM481.75 48.42h1.9v1.36h-1.9zM483.95 58.02h1.9v1.36h-1.9zM441.25 42.32h1.9v1.36h-1.9zM477.35 47.72h1.9v1.36h-1.9zM464.85 50.72h1.9v1.36h-1.9zM443.15 58.72h1.9v1.36h-1.9zM486.35 52.62h1.9v1.36h-1.9zM487.95 52.22h1.9v1.36h-1.9zM465.55 49.42h1.9v1.36h-1.9zM438.65 47.72h1.9v1.36h-1.9zM444.65 52.22h1.9v1.36h-1.9zM463.75 47.82h1.9v1.36h-1.9zM482.85 54.02h1.9v1.36h-1.9zM492.25 50.32h1.9v1.36h-1.9zM454.65 46.42h1.9v1.36h-1.9zM465.15 50.12h1.9v1.36h-1.9zM461.15 60.52h1.9v1.36h-1.9zM474.85 48.12h1.9v1.36h-1.9zM468.05 49.72h1.9v1.36h-1.9zM455.95 49.42h1.9v1.36h-1.9zM462.05 54.42h1.9v1.36h-1.9zM478.35 51.92h1.9v1.36h-1.9zM447.25 50.12h1.9v1.36h-1.9zM457.85 49.22h1.9v1.36h-1.9zM440.45 49.02h1.9v1.36h-1.9zM429.75 56.12h1.9v1.36h-1.9zM473.35 55.62h1.9v1.36h-1.9zM445.15 51.32h1.9v1.36h-1.9zM482.95 50.82h1.9v1.36h-1.9zM442.85 49.22h1.9v1.36h-1.9zM468.85 43.62h1.9v1.36h-1.9zM472.65 57.72h1.9v1.36h-1.9zM471.85 55.02h1.9v1.36h-1.9zM487.25 53.42h1.9v1.36h-1.9zM485.05 51.02h1.9v1.36h-1.9zM449.45 48.42h1.9v1.36h-1.9zM443.15 52.02h1.9v1.36h-1.9zM449.05 52.22h1.9v1.36h-1.9zM465.95 60.12h1.9v1.36h-1.9zM491.35 49.42h1.9v1.36h-1.9zM458.15 49.72h1.9v1.36h-1.9zM450.05 60.22h1.9v1.36h-1.9zM482.15 50.72h1.9v1.36h-1.9zM437.75 46.12h1.9v1.36h-1.9zM461.05 59.52h1.9v1.36h-1.9zM438.85 57.62h1.9v1.36h-1.9zM436.65 51.52h1.9v1.36h-1.9zM441.45 47.42h1.9v1.36h-1.9zM461.85 45.12h1.9v1.36h-1.9zM424.85 48.52h1.9v1.36h-1.9zM461.05 42.82h1.9v1.36h-1.9zM469.25 50.52h1.9v1.36h-1.9zM441.85 45.32h1.9v1.36h-1.9zM477.65 50.62h1.9v1.36h-1.9zM439.85 43.42h1.9v1.36h-1.9zM455.95 45.62h1.9v1.36h-1.9zM465.95 46.22h1.9v1.36h-1.9zM475.85 58.12h1.9v1.36h-1.9zM450.95 45.72h1.9v1.36h-1.9zM467.55 45.92h1.9v1.36h-1.9zM480.05 48.02h1.9v1.36h-1.9zM440.55 54.22h1.9v1.36h-1.9zM469.25 39.82h1.9v1.36h-1.9zM449.35 43.02h1.9v1.36h-1.9zM457.05 51.52h1.9v1.36h-1.9zM452.95 51.12h1.9v1.36h-1.9zM476.25 49.72h1.9v1.36h-1.9zM439.55 44.22h1.9v1.36h-1.9zM474.45 60.92h1.9v1.36h-1.9zM457.75 52.62h1.9v1.36h-1.9zM447.25 46.82h1.9v1.36h-1.9zM477.25 48.72h1.9v1.36h-1.9zM463.75 51.52h1.9v1.36h-1.9zM480.45 53.02h1.9v1.36h-1.9zM459.95 49.02h1.9v1.36h-1.9zM451.45 55.82h1.9v1.36h-1.9zM478.45 46.22h1.9v1.36h-1.9zM450.45 48.52h1.9v1.36h-1.9zM453.35 48.22h1.9v1.36h-1.9zM450.05 60.02h1.9v1.36h-1.9zM436.35 45.82h1.9v1.36h-1.9zM447.55 51.12h1.9v1.36h-1.9zM438.95 49.52h1.9v1.36h-1.9zM462.15 61.52h1.9v1.36h-1.9zM471.75 50.92h1.9v1.36h-1.9zM462.05 60.92h1.9v1.36h-1.9zM459.15 46.82h1.9v1.36h-1.9zM450.45 48.22h1.9v1.36h-1.9zM476.05 46.02h1.9v1.36h-1.9zM451.05 50.12h1.9v1.36h-1.9zM444.95 53.42h1.9v1.36h-1.9zM454.05 53.12h1.9v1.36h-1.9zM469.05 59.32h1.9v1.36h-1.9zM490.45 47.52h1.9v1.36h-1.9zM438.85 43.22h1.9v1.36h-1.9zM468.65 54.02h1.9v1.36h-1.9zM460.85 50.52h1.9v1.36h-1.9zM486.25 56.92h1.9v1.36h-1.9zM464.45 54.32h1.9v1.36h-1.9zM435.15 55.82h1.9v1.36h-1.9zM495.75 53.42h1.9v1.36h-1.9zM453.25 57.12h1.9v1.36h-1.9zM452.55 50.82h1.9v1.36h-1.9zM471.25 50.52h1.9v1.36h-1.9zM473.45 40.82h1.9v1.36h-1.9zM469.85 52.52h1.9v1.36h-1.9zM454.35 50.72h1.9v1.36h-1.9zM468.75 44.92h1.9v1.36h-1.9zM465.45 46.72h1.9v1.36h-1.9zM496.15 54.62h1.9v1.36h-1.9zM465.35 56.62h1.9v1.36h-1.9zM476.65 56.82h1.9v1.36h-1.9zM450.05 51.02h1.9v1.36h-1.9zM475.95 52.82h1.9v1.36h-1.9zM463.25 47.82h1.9v1.36h-1.9zM463.85 58.52h1.9v1.36h-1.9zM441.15 42.32h1.9v1.36h-1.9zM441.25 41.32h1.9v1.36h-1.9zM481.95 62.22h1.9v1.36h-1.9zM469.45 51.72h1.9v1.36h-1.9zM484.05 57.82h1.9v1.36h-1.9zM422.75 48.42h1.9v1.36h-1.9zM449.35 46.82h1.9v1.36h-1.9zM487.75 49.82h1.9v1.36h-1.9zM467.85 57.72h1.9v1.36h-1.9zM464.25 51.12h1.9v1.36h-1.9zM443.95 43.22h1.9v1.36h-1.9zM479.65 44.72h1.9v1.36h-1.9zM478.85 58.62h1.9v1.36h-1.9zM486.45 51.22h1.9v1.36h-1.9zM446.95 50.62h1.9v1.36h-1.9zM482.85 54.92h1.9v1.36h-1.9zM469.25 50.62h1.9v1.36h-1.9zM477.25 41.02h1.9v1.36h-1.9zM440.95 58.32h1.9v1.36h-1.9zM468.85 55.12h1.9v1.36h-1.9zM429.35 44.52h1.9v1.36h-1.9zM500.35 53.42h1.9v1.36h-1.9zM526.05 52.02h1.9v1.36h-1.9zM509.35 50.22h1.9v1.36h-1.9zM503.45 56.42h1.9v1.36h-1.9zM513.35 60.62h1.9v1.36h-1.9zM486.95 57.92h1.9v1.36h-1.9zM514.55 50.02h1.9v1.36h-1.9zM528.05 51.52h1.9v1.36h-1.9zM501.15 57.22h1.9v1.36h-1.9zM529.65 53.12h1.9v1.36h-1.9zM530.35 58.02h1.9v1.36h-1.9zM494.75 58.02h1.9v1.36h-1.9zM508.35 50.12h1.9v1.36h-1.9zM504.35 61.62h1.9v1.36h-1.9zM512.75 53.22h1.9v1.36h-1.9zM520.35 46.72h1.9v1.36h-1.9zM517.05 62.82h1.9v1.36h-1.9zM489.15 46.82h1.9v1.36h-1.9zM493.65 52.42h1.9v1.36h-1.9zM495.25 53.62h1.9v1.36h-1.9zM491.25 55.22h1.9v1.36h-1.9zM516.05 57.52h1.9v1.36h-1.9zM497.85 58.82h1.9v1.36h-1.9zM482.85 49.22h1.9v1.36h-1.9zM505.45 61.82h1.9v1.36h-1.9zM500.85 57.62h1.9v1.36h-1.9zM534.75 51.12h1.9v1.36h-1.9zM511.25 57.52h1.9v1.36h-1.9zM517.55 57.92h1.9v1.36h-1.9zM505.25 54.52h1.9v1.36h-1.9zM485.25 57.52h1.9v1.36h-1.9zM512.45 51.22h1.9v1.36h-1.9zM535.45 55.92h1.9v1.36h-1.9zM496.75 57.32h1.9v1.36h-1.9zM513.95 58.62h1.9v1.36h-1.9zM505.55 58.82h1.9v1.36h-1.9zM508.75 61.62h1.9v1.36h-1.9zM512.65 49.82h1.9v1.36h-1.9zM490.95 56.92h1.9v1.36h-1.9zM522.45 46.52h1.9v1.36h-1.9zM516.85 54.52h1.9v1.36h-1.9zM511.85 49.82h1.9v1.36h-1.9zM489.85 50.02h1.9v1.36h-1.9zM494.65 51.32h1.9v1.36h-1.9zM508.85 54.72h1.9v1.36h-1.9zM537.25 50.42h1.9v1.36h-1.9zM500.35 54.62h1.9v1.36h-1.9zM517.25 48.82h1.9v1.36h-1.9zM484.55 54.72h1.9v1.36h-1.9zM513.05 58.12h1.9v1.36h-1.9zM517.85 45.92h1.9v1.36h-1.9zM524.05 54.52h1.9v1.36h-1.9zM540.15 53.82h1.9v1.36h-1.9zM473.35 51.92h1.9v1.36h-1.9zM510.15 56.42h1.9v1.36h-1.9zM510.65 51.42h1.9v1.36h-1.9zM481.15 52.02h1.9v1.36h-1.9zM502.45 50.22h1.9v1.36h-1.9zM508.25 52.62h1.9v1.36h-1.9zM475.75 47.82h1.9v1.36h-1.9zM494.15 52.22h1.9v1.36h-1.9zM532.75 55.52h1.9v1.36h-1.9zM516.45 42.42h1.9v1.36h-1.9zM526.35 52.22h1.9v1.36h-1.9zM515.85 48.42h1.9v1.36h-1.9zM506.35 59.12h1.9v1.36h-1.9zM506.75 55.62h1.9v1.36h-1.9zM495.45 49.52h1.9v1.36h-1.9zM511.45 53.52h1.9v1.36h-1.9zM509.45 50.62h1.9v1.36h-1.9zM500.85 58.42h1.9v1.36h-1.9zM529.35 53.22h1.9v1.36h-1.9zM497.05 54.62h1.9v1.36h-1.9zM521.55 56.82h1.9v1.36h-1.9zM524.15 54.12h1.9v1.36h-1.9zM492.75 42.52h1.9v1.36h-1.9zM520.45 56.62h1.9v1.36h-1.9zM496.95 55.92h1.9v1.36h-1.9zM488.85 59.42h1.9v1.36h-1.9zM522.95 62.12h1.9v1.36h-1.9zM499.85 62.32h1.9v1.36h-1.9zM519.55 64.42h1.9v1.36h-1.9zM480.35 58.42h1.9v1.36h-1.9zM527.75 53.82h1.9v1.36h-1.9zM522.15 55.92h1.9v1.36h-1.9zM530.05 54.22h1.9v1.36h-1.9zM508.35 47.52h1.9v1.36h-1.9zM539.75 51.22h1.9v1.36h-1.9zM491.15 48.32h1.9v1.36h-1.9zM508.55 54.82h1.9v1.36h-1.9zM513.65 63.92h1.9v1.36h-1.9zM523.25 46.72h1.9v1.36h-1.9zM510.15 53.52h1.9v1.36h-1.9zM519.05 55.82h1.9v1.36h-1.9zM528.05 56.32h1.9v1.36h-1.9zM538.25 50.42h1.9v1.36h-1.9zM525.25 60.82h1.9v1.36h-1.9zM496.35 46.02h1.9v1.36h-1.9zM496.95 56.12h1.9v1.36h-1.9zM533.55 47.22h1.9v1.36h-1.9zM503.25 46.72h1.9v1.36h-1.9zM519.55 56.02h1.9v1.36h-1.9zM507.55 58.82h1.9v1.36h-1.9zM511.65 63.32h1.9v1.36h-1.9zM502.95 50.72h1.9v1.36h-1.9zM507.45 54.22h1.9v1.36h-1.9zM527.45 53.22h1.9v1.36h-1.9zM499.35 50.02h1.9v1.36h-1.9zM495.85 42.32h1.9v1.36h-1.9zM509.25 57.52h1.9v1.36h-1.9zM510.15 50.02h1.9v1.36h-1.9zM521.45 59.42h1.9v1.36h-1.9zM511.15 58.42h1.9v1.36h-1.9zM505.55 56.72h1.9v1.36h-1.9zM516.05 47.72h1.9v1.36h-1.9zM499.65 49.82h1.9v1.36h-1.9zM511.75 54.52h1.9v1.36h-1.9zM504.35 56.62h1.9v1.36h-1.9zM483.85 54.52h1.9v1.36h-1.9zM495.65 50.22h1.9v1.36h-1.9zM528.95 53.52h1.9v1.36h-1.9zM523.85 55.02h1.9v1.36h-1.9zM502.65 51.92h1.9v1.36h-1.9zM484.65 51.22h1.9v1.36h-1.9zM509.05 62.82h1.9v1.36h-1.9zM518.75 59.92h1.9v1.36h-1.9zM492.95 49.32h1.9v1.36h-1.9zM512.95 57.82h1.9v1.36h-1.9zM490.35 59.62h1.9v1.36h-1.9zM497.25 55.42h1.9v1.36h-1.9zM499.65 58.32h1.9v1.36h-1.9zM520.55 61.12h1.9v1.36h-1.9zM493.05 54.52h1.9v1.36h-1.9zM542.45 56.32h1.9v1.36h-1.9zM514.55 55.52h1.9v1.36h-1.9zM498.85 64.12h1.9v1.36h-1.9zM532.05 51.72h1.9v1.36h-1.9zM514.75 65.82h1.9v1.36h-1.9zM514.65 55.32h1.9v1.36h-1.9zM522.45 60.12h1.9v1.36h-1.9zM488.65 48.72h1.9v1.36h-1.9zM532.55 52.42h1.9v1.36h-1.9zM506.85 50.62h1.9v1.36h-1.9zM537.75 48.72h1.9v1.36h-1.9zM510.25 52.32h1.9v1.36h-1.9zM503.05 47.02h1.9v1.36h-1.9zM494.85 52.62h1.9v1.36h-1.9zM511.75 43.82h1.9v1.36h-1.9zM508.95 49.32h1.9v1.36h-1.9zM506.55 51.72h1.9v1.36h-1.9zM505.45 52.92h1.9v1.36h-1.9zM514.55 54.82h1.9v1.36h-1.9zM484.45 54.92h1.9v1.36h-1.9zM481.05 47.02h1.9v1.36h-1.9zM536.15 53.72h1.9v1.36h-1.9zM503.95 56.22h1.9v1.36h-1.9zM517.35 51.82h1.9v1.36h-1.9zM509.45 42.42h1.9v1.36h-1.9zM512.05 58.02h1.9v1.36h-1.9zM479.55 58.32h1.9v1.36h-1.9zM503.35 62.42h1.9v1.36h-1.9zM518.15 50.72h1.9v1.36h-1.9zM497.45 51.62h1.9v1.36h-1.9zM518.05 49.82h1.9v1.36h-1.9zM483.75 53.82h1.9v1.36h-1.9zM494.25 63.62h1.9v1.36h-1.9zM490.55 55.02h1.9v1.36h-1.9zM503.95 45.32h1.9v1.36h-1.9zM499.55 42.02h1.9v1.36h-1.9zM513.25 48.92h1.9v1.36h-1.9zM458.45 57.82h1.9v1.36h-1.9zM527.95 76.22h1.9v1.36h-1.9zM464.15 67.32h1.9v1.36h-1.9zM507.05 75.12h1.9v1.36h-1.9zM491.95 56.82h1.9v1.36h-1.9zM536.05 72.52h1.9v1.36h-1.9zM528.35 64.62h1.9v1.36h-1.9zM511.45 80.32h1.9v1.36h-1.9zM522.25 64.52h1.9v1.36h-1.9zM483.45 79.72h1.9v1.36h-1.9zM468.65 73.22h1.9v1.36h-1.9zM486.85 60.32h1.9v1.36h-1.9zM515.85 79.12h1.9v1.36h-1.9zM508.05 73.12h1.9v1.36h-1.9zM518.85 59.42h1.9v1.36h-1.9zM489.05 81.22h1.9v1.36h-1.9zM503.55 78.12h1.9v1.36h-1.9zM484.35 72.12h1.9v1.36h-1.9zM459.65 71.52h1.9v1.36h-1.9zM498.65 68.42h1.9v1.36h-1.9zM490.45 70.82h1.9v1.36h-1.9zM496.15 75.62h1.9v1.36h-1.9zM497.25 78.02h1.9v1.36h-1.9zM460.15 67.02h1.9v1.36h-1.9zM517.75 73.82h1.9v1.36h-1.9zM452.75 66.02h1.9v1.36h-1.9zM442.25 64.62h1.9v1.36h-1.9zM515.15 76.22h1.9v1.36h-1.9zM499.25 67.42h1.9v1.36h-1.9zM507.75 79.52h1.9v1.36h-1.9zM511.35 78.22h1.9v1.36h-1.9zM503.15 74.12h1.9v1.36h-1.9zM466.55 78.42h1.9v1.36h-1.9zM463.25 62.62h1.9v1.36h-1.9zM472.55 64.32h1.9v1.36h-1.9zM526.95 71.52h1.9v1.36h-1.9zM484.25 68.12h1.9v1.36h-1.9zM490.45 78.92h1.9v1.36h-1.9zM531.65 70.42h1.9v1.36h-1.9zM536.85 77.52h1.9v1.36h-1.9zM498.95 79.42h1.9v1.36h-1.9zM494.35 72.72h1.9v1.36h-1.9zM495.95 63.22h1.9v1.36h-1.9zM458.25 61.82h1.9v1.36h-1.9zM468.05 64.92h1.9v1.36h-1.9zM476.15 76.52h1.9v1.36h-1.9zM491.25 75.42h1.9v1.36h-1.9zM500.65 65.42h1.9v1.36h-1.9zM484.35 60.22h1.9v1.36h-1.9zM444.75 69.52h1.9v1.36h-1.9zM489.95 70.72h1.9v1.36h-1.9zM517.65 63.32h1.9v1.36h-1.9zM487.65 55.52h1.9v1.36h-1.9zM466.95 72.42h1.9v1.36h-1.9zM450.15 58.82h1.9v1.36h-1.9zM481.45 80.42h1.9v1.36h-1.9zM511.05 70.42h1.9v1.36h-1.9zM506.95 71.82h1.9v1.36h-1.9zM479.85 65.92h1.9v1.36h-1.9zM502.35 70.22h1.9v1.36h-1.9zM511.15 68.02h1.9v1.36h-1.9zM512.75 69.02h1.9v1.36h-1.9zM521.55 78.72h1.9v1.36h-1.9zM500.55 66.52h1.9v1.36h-1.9zM457.05 68.42h1.9v1.36h-1.9zM494.45 65.52h1.9v1.36h-1.9zM461.45 65.02h1.9v1.36h-1.9zM462.15 63.92h1.9v1.36h-1.9zM466.55 71.32h1.9v1.36h-1.9zM478.45 69.02h1.9v1.36h-1.9zM454.55 74.62h1.9v1.36h-1.9zM486.65 67.62h1.9v1.36h-1.9zM465.55 72.22h1.9v1.36h-1.9zM503.35 66.92h1.9v1.36h-1.9zM534.15 67.32h1.9v1.36h-1.9zM522.35 73.42h1.9v1.36h-1.9zM453.95 65.82h1.9v1.36h-1.9zM504.95 68.42h1.9v1.36h-1.9zM492.85 69.72h1.9v1.36h-1.9zM501.85 66.72h1.9v1.36h-1.9zM539.55 75.62h1.9v1.36h-1.9zM529.95 71.32h1.9v1.36h-1.9zM496.25 64.22h1.9v1.36h-1.9zM490.95 79.92h1.9v1.36h-1.9zM499.05 66.12h1.9v1.36h-1.9zM475.65 72.92h1.9v1.36h-1.9zM485.15 82.92h1.9v1.36h-1.9zM496.75 70.82h1.9v1.36h-1.9zM509.35 82.02h1.9v1.36h-1.9zM450.35 62.82h1.9v1.36h-1.9zM473.15 56.22h1.9v1.36h-1.9zM486.25 69.32h1.9v1.36h-1.9zM512.95 75.92h1.9v1.36h-1.9zM507.85 75.32h1.9v1.36h-1.9zM530.45 70.92h1.9v1.36h-1.9zM466.35 71.82h1.9v1.36h-1.9zM517.55 75.22h1.9v1.36h-1.9zM511.25 78.02h1.9v1.36h-1.9zM502.55 65.12h1.9v1.36h-1.9zM478.45 57.92h1.9v1.36h-1.9zM515.75 68.52h1.9v1.36h-1.9zM494.65 84.22h1.9v1.36h-1.9zM469.55 68.82h1.9v1.36h-1.9zM470.05 57.02h1.9v1.36h-1.9zM517.15 71.52h1.9v1.36h-1.9zM488.75 75.12h1.9v1.36h-1.9zM485.15 74.22h1.9v1.36h-1.9zM524.75 68.22h1.9v1.36h-1.9zM502.35 72.02h1.9v1.36h-1.9zM463.65 78.32h1.9v1.36h-1.9zM493.55 74.72h1.9v1.36h-1.9zM501.05 70.12h1.9v1.36h-1.9zM457.95 67.92h1.9v1.36h-1.9zM466.75 77.92h1.9v1.36h-1.9zM503.15 67.42h1.9v1.36h-1.9zM480.65 76.72h1.9v1.36h-1.9zM453.15 68.82h1.9v1.36h-1.9zM495.15 64.72h1.9v1.36h-1.9zM518.95 69.62h1.9v1.36h-1.9zM518.75 73.52h1.9v1.36h-1.9zM474.25 68.42h1.9v1.36h-1.9zM517.85 66.12h1.9v1.36h-1.9zM469.25 68.12h1.9v1.36h-1.9zM505.25 75.22h1.9v1.36h-1.9zM465.85 60.92h1.9v1.36h-1.9zM488.35 68.62h1.9v1.36h-1.9zM498.95 61.02h1.9v1.36h-1.9zM477.95 62.22h1.9v1.36h-1.9zM466.45 65.12h1.9v1.36h-1.9zM444.45 64.02h1.9v1.36h-1.9zM471.15 58.82h1.9v1.36h-1.9zM477.25 77.62h1.9v1.36h-1.9zM493.55 79.02h1.9v1.36h-1.9zM524.15 73.42h1.9v1.36h-1.9zM483.65 55.62h1.9v1.36h-1.9zM436.55 67.72h1.9v1.36h-1.9zM492.25 71.32h1.9v1.36h-1.9zM467.85 66.72h1.9v1.36h-1.9zM461.85 73.62h1.9v1.36h-1.9zM493.85 57.52h1.9v1.36h-1.9zM474.65 76.92h1.9v1.36h-1.9zM463.45 61.22h1.9v1.36h-1.9zM465.25 64.82h1.9v1.36h-1.9zM493.15 69.22h1.9v1.36h-1.9zM494.95 66.72h1.9v1.36h-1.9zM507.05 80.32h1.9v1.36h-1.9zM467.25 70.32h1.9v1.36h-1.9zM498.65 71.82h1.9v1.36h-1.9zM489.45 73.12h1.9v1.36h-1.9zM485.35 65.82h1.9v1.36h-1.9zM470.15 73.52h1.9v1.36h-1.9zM477.95 57.92h1.9v1.36h-1.9zM478.55 66.12h1.9v1.36h-1.9zM513.05 78.22h1.9v1.36h-1.9zM461.65 76.02h1.9v1.36h-1.9zM499.15 80.62h1.9v1.36h-1.9zM477.05 73.42h1.9v1.36h-1.9zM509.45 81.52h1.9v1.36h-1.9zM457.35 67.72h1.9v1.36h-1.9zM494.25 69.22h1.9v1.36h-1.9zM468.05 67.12h1.9v1.36h-1.9zM492.15 82.62h1.9v1.36h-1.9zM491.85 77.02h1.9v1.36h-1.9zM477.55 70.82h1.9v1.36h-1.9zM490.15 70.82h1.9v1.36h-1.9zM453.15 67.62h1.9v1.36h-1.9zM503.05 73.42h1.9v1.36h-1.9zM451.05 65.72h1.9v1.36h-1.9zM485.05 68.92h1.9v1.36h-1.9zM464.55 72.62h1.9v1.36h-1.9zM446.05 40.82h1.9v1.36h-1.9zM468.75 33.22h1.9v1.36h-1.9zM441.95 37.02h1.9v1.36h-1.9zM475.35 28.12h1.9v1.36h-1.9zM498.25 34.12h1.9v1.36h-1.9zM442.25 41.22h1.9v1.36h-1.9zM450.55 30.92h1.9v1.36h-1.9zM444.05 30.72h1.9v1.36h-1.9zM463.95 29.92h1.9v1.36h-1.9zM473.45 30.22h1.9v1.36h-1.9zM466.75 24.22h1.9v1.36h-1.9zM459.05 34.82h1.9v1.36h-1.9zM479.35 33.42h1.9v1.36h-1.9zM470.35 36.82h1.9v1.36h-1.9zM453.15 37.82h1.9v1.36h-1.9zM473.65 32.52h1.9v1.36h-1.9zM446.95 41.32h1.9v1.36h-1.9zM487.45 36.12h1.9v1.36h-1.9zM487.45 42.22h1.9v1.36h-1.9zM466.05 37.92h1.9v1.36h-1.9zM478.45 37.52h1.9v1.36h-1.9zM466.45 32.92h1.9v1.36h-1.9zM481.95 36.22h1.9v1.36h-1.9zM497.25 37.42h1.9v1.36h-1.9zM470.25 29.12h1.9v1.36h-1.9zM466.45 36.52h1.9v1.36h-1.9zM466.15 31.72h1.9v1.36h-1.9zM470.75 42.92h1.9v1.36h-1.9zM448.45 37.72h1.9v1.36h-1.9zM445.95 39.72h1.9v1.36h-1.9zM464.45 35.12h1.9v1.36h-1.9zM474.75 32.02h1.9v1.36h-1.9zM456.85 39.92h1.9v1.36h-1.9zM443.85 30.62h1.9v1.36h-1.9zM482.05 38.62h1.9v1.36h-1.9zM454.35 31.42h1.9v1.36h-1.9zM470.45 44.22h1.9v1.36h-1.9zM494.25 33.72h1.9v1.36h-1.9zM458.85 34.72h1.9v1.36h-1.9zM437.75 36.52h1.9v1.36h-1.9zM461.25 40.22h1.9v1.36h-1.9zM454.35 36.72h1.9v1.36h-1.9zM457.85 32.52h1.9v1.36h-1.9zM499.35 30.82h1.9v1.36h-1.9zM466.65 37.02h1.9v1.36h-1.9zM501.65 36.62h1.9v1.36h-1.9zM460.95 36.52h1.9v1.36h-1.9zM499.05 37.92h1.9v1.36h-1.9zM480.05 46.12h1.9v1.36h-1.9zM453.25 40.82h1.9v1.36h-1.9zM454.05 41.32h1.9v1.36h-1.9zM478.05 38.42h1.9v1.36h-1.9zM473.75 36.62h1.9v1.36h-1.9zM505.95 35.72h1.9v1.36h-1.9zM466.55 38.22h1.9v1.36h-1.9zM485.45 36.22h1.9v1.36h-1.9zM487.05 38.32h1.9v1.36h-1.9zM458.55 36.12h1.9v1.36h-1.9zM486.85 30.92h1.9v1.36h-1.9zM469.85 31.62h1.9v1.36h-1.9zM543.25 47.62h1.9v1.36h-1.9zM548.45 55.62h1.9v1.36h-1.9zM561.75 58.22h1.9v1.36h-1.9zM574.75 71.12h1.9v1.36h-1.9zM536.85 79.32h1.9v1.36h-1.9zM548.45 64.72h1.9v1.36h-1.9zM529.45 60.32h1.9v1.36h-1.9zM537.85 49.92h1.9v1.36h-1.9zM531.75 72.92h1.9v1.36h-1.9zM539.25 60.82h1.9v1.36h-1.9zM535.75 57.12h1.9v1.36h-1.9zM539.15 59.82h1.9v1.36h-1.9zM546.85 68.42h1.9v1.36h-1.9zM545.45 59.62h1.9v1.36h-1.9zM534.75 65.92h1.9v1.36h-1.9zM552.05 58.02h1.9v1.36h-1.9zM521.65 59.82h1.9v1.36h-1.9zM546.65 71.82h1.9v1.36h-1.9zM543.15 68.22h1.9v1.36h-1.9zM568.95 68.02h1.9v1.36h-1.9zM531.95 47.22h1.9v1.36h-1.9zM538.25 62.12h1.9v1.36h-1.9zM536.85 58.82h1.9v1.36h-1.9zM519.85 58.82h1.9v1.36h-1.9zM555.35 49.82h1.9v1.36h-1.9zM546.85 59.02h1.9v1.36h-1.9zM548.45 62.32h1.9v1.36h-1.9zM531.55 64.52h1.9v1.36h-1.9zM572.85 63.12h1.9v1.36h-1.9zM525.35 57.02h1.9v1.36h-1.9zM570.35 58.12h1.9v1.36h-1.9zM546.65 48.52h1.9v1.36h-1.9zM523.45 58.92h1.9v1.36h-1.9zM549.45 53.92h1.9v1.36h-1.9zM549.75 56.52h1.9v1.36h-1.9zM516.25 57.22h1.9v1.36h-1.9zM552.85 79.92h1.9v1.36h-1.9zM524.55 62.82h1.9v1.36h-1.9zM549.65 63.72h1.9v1.36h-1.9zM546.95 73.42h1.9v1.36h-1.9zM561.15 54.02h1.9v1.36h-1.9zM533.45 60.12h1.9v1.36h-1.9zM524.95 61.22h1.9v1.36h-1.9zM555.75 55.12h1.9v1.36h-1.9zM541.15 53.92h1.9v1.36h-1.9zM546.95 64.32h1.9v1.36h-1.9zM531.25 68.32h1.9v1.36h-1.9zM531.85 60.72h1.9v1.36h-1.9zM548.95 51.52h1.9v1.36h-1.9zM540.55 50.62h1.9v1.36h-1.9zM559.05 58.82h1.9v1.36h-1.9zM524.65 66.82h1.9v1.36h-1.9zM539.95 76.72h1.9v1.36h-1.9zM543.45 65.92h1.9v1.36h-1.9zM529.85 58.02h1.9v1.36h-1.9zM543.25 68.12h1.9v1.36h-1.9zM563.65 61.12h1.9v1.36h-1.9zM543.45 52.22h1.9v1.36h-1.9zM536.15 59.02h1.9v1.36h-1.9zM559.95 76.22h1.9v1.36h-1.9zM542.05 54.32h1.9v1.36h-1.9zM532.15 67.72h1.9v1.36h-1.9zM564.85 66.22h1.9v1.36h-1.9zM568.35 60.92h1.9v1.36h-1.9zM540.15 62.32h1.9v1.36h-1.9zM529.15 58.42h1.9v1.36h-1.9zM537.65 43.72h1.9v1.36h-1.9zM546.25 65.52h1.9v1.36h-1.9zM564.05 59.22h1.9v1.36h-1.9zM561.55 53.32h1.9v1.36h-1.9zM562.55 54.22h1.9v1.36h-1.9zM544.05 48.72h1.9v1.36h-1.9zM569.35 56.92h1.9v1.36h-1.9zM561.35 59.82h1.9v1.36h-1.9zM549.65 67.12h1.9v1.36h-1.9zM529.85 64.42h1.9v1.36h-1.9zM541.25 52.02h1.9v1.36h-1.9zM560.95 59.32h1.9v1.36h-1.9zM564.15 61.92h1.9v1.36h-1.9zM541.35 55.72h1.9v1.36h-1.9zM380.55 21.82h1.9v1.36h-1.9zM372.35 38.92h1.9v1.36h-1.9zM412.45 19.82h1.9v1.36h-1.9zM425.65 18.82h1.9v1.36h-1.9zM430.45 21.12h1.9v1.36h-1.9zM438.25 16.82h1.9v1.36h-1.9zM454.55 19.82h1.9v1.36h-1.9zM461.75 18.12h1.9v1.36h-1.9zM472.55 12.32h1.9v1.36h-1.9zM472.55 16.82h1.9v1.36h-1.9zM508.85 18.12h1.9v1.36h-1.9zM519.45 13.82h1.9v1.36h-1.9zM405.35 26.32h1.9v1.36h-1.9zM406.15 28.82h1.9v1.36h-1.9zM403.15 43.92h1.9v1.36h-1.9zM404.35 49.42h1.9v1.36h-1.9zM417.45 44.42h1.9v1.36h-1.9zM418.65 46.42h1.9v1.36h-1.9zM501.85 33.62h1.9v1.36h-1.9zM503.85 32.62h1.9v1.36h-1.9zM517.65 35.12h1.9v1.36h-1.9zM451.75 84.02h1.9v1.36h-1.9zM455.05 84.02h1.9v1.36h-1.9zM465.05 85.22h1.9v1.36h-1.9zM455.75 78.22h1.9v1.36h-1.9zM485.05 91.52h1.9v1.36h-1.9zM487.55 87.02h1.9v1.36h-1.9zM492.65 82.52h1.9v1.36h-1.9zM503.85 87.72h1.9v1.36h-1.9zM510.15 84.52h1.9v1.36h-1.9zM527.65 97.02h1.9v1.36h-1.9zM536.45 92.02h1.9v1.36h-1.9zM540.25 89.52h1.9v1.36h-1.9zM504.35 114.12h1.9v1.36h-1.9zM520.65 114.12h1.9v1.36h-1.9zM538.45 119.62h1.9v1.36h-1.9zM509.55 18.62h1.9v1.36h-1.9zM558.45 37.62h1.9v1.36h-1.9zM563.45 35.12h1.9v1.36h-1.9zM565.95 35.62h1.9v1.36h-1.9zM567.25 49.42h1.9v1.36h-1.9zM574.75 56.92h1.9v1.36h-1.9zM577.25 54.42h1.9v1.36h-1.9zM580.25 51.92h1.9v1.36h-1.9zM594.75 53.92h1.9v1.36h-1.9zM600.25 52.72h1.9v1.36h-1.9zM614.35 48.12h1.9v1.36h-1.9zM619.85 46.92h1.9v1.36h-1.9zM612.35 56.42h1.9v1.36h-1.9zM589.75 60.72h1.9v1.36h-1.9zM601.05 61.92h1.9v1.36h-1.9zM582.25 68.22h1.9v1.36h-1.9zM586.05 70.72h1.9v1.36h-1.9zM592.25 68.92h1.9v1.36h-1.9zM599.25 73.72h1.9v1.36h-1.9zM629.85 73.72h1.9v1.36h-1.9zM636.85 75.02h1.9v1.36h-1.9zM618.55 80.22h1.9v1.36h-1.9zM593.55 89.02h1.9v1.36h-1.9zM602.25 89.52h1.9v1.36h-1.9zM581.75 100.02h1.9v1.36h-1.9zM576.75 104.52h1.9v1.36h-1.9zM601.05 101.32h1.9v1.36h-1.9zM609.35 107.82h1.9v1.36h-1.9zM572.75 91.52h1.9v1.36h-1.9zM574.25 84.52h1.9v1.36h-1.9zM559.65 92.02h1.9v1.36h-1.9zM559.65 96.52h1.9v1.36h-1.9zM550.15 104.52h1.9v1.36h-1.9zM550.15 107.82h1.9v1.36h-1.9zM538.35 119.62h1.9v1.36h-1.9zM520.85 114.12h1.9v1.36h-1.9zM528.35 97.02h1.9v1.36h-1.9zM537.15 91.52h1.9v1.36h-1.9zM539.65 89.02h1.9v1.36h-1.9zM544.65 85.72h1.9v1.36h-1.9zM575.95 120.32h1.9v1.36h-1.9zM665.45 105.32h1.9v1.36h-1.9zM677.45 91.32h1.9v1.36h-1.9z"/>
<text transform="translate(480.27,24.79) rotate(-23.2)" font-size="5.35" text-anchor="middle" font-weight="bold" fill="#111" stroke="#111" stroke-width="0.18" font-family='"Liberation Sans", sans-serif'>WTP = $1000.0</text>
<line x1="370.7" y1="12.3" x2="370.7" y2="124.9" stroke="#6a6a6a" stroke-width="1.1"/>
<line x1="368.7" y1="12.3" x2="372.7" y2="12.3" stroke="#d0d0d0" stroke-width="0.6"/>
<text transform="translate(367.1,13.75) scale(1,0.88)" font-size="4.75" text-anchor="end" stroke="#1e1e1e" stroke-width="0.16" fill="#1e1e1e" font-family='"Liberation Serif", serif'>254.7</text>
<line x1="368.7" y1="21.68" x2="372.7" y2="21.68" stroke="#d0d0d0" stroke-width="0.6"/>
<text transform="translate(367.1,23.13) scale(1,0.88)" font-size="4.75" text-anchor="end" stroke="#1e1e1e" stroke-width="0.16" fill="#1e1e1e" font-family='"Liberation Serif", serif'>185.7</text>
<line x1="368.7" y1="31.07" x2="372.7" y2="31.07" stroke="#d0d0d0" stroke-width="0.6"/>
<text transform="translate(367.1,32.52) scale(1,0.88)" font-size="4.75" text-anchor="end" stroke="#1e1e1e" stroke-width="0.16" fill="#1e1e1e" font-family='"Liberation Serif", serif'>116.8</text>
<line x1="368.7" y1="40.45" x2="372.7" y2="40.45" stroke="#d0d0d0" stroke-width="0.6"/>
<text transform="translate(367.1,41.9) scale(1,0.88)" font-size="4.75" text-anchor="end" stroke="#1e1e1e" stroke-width="0.16" fill="#1e1e1e" font-family='"Liberation Serif", serif'>47.8</text>
<line x1="368.7" y1="49.83" x2="372.7" y2="49.83" stroke="#d0d0d0" stroke-width="0.6"/>
<text transform="translate(367.1,51.28) scale(1,0.88)" font-size="4.75" text-anchor="end" stroke="#1e1e1e" stroke-width="0.16" fill="#1e1e1e" font-family='"Liberation Serif", serif'>-21.1</text>
<line x1="368.7" y1="59.22" x2="372.7" y2="59.22" stroke="#d0d0d0" stroke-width="0.6"/>
<text transform="translate(367.1,60.67) scale(1,0.88)" font-size="4.75" text-anchor="end" stroke="#1e1e1e" stroke-width="0.16" fill="#1e1e1e" font-family='"Liberation Serif", serif'>-90.1</text>
<line x1="368.7" y1="68.6" x2="372.7" y2="68.6" stroke="#d0d0d0" stroke-width="0.6"/>
<text transform="translate(367.1,70.05) scale(1,0.88)" font-size="4.75" text-anchor="end" stroke="#1e1e1e" stroke-width="0.16" fill="#1e1e1e" font-family='"Liberation Serif", serif'>-159.0</text>
<line x1="368.7" y1="77.98" x2="372.7" y2="77.98" stroke="#d0d0d0" stroke-width="0.6"/>
<text transform="translate(367.1,79.43) scale(1,0.88)" font-size="4.75" text-anchor="end" stroke="#1e1e1e" stroke-width="0.16" fill="#1e1e1e" font-family='"Liberation Serif", serif'>-228.0</text>
<line x1="368.7" y1="87.37" x2="372.7" y2="87.37" stroke="#d0d0d0" stroke-width="0.6"/>
<text transform="translate(367.1,88.82) scale(1,0.88)" font-size="4.75" text-anchor="end" stroke="#1e1e1e" stroke-width="0.16" fill="#1e1e1e" font-family='"Liberation Serif", serif'>-296.9</text>
<line x1="368.7" y1="96.75" x2="372.7" y2="96.75" stroke="#d0d0d0" stroke-width="0.6"/>
<text transform="translate(367.1,98.2) scale(1,0.88)" font-size="4.75" text-anchor="end" stroke="#1e1e1e" stroke-width="0.16" fill="#1e1e1e" font-family='"Liberation Serif", serif'>-365.9</text>
<line x1="368.7" y1="106.13" x2="372.7" y2="106.13" stroke="#d0d0d0" stroke-width="0.6"/>
<text transform="translate(367.1,107.58) scale(1,0.88)" font-size="4.75" text-anchor="end" stroke="#1e1e1e" stroke-width="0.16" fill="#1e1e1e" font-family='"Liberation Serif", serif'>-434.8</text>
<line x1="368.7" y1="115.52" x2="372.7" y2="115.52" stroke="#d0d0d0" stroke-width="0.6"/>
<text transform="translate(367.1,116.97) scale(1,0.88)" font-size="4.75" text-anchor="end" stroke="#1e1e1e" stroke-width="0.16" fill="#1e1e1e" font-family='"Liberation Serif", serif'>-503.8</text>
<line x1="368.7" y1="124.9" x2="372.7" y2="124.9" stroke="#d0d0d0" stroke-width="0.6"/>
<text transform="translate(367.1,126.35) scale(1,0.88)" font-size="4.75" text-anchor="end" stroke="#1e1e1e" stroke-width="0.16" fill="#1e1e1e" font-family='"Liberation Serif", serif'>-572.7</text>
<line x1="372.7" y1="126.5" x2="678.8" y2="126.5" stroke="#777" stroke-width="1.05"/>
<line x1="372.7" y1="125.3" x2="372.7" y2="127.7" stroke="#9a9a9a" stroke-width="0.6"/>
<text transform="translate(372.7,131.9) scale(1,0.88)" font-size="4.75" text-anchor="middle" fill="#404040" font-family='"Liberation Serif", serif'>-0.0031</text>
<line x1="398.21" y1="125.3" x2="398.21" y2="127.7" stroke="#9a9a9a" stroke-width="0.6"/>
<text transform="translate(398.21,131.9) scale(1,0.88)" font-size="4.75" text-anchor="middle" fill="#404040" font-family='"Liberation Serif", serif'>-0.0016</text>
<line x1="423.72" y1="125.3" x2="423.72" y2="127.7" stroke="#9a9a9a" stroke-width="0.6"/>
<text transform="translate(423.72,131.9) scale(1,0.88)" font-size="4.75" text-anchor="middle" fill="#404040" font-family='"Liberation Serif", serif'>0.0000</text>
<line x1="449.22" y1="125.3" x2="449.22" y2="127.7" stroke="#9a9a9a" stroke-width="0.6"/>
<text transform="translate(449.22,131.9) scale(1,0.88)" font-size="4.75" text-anchor="middle" fill="#404040" font-family='"Liberation Serif", serif'>0.0016</text>
<line x1="474.73" y1="125.3" x2="474.73" y2="127.7" stroke="#9a9a9a" stroke-width="0.6"/>
<text transform="translate(474.73,131.9) scale(1,0.88)" font-size="4.75" text-anchor="middle" fill="#404040" font-family='"Liberation Serif", serif'>0.0031</text>
<line x1="500.24" y1="125.3" x2="500.24" y2="127.7" stroke="#9a9a9a" stroke-width="0.6"/>
<text transform="translate(500.24,131.9) scale(1,0.88)" font-size="4.75" text-anchor="middle" fill="#404040" font-family='"Liberation Serif", serif'>0.0047</text>
<line x1="525.75" y1="125.3" x2="525.75" y2="127.7" stroke="#9a9a9a" stroke-width="0.6"/>
<text transform="translate(525.75,131.9) scale(1,0.88)" font-size="4.75" text-anchor="middle" fill="#404040" font-family='"Liberation Serif", serif'>0.0063</text>
<line x1="551.26" y1="125.3" x2="551.26" y2="127.7" stroke="#9a9a9a" stroke-width="0.6"/>
<text transform="translate(551.26,131.9) scale(1,0.88)" font-size="4.75" text-anchor="middle" fill="#404040" font-family='"Liberation Serif", serif'>0.0078</text>
<line x1="576.77" y1="125.3" x2="576.77" y2="127.7" stroke="#9a9a9a" stroke-width="0.6"/>
<text transform="translate(576.77,131.9) scale(1,0.88)" font-size="4.75" text-anchor="middle" fill="#404040" font-family='"Liberation Serif", serif'>0.0094</text>
<line x1="602.27" y1="125.3" x2="602.27" y2="127.7" stroke="#9a9a9a" stroke-width="0.6"/>
<text transform="translate(602.27,131.9) scale(1,0.88)" font-size="4.75" text-anchor="middle" fill="#404040" font-family='"Liberation Serif", serif'>0.0110</text>
<line x1="627.78" y1="125.3" x2="627.78" y2="127.7" stroke="#9a9a9a" stroke-width="0.6"/>
<text transform="translate(627.78,131.9) scale(1,0.88)" font-size="4.75" text-anchor="middle" fill="#404040" font-family='"Liberation Serif", serif'>0.0125</text>
<line x1="653.29" y1="125.3" x2="653.29" y2="127.7" stroke="#9a9a9a" stroke-width="0.6"/>
<text transform="translate(653.29,131.9) scale(1,0.88)" font-size="4.75" text-anchor="middle" fill="#404040" font-family='"Liberation Serif", serif'>0.0141</text>
<line x1="678.8" y1="125.3" x2="678.8" y2="127.7" stroke="#9a9a9a" stroke-width="0.6"/>
<text transform="translate(678.8,131.9) scale(1,0.88)" font-size="4.75" text-anchor="middle" fill="#404040" font-family='"Liberation Serif", serif'>0.0156</text>
<text transform="translate(515.2,4.8) scale(1,0.75)" font-size="7.7" text-anchor="middle" font-weight="bold" stroke="#000" stroke-width="0.12" fill="#000" font-family='"Liberation Serif", serif'>Screening without follow-up vs. non-screening (40-44 years)</text>
<text transform="translate(525.4,139.8) scale(1,0.75)" font-size="6.8" text-anchor="middle" font-weight="bold" stroke="#000" stroke-width="0.1" fill="#000" font-family='"Liberation Serif", serif'>Incremental Effectiveness (QALY)</text>
<text transform="translate(351.8,68.6) scale(1,0.75) rotate(-90)" font-size="6.8" text-anchor="middle" font-weight="bold" fill="#000" stroke="#000" stroke-width="0.1" font-family='"Liberation Serif", serif'>Incremental Cost (USD)</text>
<line x1="21.1" y1="228.3" x2="331.6" y2="228.3" stroke="#c9c9c9" stroke-width="0.8" stroke-dasharray="3,1.7"/>
<line x1="21.1" y1="163.9" x2="21.1" y2="279.2" stroke="#c8c8c8" stroke-width="0.8" stroke-dasharray="2.2,1.2"/>
<clipPath id="clC"><rect x="21.1" y="0" width="400" height="447"/></clipPath>
<ellipse cx="86" cy="225.6" rx="76.9" ry="34" transform="rotate(3.93 86 225.6)" fill="none" stroke="#e2e2e2" stroke-width="0.75" clip-path="url(#clC)"/>
<path fill="#5aa3dc" d="M79.85 236.42h1.9v1.36h-1.9zM49.15 234.82h1.9v1.36h-1.9zM69.25 226.62h1.9v1.36h-1.9zM134.05 229.32h1.9v1.36h-1.9zM75.75 233.02h1.9v1.36h-1.9zM110.85 228.12h1.9v1.36h-1.9zM94.65 222.02h1.9v1.36h-1.9zM66.05 225.52h1.9v1.36h-1.9zM37.05 218.52h1.9v1.36h-1.9zM28.25 226.72h1.9v1.36h-1.9zM71.85 226.22h1.9v1.36h-1.9zM79.15 219.62h1.9v1.36h-1.9zM74.65 229.82h1.9v1.36h-1.9zM99.55 222.82h1.9v1.36h-1.9zM65.05 215.22h1.9v1.36h-1.9zM61.95 214.02h1.9v1.36h-1.9zM34.45 235.52h1.9v1.36h-1.9zM86.85 226.32h1.9v1.36h-1.9zM90.85 231.72h1.9v1.36h-1.9zM108.45 226.82h1.9v1.36h-1.9zM59.25 224.42h1.9v1.36h-1.9zM47.45 228.02h1.9v1.36h-1.9zM53.45 235.22h1.9v1.36h-1.9zM20.95 221.22h1.9v1.36h-1.9zM48.45 214.72h1.9v1.36h-1.9zM68.55 224.92h1.9v1.36h-1.9zM109.25 223.52h1.9v1.36h-1.9zM72.35 223.92h1.9v1.36h-1.9zM96.25 220.92h1.9v1.36h-1.9zM74.65 230.62h1.9v1.36h-1.9zM122.85 234.52h1.9v1.36h-1.9zM62.55 230.32h1.9v1.36h-1.9zM63.05 239.02h1.9v1.36h-1.9zM83.35 226.92h1.9v1.36h-1.9zM70.25 227.02h1.9v1.36h-1.9zM71.75 222.62h1.9v1.36h-1.9zM72.65 230.72h1.9v1.36h-1.9zM70.95 227.32h1.9v1.36h-1.9zM87.05 234.62h1.9v1.36h-1.9zM63.65 225.92h1.9v1.36h-1.9zM135.25 231.72h1.9v1.36h-1.9zM100.35 224.52h1.9v1.36h-1.9zM41.85 230.22h1.9v1.36h-1.9zM52.05 221.42h1.9v1.36h-1.9zM38.15 225.02h1.9v1.36h-1.9zM110.25 225.52h1.9v1.36h-1.9zM33.55 232.62h1.9v1.36h-1.9zM79.05 233.82h1.9v1.36h-1.9zM113.15 227.22h1.9v1.36h-1.9zM72.75 228.02h1.9v1.36h-1.9zM43.05 232.62h1.9v1.36h-1.9zM118.25 229.42h1.9v1.36h-1.9zM69.95 226.62h1.9v1.36h-1.9zM53.65 223.12h1.9v1.36h-1.9zM65.05 222.82h1.9v1.36h-1.9zM63.95 218.02h1.9v1.36h-1.9zM87.55 228.62h1.9v1.36h-1.9zM76.85 235.52h1.9v1.36h-1.9zM55.05 225.22h1.9v1.36h-1.9zM59.95 232.52h1.9v1.36h-1.9zM49.55 234.72h1.9v1.36h-1.9zM67.95 234.32h1.9v1.36h-1.9zM78.05 226.82h1.9v1.36h-1.9zM32.75 223.82h1.9v1.36h-1.9zM69.25 232.62h1.9v1.36h-1.9zM84.35 223.82h1.9v1.36h-1.9zM89.35 234.72h1.9v1.36h-1.9zM72.55 225.42h1.9v1.36h-1.9zM65.25 233.62h1.9v1.36h-1.9zM93.15 222.32h1.9v1.36h-1.9zM88.25 225.22h1.9v1.36h-1.9zM54.55 236.42h1.9v1.36h-1.9zM101.65 223.62h1.9v1.36h-1.9zM79.45 231.62h1.9v1.36h-1.9zM57.85 227.52h1.9v1.36h-1.9zM97.05 216.72h1.9v1.36h-1.9zM86.85 233.12h1.9v1.36h-1.9zM92.15 219.62h1.9v1.36h-1.9zM86.65 222.72h1.9v1.36h-1.9zM94.15 232.22h1.9v1.36h-1.9zM83.55 223.32h1.9v1.36h-1.9zM59.35 233.92h1.9v1.36h-1.9zM50.05 231.52h1.9v1.36h-1.9zM92.35 226.52h1.9v1.36h-1.9zM96.15 226.32h1.9v1.36h-1.9zM75.45 215.92h1.9v1.36h-1.9zM58.15 221.62h1.9v1.36h-1.9zM70.35 234.12h1.9v1.36h-1.9zM78.65 230.72h1.9v1.36h-1.9zM56.15 225.52h1.9v1.36h-1.9zM80.45 226.52h1.9v1.36h-1.9zM114.95 222.62h1.9v1.36h-1.9zM133.75 221.92h1.9v1.36h-1.9zM108.85 223.32h1.9v1.36h-1.9zM126.45 229.22h1.9v1.36h-1.9zM88.95 233.12h1.9v1.36h-1.9zM58.05 221.52h1.9v1.36h-1.9zM56.15 224.52h1.9v1.36h-1.9zM76.15 241.22h1.9v1.36h-1.9zM25.15 229.92h1.9v1.36h-1.9zM65.15 231.82h1.9v1.36h-1.9zM23.05 225.72h1.9v1.36h-1.9zM102.25 238.42h1.9v1.36h-1.9zM124.95 222.72h1.9v1.36h-1.9zM78.65 227.62h1.9v1.36h-1.9zM35.75 218.92h1.9v1.36h-1.9zM99.75 229.92h1.9v1.36h-1.9zM72.75 236.22h1.9v1.36h-1.9zM46.95 231.72h1.9v1.36h-1.9zM77.35 227.92h1.9v1.36h-1.9zM91.75 229.42h1.9v1.36h-1.9zM85.05 230.02h1.9v1.36h-1.9zM135.25 226.32h1.9v1.36h-1.9zM107.45 232.32h1.9v1.36h-1.9zM66.55 233.52h1.9v1.36h-1.9zM51.35 235.82h1.9v1.36h-1.9zM52.75 225.12h1.9v1.36h-1.9zM86.75 233.72h1.9v1.36h-1.9zM104.25 234.12h1.9v1.36h-1.9zM70.85 222.12h1.9v1.36h-1.9zM93.55 230.32h1.9v1.36h-1.9zM48.45 234.62h1.9v1.36h-1.9zM83.05 222.12h1.9v1.36h-1.9zM90.25 219.72h1.9v1.36h-1.9zM50.75 230.92h1.9v1.36h-1.9zM30.35 228.52h1.9v1.36h-1.9zM36.55 233.12h1.9v1.36h-1.9zM55.25 229.52h1.9v1.36h-1.9zM31.95 226.12h1.9v1.36h-1.9zM105.45 231.32h1.9v1.36h-1.9zM21.85 234.32h1.9v1.36h-1.9zM103.85 225.92h1.9v1.36h-1.9zM119.55 221.42h1.9v1.36h-1.9zM74.45 235.52h1.9v1.36h-1.9zM116.35 236.62h1.9v1.36h-1.9zM44.25 216.72h1.9v1.36h-1.9zM88.75 219.02h1.9v1.36h-1.9zM73.15 220.02h1.9v1.36h-1.9zM108.85 233.52h1.9v1.36h-1.9zM93.75 228.42h1.9v1.36h-1.9zM78.45 226.42h1.9v1.36h-1.9zM88.55 229.92h1.9v1.36h-1.9zM90.85 225.52h1.9v1.36h-1.9zM134.05 230.12h1.9v1.36h-1.9zM118.85 236.92h1.9v1.36h-1.9zM50.65 217.32h1.9v1.36h-1.9zM114.75 225.82h1.9v1.36h-1.9zM79.55 226.62h1.9v1.36h-1.9zM80.95 220.62h1.9v1.36h-1.9zM73.95 225.32h1.9v1.36h-1.9zM101.65 230.52h1.9v1.36h-1.9zM25.25 223.52h1.9v1.36h-1.9zM77.95 232.42h1.9v1.36h-1.9zM77.05 237.32h1.9v1.36h-1.9zM77.75 221.82h1.9v1.36h-1.9zM56.75 233.12h1.9v1.36h-1.9zM58.65 233.82h1.9v1.36h-1.9zM107.65 232.12h1.9v1.36h-1.9zM107.55 227.22h1.9v1.36h-1.9zM76.75 224.52h1.9v1.36h-1.9zM58.75 218.12h1.9v1.36h-1.9zM60.35 221.32h1.9v1.36h-1.9zM34.25 229.32h1.9v1.36h-1.9zM90.65 226.12h1.9v1.36h-1.9zM118.15 234.42h1.9v1.36h-1.9zM108.35 224.42h1.9v1.36h-1.9zM32.25 231.92h1.9v1.36h-1.9zM86.25 233.02h1.9v1.36h-1.9zM89.55 236.52h1.9v1.36h-1.9zM68.45 232.62h1.9v1.36h-1.9zM63.75 238.02h1.9v1.36h-1.9zM26.75 234.92h1.9v1.36h-1.9zM56.65 225.72h1.9v1.36h-1.9zM78.35 229.72h1.9v1.36h-1.9zM47.85 229.12h1.9v1.36h-1.9zM90.35 233.72h1.9v1.36h-1.9zM54.45 238.42h1.9v1.36h-1.9zM36.85 229.42h1.9v1.36h-1.9zM21.25 230.82h1.9v1.36h-1.9zM93.75 220.82h1.9v1.36h-1.9zM29.45 229.52h1.9v1.36h-1.9zM95.85 223.12h1.9v1.36h-1.9zM55.85 229.32h1.9v1.36h-1.9zM81.65 238.62h1.9v1.36h-1.9zM90.65 224.52h1.9v1.36h-1.9zM85.65 233.02h1.9v1.36h-1.9zM95.05 237.72h1.9v1.36h-1.9zM117.65 217.52h1.9v1.36h-1.9zM75.15 241.32h1.9v1.36h-1.9zM64.85 234.62h1.9v1.36h-1.9zM75.35 225.62h1.9v1.36h-1.9zM124.55 235.12h1.9v1.36h-1.9zM69.75 234.22h1.9v1.36h-1.9zM37.65 223.62h1.9v1.36h-1.9zM104.15 228.62h1.9v1.36h-1.9zM45.15 231.22h1.9v1.36h-1.9zM86.95 236.72h1.9v1.36h-1.9zM105.75 226.52h1.9v1.36h-1.9zM62.55 227.42h1.9v1.36h-1.9zM70.15 237.82h1.9v1.36h-1.9zM124.65 237.12h1.9v1.36h-1.9zM88.45 226.72h1.9v1.36h-1.9zM104.15 226.02h1.9v1.36h-1.9zM84.15 217.52h1.9v1.36h-1.9zM64.35 237.72h1.9v1.36h-1.9zM46.25 218.62h1.9v1.36h-1.9zM72.15 239.12h1.9v1.36h-1.9zM120.55 226.02h1.9v1.36h-1.9zM62.75 227.62h1.9v1.36h-1.9zM49.15 228.52h1.9v1.36h-1.9zM68.05 218.72h1.9v1.36h-1.9zM59.65 226.62h1.9v1.36h-1.9zM51.25 221.02h1.9v1.36h-1.9zM104.25 240.62h1.9v1.36h-1.9zM68.45 225.52h1.9v1.36h-1.9zM92.15 226.82h1.9v1.36h-1.9zM53.55 237.32h1.9v1.36h-1.9zM45.85 223.52h1.9v1.36h-1.9zM57.15 222.52h1.9v1.36h-1.9zM69.95 232.02h1.9v1.36h-1.9zM120.25 232.62h1.9v1.36h-1.9zM78.15 220.22h1.9v1.36h-1.9zM75.25 222.22h1.9v1.36h-1.9zM74.15 234.72h1.9v1.36h-1.9zM83.15 226.92h1.9v1.36h-1.9zM54.45 228.22h1.9v1.36h-1.9zM80.35 222.32h1.9v1.36h-1.9zM61.85 234.02h1.9v1.36h-1.9zM27.25 225.42h1.9v1.36h-1.9zM42.05 238.42h1.9v1.36h-1.9zM95.25 231.62h1.9v1.36h-1.9zM88.95 230.22h1.9v1.36h-1.9zM85.85 218.02h1.9v1.36h-1.9zM84.75 232.22h1.9v1.36h-1.9zM34.25 233.72h1.9v1.36h-1.9zM97.05 218.42h1.9v1.36h-1.9zM62.95 226.32h1.9v1.36h-1.9zM61.25 230.82h1.9v1.36h-1.9zM38.75 226.82h1.9v1.36h-1.9zM83.85 233.02h1.9v1.36h-1.9zM78.55 226.72h1.9v1.36h-1.9zM97.75 215.42h1.9v1.36h-1.9zM105.05 226.32h1.9v1.36h-1.9zM39.55 225.52h1.9v1.36h-1.9zM67.25 223.22h1.9v1.36h-1.9zM99.05 222.52h1.9v1.36h-1.9zM38.15 222.12h1.9v1.36h-1.9zM128.55 228.52h1.9v1.36h-1.9zM58.75 221.92h1.9v1.36h-1.9zM44.05 227.22h1.9v1.36h-1.9zM89.85 235.82h1.9v1.36h-1.9zM111.45 230.12h1.9v1.36h-1.9zM57.25 222.72h1.9v1.36h-1.9zM89.65 226.12h1.9v1.36h-1.9zM88.05 219.52h1.9v1.36h-1.9zM103.95 230.22h1.9v1.36h-1.9zM78.35 230.92h1.9v1.36h-1.9zM50.15 240.12h1.9v1.36h-1.9zM71.55 225.02h1.9v1.36h-1.9zM102.65 221.42h1.9v1.36h-1.9zM119.75 223.72h1.9v1.36h-1.9zM75.25 222.32h1.9v1.36h-1.9zM97.75 223.02h1.9v1.36h-1.9zM78.55 220.82h1.9v1.36h-1.9zM83.95 229.52h1.9v1.36h-1.9zM94.75 230.32h1.9v1.36h-1.9zM95.75 234.82h1.9v1.36h-1.9zM65.35 220.62h1.9v1.36h-1.9zM38.75 232.72h1.9v1.36h-1.9zM65.75 235.12h1.9v1.36h-1.9zM78.45 221.72h1.9v1.36h-1.9zM104.25 240.92h1.9v1.36h-1.9zM71.65 222.22h1.9v1.36h-1.9zM51.65 234.12h1.9v1.36h-1.9zM59.45 225.72h1.9v1.36h-1.9zM97.55 228.42h1.9v1.36h-1.9zM80.55 224.82h1.9v1.36h-1.9zM57.85 229.42h1.9v1.36h-1.9zM81.65 232.12h1.9v1.36h-1.9zM62.05 230.52h1.9v1.36h-1.9zM91.35 228.82h1.9v1.36h-1.9zM94.15 234.92h1.9v1.36h-1.9zM82.95 228.82h1.9v1.36h-1.9zM47.95 230.42h1.9v1.36h-1.9zM74.25 226.32h1.9v1.36h-1.9zM52.25 232.02h1.9v1.36h-1.9zM79.65 231.12h1.9v1.36h-1.9zM59.25 228.92h1.9v1.36h-1.9zM57.15 224.12h1.9v1.36h-1.9zM84.05 229.82h1.9v1.36h-1.9zM73.65 223.12h1.9v1.36h-1.9zM84.95 221.22h1.9v1.36h-1.9zM100.15 226.12h1.9v1.36h-1.9zM77.05 233.42h1.9v1.36h-1.9zM93.75 219.92h1.9v1.36h-1.9zM69.55 230.72h1.9v1.36h-1.9zM74.95 228.02h1.9v1.36h-1.9zM89.85 228.82h1.9v1.36h-1.9zM80.95 229.92h1.9v1.36h-1.9zM118.25 231.42h1.9v1.36h-1.9zM93.35 225.72h1.9v1.36h-1.9zM110.75 227.12h1.9v1.36h-1.9zM99.15 214.62h1.9v1.36h-1.9zM84.45 227.72h1.9v1.36h-1.9zM63.25 236.72h1.9v1.36h-1.9zM89.15 227.42h1.9v1.36h-1.9zM61.35 240.52h1.9v1.36h-1.9zM99.45 232.62h1.9v1.36h-1.9zM54.15 236.82h1.9v1.36h-1.9zM93.75 226.62h1.9v1.36h-1.9zM73.95 217.72h1.9v1.36h-1.9zM96.55 221.22h1.9v1.36h-1.9zM102.35 225.42h1.9v1.36h-1.9zM58.45 230.72h1.9v1.36h-1.9zM83.35 221.02h1.9v1.36h-1.9zM74.85 232.22h1.9v1.36h-1.9zM69.55 219.62h1.9v1.36h-1.9zM69.75 222.12h1.9v1.36h-1.9zM59.75 228.62h1.9v1.36h-1.9zM75.45 226.92h1.9v1.36h-1.9zM27.55 230.62h1.9v1.36h-1.9zM71.05 225.72h1.9v1.36h-1.9zM81.75 240.82h1.9v1.36h-1.9zM38.45 217.92h1.9v1.36h-1.9zM99.85 223.22h1.9v1.36h-1.9zM115.95 221.92h1.9v1.36h-1.9zM62.55 233.72h1.9v1.36h-1.9zM104.25 231.22h1.9v1.36h-1.9zM90.65 227.52h1.9v1.36h-1.9zM63.85 227.02h1.9v1.36h-1.9zM114.95 232.92h1.9v1.36h-1.9zM77.65 230.42h1.9v1.36h-1.9zM101.85 236.02h1.9v1.36h-1.9zM73.15 227.82h1.9v1.36h-1.9zM84.25 236.52h1.9v1.36h-1.9zM31.25 233.82h1.9v1.36h-1.9zM35.15 221.32h1.9v1.36h-1.9zM58.15 227.42h1.9v1.36h-1.9zM82.45 230.72h1.9v1.36h-1.9zM83.75 225.52h1.9v1.36h-1.9zM96.95 241.42h1.9v1.36h-1.9zM105.85 232.02h1.9v1.36h-1.9zM86.65 240.32h1.9v1.36h-1.9zM44.85 222.12h1.9v1.36h-1.9zM81.45 215.22h1.9v1.36h-1.9zM53.95 235.62h1.9v1.36h-1.9zM63.35 229.42h1.9v1.36h-1.9zM97.65 220.82h1.9v1.36h-1.9zM85.15 224.22h1.9v1.36h-1.9zM44.55 226.52h1.9v1.36h-1.9zM75.35 225.72h1.9v1.36h-1.9zM57.45 234.52h1.9v1.36h-1.9zM111.35 231.92h1.9v1.36h-1.9zM74.15 221.52h1.9v1.36h-1.9zM52.65 221.22h1.9v1.36h-1.9zM83.25 234.22h1.9v1.36h-1.9zM104.15 228.12h1.9v1.36h-1.9zM65.65 229.42h1.9v1.36h-1.9zM80.65 232.12h1.9v1.36h-1.9zM120.85 223.92h1.9v1.36h-1.9zM46.55 226.82h1.9v1.36h-1.9zM138.45 223.82h1.9v1.36h-1.9zM109.85 226.02h1.9v1.36h-1.9zM81.55 221.72h1.9v1.36h-1.9zM144.55 228.12h1.9v1.36h-1.9zM82.45 231.02h1.9v1.36h-1.9zM72.75 223.02h1.9v1.36h-1.9zM34.55 227.22h1.9v1.36h-1.9zM125.05 231.02h1.9v1.36h-1.9zM71.85 235.12h1.9v1.36h-1.9zM49.35 237.22h1.9v1.36h-1.9zM76.55 223.02h1.9v1.36h-1.9zM97.25 231.62h1.9v1.36h-1.9zM66.85 229.72h1.9v1.36h-1.9zM106.15 237.32h1.9v1.36h-1.9zM137.85 226.62h1.9v1.36h-1.9zM64.65 231.12h1.9v1.36h-1.9zM64.35 235.02h1.9v1.36h-1.9zM40.05 227.02h1.9v1.36h-1.9zM39.75 238.12h1.9v1.36h-1.9zM71.25 236.32h1.9v1.36h-1.9zM123.05 211.32h1.9v1.36h-1.9zM72.05 232.12h1.9v1.36h-1.9zM80.65 222.82h1.9v1.36h-1.9zM105.75 234.32h1.9v1.36h-1.9zM60.25 222.82h1.9v1.36h-1.9zM99.55 226.62h1.9v1.36h-1.9zM83.55 212.12h1.9v1.36h-1.9zM134.75 221.82h1.9v1.36h-1.9zM87.55 223.92h1.9v1.36h-1.9zM81.15 225.92h1.9v1.36h-1.9zM52.55 228.42h1.9v1.36h-1.9zM117.15 228.72h1.9v1.36h-1.9zM102.05 229.62h1.9v1.36h-1.9zM80.05 244.12h1.9v1.36h-1.9zM57.45 228.52h1.9v1.36h-1.9zM111.65 227.52h1.9v1.36h-1.9zM45.65 212.52h1.9v1.36h-1.9zM128.65 213.92h1.9v1.36h-1.9zM79.35 230.22h1.9v1.36h-1.9zM81.95 204.92h1.9v1.36h-1.9zM54.45 221.42h1.9v1.36h-1.9zM81.95 226.12h1.9v1.36h-1.9zM36.55 205.92h1.9v1.36h-1.9zM108.95 217.42h1.9v1.36h-1.9zM41.85 202.52h1.9v1.36h-1.9zM96.05 210.52h1.9v1.36h-1.9zM45.85 231.12h1.9v1.36h-1.9zM88.75 230.42h1.9v1.36h-1.9zM47.65 221.02h1.9v1.36h-1.9zM57.95 234.02h1.9v1.36h-1.9zM90.55 212.92h1.9v1.36h-1.9zM97.05 222.72h1.9v1.36h-1.9zM63.65 236.62h1.9v1.36h-1.9zM25.95 235.62h1.9v1.36h-1.9zM72.95 222.52h1.9v1.36h-1.9zM42.95 218.02h1.9v1.36h-1.9zM53.15 225.02h1.9v1.36h-1.9zM61.25 200.92h1.9v1.36h-1.9zM117.05 234.12h1.9v1.36h-1.9zM52.45 233.92h1.9v1.36h-1.9zM65.95 218.62h1.9v1.36h-1.9zM96.85 221.02h1.9v1.36h-1.9zM34.45 238.12h1.9v1.36h-1.9zM68.75 232.32h1.9v1.36h-1.9zM65.95 234.32h1.9v1.36h-1.9zM75.65 230.02h1.9v1.36h-1.9zM99.35 228.12h1.9v1.36h-1.9zM83.05 228.62h1.9v1.36h-1.9zM27.05 221.32h1.9v1.36h-1.9zM102.85 211.12h1.9v1.36h-1.9zM80.45 223.32h1.9v1.36h-1.9zM101.95 228.02h1.9v1.36h-1.9zM53.95 225.22h1.9v1.36h-1.9zM69.55 223.32h1.9v1.36h-1.9zM121.95 243.12h1.9v1.36h-1.9zM57.95 210.22h1.9v1.36h-1.9zM85.75 227.22h1.9v1.36h-1.9zM80.25 217.52h1.9v1.36h-1.9zM101.15 243.32h1.9v1.36h-1.9zM86.15 221.82h1.9v1.36h-1.9zM117.45 221.02h1.9v1.36h-1.9zM67.75 227.82h1.9v1.36h-1.9zM75.75 230.02h1.9v1.36h-1.9zM89.25 228.82h1.9v1.36h-1.9zM36.45 243.82h1.9v1.36h-1.9zM97.55 227.62h1.9v1.36h-1.9zM102.95 223.32h1.9v1.36h-1.9zM29.35 225.92h1.9v1.36h-1.9zM76.45 226.42h1.9v1.36h-1.9zM49.05 239.42h1.9v1.36h-1.9zM87.35 210.32h1.9v1.36h-1.9zM40.25 227.42h1.9v1.36h-1.9zM42.05 229.12h1.9v1.36h-1.9zM89.75 217.92h1.9v1.36h-1.9zM90.75 218.72h1.9v1.36h-1.9zM138.75 219.52h1.9v1.36h-1.9zM91.45 231.82h1.9v1.36h-1.9zM82.15 227.82h1.9v1.36h-1.9zM111.55 222.82h1.9v1.36h-1.9zM90.05 220.42h1.9v1.36h-1.9zM143.45 226.22h1.9v1.36h-1.9zM63.65 212.02h1.9v1.36h-1.9zM80.45 219.52h1.9v1.36h-1.9zM45.65 221.32h1.9v1.36h-1.9zM105.35 236.12h1.9v1.36h-1.9zM62.15 236.02h1.9v1.36h-1.9zM59.45 231.22h1.9v1.36h-1.9zM51.75 235.92h1.9v1.36h-1.9zM118.45 208.42h1.9v1.36h-1.9zM77.05 229.92h1.9v1.36h-1.9zM27.15 224.22h1.9v1.36h-1.9zM54.15 237.62h1.9v1.36h-1.9zM44.15 228.02h1.9v1.36h-1.9zM118.15 223.22h1.9v1.36h-1.9zM37.65 229.82h1.9v1.36h-1.9zM109.55 229.22h1.9v1.36h-1.9zM110.95 208.72h1.9v1.36h-1.9zM137.55 232.22h1.9v1.36h-1.9zM64.15 230.02h1.9v1.36h-1.9zM20.65 233.62h1.9v1.36h-1.9zM71.75 214.22h1.9v1.36h-1.9zM67.15 236.72h1.9v1.36h-1.9zM54.15 230.62h1.9v1.36h-1.9zM41.25 206.02h1.9v1.36h-1.9zM63.55 221.22h1.9v1.36h-1.9zM84.85 234.72h1.9v1.36h-1.9zM65.85 220.32h1.9v1.36h-1.9zM103.55 229.02h1.9v1.36h-1.9zM77.45 226.92h1.9v1.36h-1.9zM27.95 220.42h1.9v1.36h-1.9zM107.95 205.82h1.9v1.36h-1.9zM108.55 218.12h1.9v1.36h-1.9zM72.35 219.22h1.9v1.36h-1.9zM101.75 217.02h1.9v1.36h-1.9zM74.25 231.22h1.9v1.36h-1.9zM98.35 211.02h1.9v1.36h-1.9zM85.65 225.62h1.9v1.36h-1.9zM76.75 225.42h1.9v1.36h-1.9zM89.15 218.22h1.9v1.36h-1.9zM74.25 235.12h1.9v1.36h-1.9zM45.05 223.42h1.9v1.36h-1.9zM46.55 212.62h1.9v1.36h-1.9zM65.75 226.22h1.9v1.36h-1.9zM127.65 222.12h1.9v1.36h-1.9zM108.95 230.32h1.9v1.36h-1.9zM83.05 224.92h1.9v1.36h-1.9zM45.85 225.72h1.9v1.36h-1.9zM126.25 211.62h1.9v1.36h-1.9zM62.75 234.32h1.9v1.36h-1.9zM21.45 212.92h1.9v1.36h-1.9zM88.55 234.82h1.9v1.36h-1.9zM117.95 232.62h1.9v1.36h-1.9zM37.75 222.22h1.9v1.36h-1.9zM99.05 228.42h1.9v1.36h-1.9zM53.65 222.12h1.9v1.36h-1.9zM125.85 222.52h1.9v1.36h-1.9zM57.85 223.02h1.9v1.36h-1.9zM58.45 246.82h1.9v1.36h-1.9zM105.55 234.32h1.9v1.36h-1.9zM57.25 217.32h1.9v1.36h-1.9zM87.25 200.32h1.9v1.36h-1.9zM111.85 210.32h1.9v1.36h-1.9zM82.25 228.02h1.9v1.36h-1.9zM53.75 228.22h1.9v1.36h-1.9zM101.45 245.22h1.9v1.36h-1.9zM91.65 244.32h1.9v1.36h-1.9zM93.95 222.22h1.9v1.36h-1.9zM106.65 218.62h1.9v1.36h-1.9zM83.95 231.22h1.9v1.36h-1.9zM115.65 227.32h1.9v1.36h-1.9zM32.35 238.62h1.9v1.36h-1.9zM84.55 221.02h1.9v1.36h-1.9zM53.15 230.62h1.9v1.36h-1.9zM89.75 231.82h1.9v1.36h-1.9zM74.95 241.22h1.9v1.36h-1.9zM70.75 228.82h1.9v1.36h-1.9zM85.45 236.02h1.9v1.36h-1.9zM56.95 221.02h1.9v1.36h-1.9zM72.15 217.02h1.9v1.36h-1.9zM58.15 211.02h1.9v1.36h-1.9zM103.05 240.72h1.9v1.36h-1.9zM47.65 232.72h1.9v1.36h-1.9zM42.25 215.42h1.9v1.36h-1.9zM68.85 225.62h1.9v1.36h-1.9zM93.55 203.12h1.9v1.36h-1.9zM37.05 225.22h1.9v1.36h-1.9zM71.15 247.72h1.9v1.36h-1.9zM70.15 217.12h1.9v1.36h-1.9zM59.05 225.02h1.9v1.36h-1.9zM73.05 214.52h1.9v1.36h-1.9zM74.35 209.82h1.9v1.36h-1.9zM109.65 232.72h1.9v1.36h-1.9zM100.65 214.22h1.9v1.36h-1.9zM43.85 228.52h1.9v1.36h-1.9zM27.35 214.12h1.9v1.36h-1.9zM83.15 229.02h1.9v1.36h-1.9zM81.95 210.42h1.9v1.36h-1.9zM57.05 246.32h1.9v1.36h-1.9zM108.95 215.22h1.9v1.36h-1.9zM139.75 222.82h1.9v1.36h-1.9zM78.75 215.22h1.9v1.36h-1.9zM127.15 225.42h1.9v1.36h-1.9zM76.25 214.12h1.9v1.36h-1.9zM38.05 226.22h1.9v1.36h-1.9zM79.15 241.32h1.9v1.36h-1.9zM49.85 220.12h1.9v1.36h-1.9zM110.45 233.22h1.9v1.36h-1.9zM57.25 240.32h1.9v1.36h-1.9zM94.05 234.02h1.9v1.36h-1.9zM89.95 234.92h1.9v1.36h-1.9zM65.55 221.92h1.9v1.36h-1.9zM113.65 228.62h1.9v1.36h-1.9zM90.45 236.72h1.9v1.36h-1.9zM86.35 228.72h1.9v1.36h-1.9zM105.15 214.62h1.9v1.36h-1.9zM69.55 226.72h1.9v1.36h-1.9zM74.45 233.72h1.9v1.36h-1.9zM93.95 222.32h1.9v1.36h-1.9zM113.55 220.32h1.9v1.36h-1.9zM56.25 227.82h1.9v1.36h-1.9zM99.05 222.72h1.9v1.36h-1.9zM44.55 218.62h1.9v1.36h-1.9zM86.15 231.72h1.9v1.36h-1.9zM135.45 222.52h1.9v1.36h-1.9zM71.85 200.72h1.9v1.36h-1.9zM119.65 234.32h1.9v1.36h-1.9zM79.15 216.42h1.9v1.36h-1.9zM53.85 240.82h1.9v1.36h-1.9zM103.15 238.42h1.9v1.36h-1.9zM74.35 237.32h1.9v1.36h-1.9zM34.05 240.32h1.9v1.36h-1.9zM77.85 211.32h1.9v1.36h-1.9zM66.05 213.62h1.9v1.36h-1.9zM87.35 216.32h1.9v1.36h-1.9zM38.15 220.32h1.9v1.36h-1.9zM71.55 226.52h1.9v1.36h-1.9zM101.15 238.12h1.9v1.36h-1.9zM92.05 242.32h1.9v1.36h-1.9zM108.85 209.82h1.9v1.36h-1.9zM72.45 226.72h1.9v1.36h-1.9zM29.45 218.02h1.9v1.36h-1.9zM97.95 220.82h1.9v1.36h-1.9zM76.65 211.72h1.9v1.36h-1.9zM77.75 218.12h1.9v1.36h-1.9zM33.25 219.82h1.9v1.36h-1.9zM63.95 220.32h1.9v1.36h-1.9zM108.35 236.02h1.9v1.36h-1.9zM92.05 220.32h1.9v1.36h-1.9zM92.35 224.52h1.9v1.36h-1.9zM86.05 213.62h1.9v1.36h-1.9zM59.85 218.82h1.9v1.36h-1.9zM78.45 223.62h1.9v1.36h-1.9zM69.25 241.02h1.9v1.36h-1.9zM82.95 226.82h1.9v1.36h-1.9zM50.75 223.22h1.9v1.36h-1.9zM93.65 223.42h1.9v1.36h-1.9zM89.25 214.02h1.9v1.36h-1.9zM90.95 213.12h1.9v1.36h-1.9zM64.95 215.82h1.9v1.36h-1.9zM84.65 236.22h1.9v1.36h-1.9zM88.15 214.72h1.9v1.36h-1.9zM83.25 235.62h1.9v1.36h-1.9zM102.05 229.72h1.9v1.36h-1.9zM42.95 218.22h1.9v1.36h-1.9zM57.35 219.12h1.9v1.36h-1.9zM86.35 224.72h1.9v1.36h-1.9zM67.85 230.52h1.9v1.36h-1.9zM56.25 220.72h1.9v1.36h-1.9zM82.25 209.42h1.9v1.36h-1.9zM51.75 209.02h1.9v1.36h-1.9zM45.65 222.72h1.9v1.36h-1.9zM74.95 228.02h1.9v1.36h-1.9zM89.45 211.82h1.9v1.36h-1.9zM138.25 239.02h1.9v1.36h-1.9zM40.15 216.72h1.9v1.36h-1.9zM63.65 226.42h1.9v1.36h-1.9zM98.45 224.32h1.9v1.36h-1.9zM106.15 233.32h1.9v1.36h-1.9zM55.15 225.42h1.9v1.36h-1.9zM108.55 219.12h1.9v1.36h-1.9zM115.25 225.22h1.9v1.36h-1.9zM129.25 224.82h1.9v1.36h-1.9zM126.35 206.82h1.9v1.36h-1.9zM124.85 229.22h1.9v1.36h-1.9zM66.85 236.02h1.9v1.36h-1.9zM70.55 233.22h1.9v1.36h-1.9zM109.15 235.72h1.9v1.36h-1.9zM83.85 228.62h1.9v1.36h-1.9zM77.75 210.82h1.9v1.36h-1.9zM83.55 211.32h1.9v1.36h-1.9zM69.95 221.02h1.9v1.36h-1.9zM61.35 212.62h1.9v1.36h-1.9zM82.55 224.02h1.9v1.36h-1.9zM122.75 231.22h1.9v1.36h-1.9zM109.05 219.12h1.9v1.36h-1.9zM69.05 210.62h1.9v1.36h-1.9zM51.35 232.12h1.9v1.36h-1.9zM72.85 222.72h1.9v1.36h-1.9zM61.15 241.22h1.9v1.36h-1.9zM77.25 236.72h1.9v1.36h-1.9zM77.75 234.62h1.9v1.36h-1.9zM48.15 209.62h1.9v1.36h-1.9zM114.15 220.92h1.9v1.36h-1.9zM87.55 233.82h1.9v1.36h-1.9zM101.15 227.22h1.9v1.36h-1.9zM41.15 216.62h1.9v1.36h-1.9zM80.15 231.32h1.9v1.36h-1.9zM95.45 228.32h1.9v1.36h-1.9zM54.45 224.22h1.9v1.36h-1.9zM109.75 214.82h1.9v1.36h-1.9zM60.85 234.22h1.9v1.36h-1.9zM129.45 228.72h1.9v1.36h-1.9zM79.25 213.82h1.9v1.36h-1.9zM75.15 215.62h1.9v1.36h-1.9zM83.45 232.12h1.9v1.36h-1.9zM93.45 238.52h1.9v1.36h-1.9zM46.65 210.52h1.9v1.36h-1.9zM122.45 235.72h1.9v1.36h-1.9zM48.15 225.82h1.9v1.36h-1.9zM44.95 224.12h1.9v1.36h-1.9zM88.95 234.82h1.9v1.36h-1.9zM48.25 210.52h1.9v1.36h-1.9zM97.15 220.62h1.9v1.36h-1.9zM123.55 211.82h1.9v1.36h-1.9zM114.95 238.82h1.9v1.36h-1.9zM92.25 221.02h1.9v1.36h-1.9zM62.25 245.12h1.9v1.36h-1.9zM107.45 217.82h1.9v1.36h-1.9zM92.65 230.42h1.9v1.36h-1.9zM95.15 214.22h1.9v1.36h-1.9zM65.15 235.22h1.9v1.36h-1.9zM101.05 220.62h1.9v1.36h-1.9zM66.15 234.22h1.9v1.36h-1.9zM104.75 222.92h1.9v1.36h-1.9zM136.45 236.12h1.9v1.36h-1.9zM79.95 232.12h1.9v1.36h-1.9zM100.35 221.32h1.9v1.36h-1.9zM102.45 218.52h1.9v1.36h-1.9zM71.75 231.52h1.9v1.36h-1.9zM39.45 220.62h1.9v1.36h-1.9zM48.45 232.12h1.9v1.36h-1.9zM60.85 244.32h1.9v1.36h-1.9zM128.05 216.92h1.9v1.36h-1.9zM84.25 220.52h1.9v1.36h-1.9zM79.05 231.72h1.9v1.36h-1.9zM137.75 210.62h1.9v1.36h-1.9zM64.15 222.42h1.9v1.36h-1.9zM69.25 226.02h1.9v1.36h-1.9zM99.85 219.42h1.9v1.36h-1.9zM101.15 248.02h1.9v1.36h-1.9zM61.35 239.42h1.9v1.36h-1.9zM132.65 238.92h1.9v1.36h-1.9zM55.35 230.32h1.9v1.36h-1.9zM54.75 212.12h1.9v1.36h-1.9zM78.95 230.02h1.9v1.36h-1.9zM72.65 223.22h1.9v1.36h-1.9zM99.35 217.02h1.9v1.36h-1.9zM92.85 232.92h1.9v1.36h-1.9zM100.15 230.62h1.9v1.36h-1.9zM47.55 221.32h1.9v1.36h-1.9zM65.65 232.22h1.9v1.36h-1.9zM23.65 225.92h1.9v1.36h-1.9zM28.45 231.52h1.9v1.36h-1.9zM62.95 224.92h1.9v1.36h-1.9zM108.85 243.02h1.9v1.36h-1.9zM47.85 225.72h1.9v1.36h-1.9zM57.55 231.72h1.9v1.36h-1.9zM75.95 225.52h1.9v1.36h-1.9zM43.95 220.82h1.9v1.36h-1.9zM43.95 224.62h1.9v1.36h-1.9zM27.55 206.72h1.9v1.36h-1.9zM128.85 211.92h1.9v1.36h-1.9zM105.75 213.22h1.9v1.36h-1.9zM78.15 207.32h1.9v1.36h-1.9zM117.15 196.92h1.9v1.36h-1.9zM89.85 205.12h1.9v1.36h-1.9zM67.65 206.92h1.9v1.36h-1.9zM80.25 199.82h1.9v1.36h-1.9zM76.85 196.42h1.9v1.36h-1.9zM128.65 205.32h1.9v1.36h-1.9zM108.55 200.82h1.9v1.36h-1.9zM139.85 210.42h1.9v1.36h-1.9zM90.75 206.42h1.9v1.36h-1.9zM91.95 201.72h1.9v1.36h-1.9zM74.85 204.32h1.9v1.36h-1.9zM91.85 213.02h1.9v1.36h-1.9zM117.45 206.72h1.9v1.36h-1.9zM100.25 204.02h1.9v1.36h-1.9zM63.75 197.42h1.9v1.36h-1.9zM38.05 199.52h1.9v1.36h-1.9zM77.25 204.52h1.9v1.36h-1.9zM93.65 211.12h1.9v1.36h-1.9zM101.75 204.62h1.9v1.36h-1.9zM64.25 203.92h1.9v1.36h-1.9zM99.55 200.82h1.9v1.36h-1.9zM30.45 204.32h1.9v1.36h-1.9zM113.95 211.42h1.9v1.36h-1.9zM99.25 195.92h1.9v1.36h-1.9zM74.35 208.92h1.9v1.36h-1.9zM115.05 214.52h1.9v1.36h-1.9zM48.75 207.22h1.9v1.36h-1.9zM28.35 204.32h1.9v1.36h-1.9zM66.65 209.42h1.9v1.36h-1.9zM84.85 196.72h1.9v1.36h-1.9zM75.35 207.22h1.9v1.36h-1.9zM127.05 201.82h1.9v1.36h-1.9zM51.15 202.52h1.9v1.36h-1.9zM112.95 203.92h1.9v1.36h-1.9zM82.25 207.52h1.9v1.36h-1.9zM52.55 210.82h1.9v1.36h-1.9zM57.55 200.82h1.9v1.36h-1.9zM55.15 199.62h1.9v1.36h-1.9zM50.55 201.42h1.9v1.36h-1.9zM41.05 204.52h1.9v1.36h-1.9zM89.55 202.52h1.9v1.36h-1.9zM85.15 201.22h1.9v1.36h-1.9zM86.55 203.72h1.9v1.36h-1.9zM43.55 205.82h1.9v1.36h-1.9zM73.75 202.02h1.9v1.36h-1.9zM77.65 208.02h1.9v1.36h-1.9zM38.95 202.82h1.9v1.36h-1.9zM99.75 205.32h1.9v1.36h-1.9zM38.15 207.12h1.9v1.36h-1.9zM67.15 212.42h1.9v1.36h-1.9zM98.05 198.42h1.9v1.36h-1.9zM114.55 205.32h1.9v1.36h-1.9zM69.15 205.42h1.9v1.36h-1.9zM86.25 201.12h1.9v1.36h-1.9zM66.65 212.02h1.9v1.36h-1.9zM45.75 202.32h1.9v1.36h-1.9zM104.35 200.62h1.9v1.36h-1.9zM72.35 206.82h1.9v1.36h-1.9zM49.35 203.72h1.9v1.36h-1.9zM49.35 204.22h1.9v1.36h-1.9zM88.25 205.42h1.9v1.36h-1.9zM87.05 207.22h1.9v1.36h-1.9zM104.95 200.02h1.9v1.36h-1.9zM82.75 213.22h1.9v1.36h-1.9zM71.25 204.02h1.9v1.36h-1.9zM131.15 211.22h1.9v1.36h-1.9zM138.75 221.22h1.9v1.36h-1.9zM128.65 231.62h1.9v1.36h-1.9zM147.85 201.62h1.9v1.36h-1.9zM124.05 217.52h1.9v1.36h-1.9zM111.45 230.72h1.9v1.36h-1.9zM160.55 232.52h1.9v1.36h-1.9zM124.85 202.92h1.9v1.36h-1.9zM141.95 219.62h1.9v1.36h-1.9zM128.55 228.02h1.9v1.36h-1.9zM141.65 244.02h1.9v1.36h-1.9zM150.15 234.32h1.9v1.36h-1.9zM108.25 238.72h1.9v1.36h-1.9zM132.35 200.02h1.9v1.36h-1.9zM133.35 217.92h1.9v1.36h-1.9zM129.75 234.72h1.9v1.36h-1.9zM112.25 230.32h1.9v1.36h-1.9zM147.75 205.52h1.9v1.36h-1.9zM150.55 211.92h1.9v1.36h-1.9zM120.75 234.42h1.9v1.36h-1.9zM130.85 195.62h1.9v1.36h-1.9zM122.05 230.92h1.9v1.36h-1.9zM123.45 214.72h1.9v1.36h-1.9zM131.15 221.22h1.9v1.36h-1.9zM121.45 208.32h1.9v1.36h-1.9zM137.25 238.42h1.9v1.36h-1.9zM144.95 209.02h1.9v1.36h-1.9zM151.15 200.32h1.9v1.36h-1.9zM144.35 243.92h1.9v1.36h-1.9zM131.85 207.42h1.9v1.36h-1.9zM136.55 240.92h1.9v1.36h-1.9zM136.85 244.12h1.9v1.36h-1.9zM107.65 209.52h1.9v1.36h-1.9zM123.65 230.62h1.9v1.36h-1.9zM148.05 209.62h1.9v1.36h-1.9zM118.05 233.72h1.9v1.36h-1.9zM112.55 229.22h1.9v1.36h-1.9zM119.65 220.12h1.9v1.36h-1.9zM159.95 217.62h1.9v1.36h-1.9zM131.65 210.02h1.9v1.36h-1.9zM138.85 242.62h1.9v1.36h-1.9zM139.95 203.02h1.9v1.36h-1.9zM136.15 243.12h1.9v1.36h-1.9zM117.65 219.32h1.9v1.36h-1.9zM118.05 213.22h1.9v1.36h-1.9zM117.15 202.52h1.9v1.36h-1.9zM137.85 220.62h1.9v1.36h-1.9zM120.85 205.92h1.9v1.36h-1.9zM133.15 218.52h1.9v1.36h-1.9zM136.25 202.42h1.9v1.36h-1.9zM120.65 215.22h1.9v1.36h-1.9zM125.75 216.42h1.9v1.36h-1.9zM120.35 219.62h1.9v1.36h-1.9zM154.05 210.82h1.9v1.36h-1.9zM107.95 225.32h1.9v1.36h-1.9zM118.25 232.62h1.9v1.36h-1.9zM145.65 244.82h1.9v1.36h-1.9zM133.15 197.72h1.9v1.36h-1.9zM153.45 234.22h1.9v1.36h-1.9zM149.05 222.72h1.9v1.36h-1.9zM73.55 247.42h1.9v1.36h-1.9zM28.85 252.22h1.9v1.36h-1.9zM65.55 244.22h1.9v1.36h-1.9zM95.15 243.02h1.9v1.36h-1.9zM108.25 244.32h1.9v1.36h-1.9zM104.75 248.92h1.9v1.36h-1.9zM86.05 244.82h1.9v1.36h-1.9zM26.95 244.62h1.9v1.36h-1.9zM60.65 244.82h1.9v1.36h-1.9zM86.85 238.02h1.9v1.36h-1.9zM47.05 243.92h1.9v1.36h-1.9zM70.55 251.92h1.9v1.36h-1.9zM103.85 247.32h1.9v1.36h-1.9zM92.25 256.12h1.9v1.36h-1.9zM89.65 250.22h1.9v1.36h-1.9zM85.85 244.32h1.9v1.36h-1.9zM116.75 246.52h1.9v1.36h-1.9zM128.65 241.82h1.9v1.36h-1.9zM98.05 255.82h1.9v1.36h-1.9zM65.75 249.12h1.9v1.36h-1.9zM128.85 249.52h1.9v1.36h-1.9zM60.45 245.72h1.9v1.36h-1.9zM93.95 244.42h1.9v1.36h-1.9zM71.95 248.02h1.9v1.36h-1.9zM47.25 255.72h1.9v1.36h-1.9zM66.75 247.32h1.9v1.36h-1.9zM87.65 254.52h1.9v1.36h-1.9zM73.15 257.62h1.9v1.36h-1.9zM140.15 251.02h1.9v1.36h-1.9zM43.85 240.92h1.9v1.36h-1.9zM77.15 248.82h1.9v1.36h-1.9zM103.85 253.52h1.9v1.36h-1.9zM98.35 247.72h1.9v1.36h-1.9zM96.45 237.32h1.9v1.36h-1.9zM119.45 239.82h1.9v1.36h-1.9zM26.45 243.82h1.9v1.36h-1.9zM71.65 241.32h1.9v1.36h-1.9zM78.15 247.82h1.9v1.36h-1.9zM103.25 249.32h1.9v1.36h-1.9zM69.25 247.92h1.9v1.36h-1.9zM98.05 163.62h1.9v1.36h-1.9zM106.05 166.82h1.9v1.36h-1.9zM149.35 163.62h1.9v1.36h-1.9zM113.55 174.32h1.9v1.36h-1.9zM58.35 175.62h1.9v1.36h-1.9zM43.65 179.82h1.9v1.36h-1.9zM104.25 183.12h1.9v1.36h-1.9zM113.55 186.62h1.9v1.36h-1.9zM141.05 185.62h1.9v1.36h-1.9zM158.65 190.62h1.9v1.36h-1.9zM45.35 188.12h1.9v1.36h-1.9zM49.85 187.32h1.9v1.36h-1.9zM56.65 186.62h1.9v1.36h-1.9zM63.65 187.92h1.9v1.36h-1.9zM69.15 190.42h1.9v1.36h-1.9zM90.45 188.12h1.9v1.36h-1.9zM92.95 188.12h1.9v1.36h-1.9zM30.35 197.42h1.9v1.36h-1.9zM34.05 196.12h1.9v1.36h-1.9zM37.85 191.62h1.9v1.36h-1.9zM121.35 194.92h1.9v1.36h-1.9zM123.85 194.12h1.9v1.36h-1.9zM142.35 199.42h1.9v1.36h-1.9zM165.65 199.92h1.9v1.36h-1.9zM161.45 213.72h1.9v1.36h-1.9zM156.85 245.02h1.9v1.36h-1.9zM151.85 255.52h1.9v1.36h-1.9zM151.15 268.82h1.9v1.36h-1.9zM134.85 267.12h1.9v1.36h-1.9zM131.05 257.52h1.9v1.36h-1.9zM142.65 253.82h1.9v1.36h-1.9zM147.35 251.22h1.9v1.36h-1.9zM135.55 245.02h1.9v1.36h-1.9zM111.25 263.82h1.9v1.36h-1.9zM108.05 257.02h1.9v1.36h-1.9zM90.95 262.02h1.9v1.36h-1.9zM72.95 258.82h1.9v1.36h-1.9zM47.85 257.02h1.9v1.36h-1.9zM50.35 250.02h1.9v1.36h-1.9zM36.55 247.02h1.9v1.36h-1.9zM24.55 236.22h1.9v1.36h-1.9zM20.85 223.72h1.9v1.36h-1.9zM29.05 232.52h1.9v1.36h-1.9zM152.65 228.02h1.9v1.36h-1.9zM155.65 233.02h1.9v1.36h-1.9zM158.15 233.72h1.9v1.36h-1.9zM163.15 237.52h1.9v1.36h-1.9zM163.35 192.42h1.9v1.36h-1.9zM159.05 190.42h1.9v1.36h-1.9zM164.85 199.92h1.9v1.36h-1.9zM164.85 203.22h1.9v1.36h-1.9zM168.55 207.92h1.9v1.36h-1.9zM164.55 209.92h1.9v1.36h-1.9zM160.85 213.72h1.9v1.36h-1.9zM165.35 217.42h1.9v1.36h-1.9zM165.35 219.92h1.9v1.36h-1.9zM162.85 223.22h1.9v1.36h-1.9zM171.05 224.52h1.9v1.36h-1.9zM172.05 226.52h1.9v1.36h-1.9zM174.55 226.52h1.9v1.36h-1.9zM179.65 227.02h1.9v1.36h-1.9zM164.55 227.02h1.9v1.36h-1.9zM176.55 230.02h1.9v1.36h-1.9zM181.65 232.52h1.9v1.36h-1.9zM167.85 233.22h1.9v1.36h-1.9zM169.85 234.22h1.9v1.36h-1.9zM162.85 237.52h1.9v1.36h-1.9zM171.05 238.22h1.9v1.36h-1.9zM160.35 239.52h1.9v1.36h-1.9zM164.05 240.02h1.9v1.36h-1.9zM177.85 240.52h1.9v1.36h-1.9zM179.05 241.72h1.9v1.36h-1.9zM167.35 244.52h1.9v1.36h-1.9zM169.05 250.52h1.9v1.36h-1.9zM167.35 251.82h1.9v1.36h-1.9zM166.55 255.02h1.9v1.36h-1.9zM179.05 257.52h1.9v1.36h-1.9zM177.35 262.62h1.9v1.36h-1.9zM179.65 218.72h1.9v1.36h-1.9zM196.65 223.72h1.9v1.36h-1.9zM204.95 229.52h1.9v1.36h-1.9zM205.95 235.72h1.9v1.36h-1.9zM210.95 242.52h1.9v1.36h-1.9zM196.15 246.52h1.9v1.36h-1.9zM221.25 192.42h1.9v1.36h-1.9zM220.45 216.22h1.9v1.36h-1.9zM235.95 219.22h1.9v1.36h-1.9zM329.45 228.02h1.9v1.36h-1.9z"/>
<line x1="18.3" y1="163.9" x2="18.3" y2="277.4" stroke="#6a6a6a" stroke-width="1.1"/>
<line x1="16.3" y1="163.9" x2="20.3" y2="163.9" stroke="#d0d0d0" stroke-width="0.6"/>
<text transform="translate(14.7,165.35) scale(1,0.88)" font-size="4.75" text-anchor="end" stroke="#1e1e1e" stroke-width="0.16" fill="#1e1e1e" font-family='"Liberation Serif", serif'>5.6</text>
<line x1="16.3" y1="173.36" x2="20.3" y2="173.36" stroke="#d0d0d0" stroke-width="0.6"/>
<text transform="translate(14.7,174.81) scale(1,0.88)" font-size="4.75" text-anchor="end" stroke="#1e1e1e" stroke-width="0.16" fill="#1e1e1e" font-family='"Liberation Serif", serif'>4.7</text>
<line x1="16.3" y1="182.82" x2="20.3" y2="182.82" stroke="#d0d0d0" stroke-width="0.6"/>
<text transform="translate(14.7,184.27) scale(1,0.88)" font-size="4.75" text-anchor="end" stroke="#1e1e1e" stroke-width="0.16" fill="#1e1e1e" font-family='"Liberation Serif", serif'>3.9</text>
<line x1="16.3" y1="192.28" x2="20.3" y2="192.28" stroke="#d0d0d0" stroke-width="0.6"/>
<text transform="translate(14.7,193.72) scale(1,0.88)" font-size="4.75" text-anchor="end" stroke="#1e1e1e" stroke-width="0.16" fill="#1e1e1e" font-family='"Liberation Serif", serif'>3.1</text>
<line x1="16.3" y1="201.73" x2="20.3" y2="201.73" stroke="#d0d0d0" stroke-width="0.6"/>
<text transform="translate(14.7,203.18) scale(1,0.88)" font-size="4.75" text-anchor="end" stroke="#1e1e1e" stroke-width="0.16" fill="#1e1e1e" font-family='"Liberation Serif", serif'>2.3</text>
<line x1="16.3" y1="211.19" x2="20.3" y2="211.19" stroke="#d0d0d0" stroke-width="0.6"/>
<text transform="translate(14.7,212.64) scale(1,0.88)" font-size="4.75" text-anchor="end" stroke="#1e1e1e" stroke-width="0.16" fill="#1e1e1e" font-family='"Liberation Serif", serif'>1.5</text>
<line x1="16.3" y1="220.65" x2="20.3" y2="220.65" stroke="#d0d0d0" stroke-width="0.6"/>
<text transform="translate(14.7,222.1) scale(1,0.88)" font-size="4.75" text-anchor="end" stroke="#1e1e1e" stroke-width="0.16" fill="#1e1e1e" font-family='"Liberation Serif", serif'>0.7</text>
<line x1="16.3" y1="230.11" x2="20.3" y2="230.11" stroke="#d0d0d0" stroke-width="0.6"/>
<text transform="translate(14.7,231.56) scale(1,0.88)" font-size="4.75" text-anchor="end" stroke="#1e1e1e" stroke-width="0.16" fill="#1e1e1e" font-family='"Liberation Serif", serif'>-0.1</text>
<line x1="16.3" y1="239.57" x2="20.3" y2="239.57" stroke="#d0d0d0" stroke-width="0.6"/>
<text transform="translate(14.7,241.02) scale(1,0.88)" font-size="4.75" text-anchor="end" stroke="#1e1e1e" stroke-width="0.16" fill="#1e1e1e" font-family='"Liberation Serif", serif'>-0.9</text>
<line x1="16.3" y1="249.02" x2="20.3" y2="249.02" stroke="#d0d0d0" stroke-width="0.6"/>
<text transform="translate(14.7,250.47) scale(1,0.88)" font-size="4.75" text-anchor="end" stroke="#1e1e1e" stroke-width="0.16" fill="#1e1e1e" font-family='"Liberation Serif", serif'>-1.8</text>
<line x1="16.3" y1="258.48" x2="20.3" y2="258.48" stroke="#d0d0d0" stroke-width="0.6"/>
<text transform="translate(14.7,259.93) scale(1,0.88)" font-size="4.75" text-anchor="end" stroke="#1e1e1e" stroke-width="0.16" fill="#1e1e1e" font-family='"Liberation Serif", serif'>-2.6</text>
<line x1="16.3" y1="267.94" x2="20.3" y2="267.94" stroke="#d0d0d0" stroke-width="0.6"/>
<text transform="translate(14.7,269.39) scale(1,0.88)" font-size="4.75" text-anchor="end" stroke="#1e1e1e" stroke-width="0.16" fill="#1e1e1e" font-family='"Liberation Serif", serif'>-3.4</text>
<line x1="16.3" y1="277.4" x2="20.3" y2="277.4" stroke="#d0d0d0" stroke-width="0.6"/>
<text transform="translate(14.7,278.85) scale(1,0.88)" font-size="4.75" text-anchor="end" stroke="#1e1e1e" stroke-width="0.16" fill="#1e1e1e" font-family='"Liberation Serif", serif'>-4.2</text>
<line x1="20.6" y1="279.2" x2="331.6" y2="279.2" stroke="#777" stroke-width="1.05"/>
<line x1="20.6" y1="278" x2="20.6" y2="280.4" stroke="#9a9a9a" stroke-width="0.6"/>
<text transform="translate(20.6,284.6) scale(1,0.88)" font-size="4.75" text-anchor="middle" fill="#404040" font-family='"Liberation Serif", serif'>0.0003</text>
<line x1="46.52" y1="278" x2="46.52" y2="280.4" stroke="#9a9a9a" stroke-width="0.6"/>
<text transform="translate(46.52,284.6) scale(1,0.88)" font-size="4.75" text-anchor="middle" fill="#404040" font-family='"Liberation Serif", serif'>0.0005</text>
<line x1="72.43" y1="278" x2="72.43" y2="280.4" stroke="#9a9a9a" stroke-width="0.6"/>
<text transform="translate(72.43,284.6) scale(1,0.88)" font-size="4.75" text-anchor="middle" fill="#404040" font-family='"Liberation Serif", serif'>0.0008</text>
<line x1="98.35" y1="278" x2="98.35" y2="280.4" stroke="#9a9a9a" stroke-width="0.6"/>
<text transform="translate(98.35,284.6) scale(1,0.88)" font-size="4.75" text-anchor="middle" fill="#404040" font-family='"Liberation Serif", serif'>0.0011</text>
<line x1="124.27" y1="278" x2="124.27" y2="280.4" stroke="#9a9a9a" stroke-width="0.6"/>
<text transform="translate(124.27,284.6) scale(1,0.88)" font-size="4.75" text-anchor="middle" fill="#404040" font-family='"Liberation Serif", serif'>0.0014</text>
<line x1="150.18" y1="278" x2="150.18" y2="280.4" stroke="#9a9a9a" stroke-width="0.6"/>
<text transform="translate(150.18,284.6) scale(1,0.88)" font-size="4.75" text-anchor="middle" fill="#404040" font-family='"Liberation Serif", serif'>0.0017</text>
<line x1="176.1" y1="278" x2="176.1" y2="280.4" stroke="#9a9a9a" stroke-width="0.6"/>
<text transform="translate(176.1,284.6) scale(1,0.88)" font-size="4.75" text-anchor="middle" fill="#404040" font-family='"Liberation Serif", serif'>0.0020</text>
<line x1="202.02" y1="278" x2="202.02" y2="280.4" stroke="#9a9a9a" stroke-width="0.6"/>
<text transform="translate(202.02,284.6) scale(1,0.88)" font-size="4.75" text-anchor="middle" fill="#404040" font-family='"Liberation Serif", serif'>0.0023</text>
<line x1="227.93" y1="278" x2="227.93" y2="280.4" stroke="#9a9a9a" stroke-width="0.6"/>
<text transform="translate(227.93,284.6) scale(1,0.88)" font-size="4.75" text-anchor="middle" fill="#404040" font-family='"Liberation Serif", serif'>0.0025</text>
<line x1="253.85" y1="278" x2="253.85" y2="280.4" stroke="#9a9a9a" stroke-width="0.6"/>
<text transform="translate(253.85,284.6) scale(1,0.88)" font-size="4.75" text-anchor="middle" fill="#404040" font-family='"Liberation Serif", serif'>0.0028</text>
<line x1="279.77" y1="278" x2="279.77" y2="280.4" stroke="#9a9a9a" stroke-width="0.6"/>
<text transform="translate(279.77,284.6) scale(1,0.88)" font-size="4.75" text-anchor="middle" fill="#404040" font-family='"Liberation Serif", serif'>0.0031</text>
<line x1="305.68" y1="278" x2="305.68" y2="280.4" stroke="#9a9a9a" stroke-width="0.6"/>
<text transform="translate(305.68,284.6) scale(1,0.88)" font-size="4.75" text-anchor="middle" fill="#404040" font-family='"Liberation Serif", serif'>0.0034</text>
<line x1="331.6" y1="278" x2="331.6" y2="280.4" stroke="#9a9a9a" stroke-width="0.6"/>
<text transform="translate(331.6,284.6) scale(1,0.88)" font-size="4.75" text-anchor="middle" fill="#404040" font-family='"Liberation Serif", serif'>0.0037</text>
<text transform="translate(168.3,156.6) scale(1,0.75)" font-size="7.74" text-anchor="middle" font-weight="bold" stroke="#000" stroke-width="0.12" fill="#000" font-family='"Liberation Serif", serif'>Screening with follow-up vs. screening without follow-up (40-44 years)</text>
<text transform="translate(175.7,292.3) scale(1,0.75)" font-size="6.8" text-anchor="middle" font-weight="bold" stroke="#000" stroke-width="0.1" fill="#000" font-family='"Liberation Serif", serif'>Incremental Effectiveness (QALY)</text>
<text transform="translate(5.4,220) scale(1,0.75) rotate(-90)" font-size="6.8" text-anchor="middle" font-weight="bold" fill="#000" stroke="#000" stroke-width="0.1" font-family='"Liberation Serif", serif'>Incremental Cost (USD)</text>
<line x1="372.5" y1="190.3" x2="678.8" y2="190.3" stroke="#c9c9c9" stroke-width="0.8" stroke-dasharray="3,1.7"/>
<line x1="456" y1="162.1" x2="456" y2="277.2" stroke="#d0d0d0" stroke-width="1.3" stroke-dasharray="2.2,1.2"/>
<ellipse cx="507.8" cy="193.3" rx="106" ry="23" transform="rotate(7.16 507.8 193.3)" fill="none" stroke="#e2e2e2" stroke-width="0.75"/>
<line x1="372.6" y1="221.4" x2="533.4" y2="161.6" stroke="#d4d4d4" stroke-width="0.75"/>
<rect x="-19.6" y="-2.6" width="39.2" height="5.2" fill="#fff" transform="translate(504.9,172.2) rotate(-20.4)"/>
<path fill="#5aa3dc" d="M505.05 193.52h1.9v1.36h-1.9zM491.05 192.02h1.9v1.36h-1.9zM529.75 195.02h1.9v1.36h-1.9zM547.95 190.42h1.9v1.36h-1.9zM506.15 188.32h1.9v1.36h-1.9zM482.25 188.92h1.9v1.36h-1.9zM510.05 193.62h1.9v1.36h-1.9zM517.55 202.32h1.9v1.36h-1.9zM528.65 185.82h1.9v1.36h-1.9zM509.95 188.92h1.9v1.36h-1.9zM489.25 196.22h1.9v1.36h-1.9zM498.45 182.12h1.9v1.36h-1.9zM512.85 190.62h1.9v1.36h-1.9zM471.55 184.92h1.9v1.36h-1.9zM486.55 190.02h1.9v1.36h-1.9zM492.15 190.82h1.9v1.36h-1.9zM555.55 191.32h1.9v1.36h-1.9zM481.55 188.62h1.9v1.36h-1.9zM534.85 190.32h1.9v1.36h-1.9zM544.55 188.22h1.9v1.36h-1.9zM475.25 189.02h1.9v1.36h-1.9zM480.15 186.82h1.9v1.36h-1.9zM516.45 195.42h1.9v1.36h-1.9zM507.35 190.32h1.9v1.36h-1.9zM541.45 195.72h1.9v1.36h-1.9zM497.15 196.32h1.9v1.36h-1.9zM478.85 190.32h1.9v1.36h-1.9zM522.45 192.52h1.9v1.36h-1.9zM487.85 191.82h1.9v1.36h-1.9zM489.15 187.62h1.9v1.36h-1.9zM475.05 195.22h1.9v1.36h-1.9zM488.35 195.42h1.9v1.36h-1.9zM514.75 190.92h1.9v1.36h-1.9zM522.65 193.82h1.9v1.36h-1.9zM508.15 185.42h1.9v1.36h-1.9zM505.75 195.52h1.9v1.36h-1.9zM517.35 196.72h1.9v1.36h-1.9zM545.55 196.12h1.9v1.36h-1.9zM526.95 193.32h1.9v1.36h-1.9zM551.35 193.02h1.9v1.36h-1.9zM466.95 183.02h1.9v1.36h-1.9zM498.95 193.82h1.9v1.36h-1.9zM489.75 191.12h1.9v1.36h-1.9zM502.15 191.72h1.9v1.36h-1.9zM520.35 193.22h1.9v1.36h-1.9zM509.95 187.52h1.9v1.36h-1.9zM500.75 193.02h1.9v1.36h-1.9zM533.25 192.82h1.9v1.36h-1.9zM506.45 193.02h1.9v1.36h-1.9zM519.95 193.32h1.9v1.36h-1.9zM497.15 188.52h1.9v1.36h-1.9zM535.35 194.82h1.9v1.36h-1.9zM528.45 196.92h1.9v1.36h-1.9zM508.65 187.02h1.9v1.36h-1.9zM535.85 193.12h1.9v1.36h-1.9zM505.15 196.02h1.9v1.36h-1.9zM532.45 194.42h1.9v1.36h-1.9zM503.95 200.82h1.9v1.36h-1.9zM520.35 187.82h1.9v1.36h-1.9zM524.95 193.42h1.9v1.36h-1.9zM504.75 194.42h1.9v1.36h-1.9zM509.95 200.82h1.9v1.36h-1.9zM509.65 192.82h1.9v1.36h-1.9zM536.65 191.02h1.9v1.36h-1.9zM532.35 193.02h1.9v1.36h-1.9zM537.35 189.82h1.9v1.36h-1.9zM516.25 184.92h1.9v1.36h-1.9zM491.75 190.52h1.9v1.36h-1.9zM517.25 201.12h1.9v1.36h-1.9zM555.75 188.92h1.9v1.36h-1.9zM482.55 195.42h1.9v1.36h-1.9zM516.75 186.02h1.9v1.36h-1.9zM517.95 187.22h1.9v1.36h-1.9zM480.45 184.02h1.9v1.36h-1.9zM496.05 200.92h1.9v1.36h-1.9zM514.65 191.62h1.9v1.36h-1.9zM499.95 189.82h1.9v1.36h-1.9zM515.95 190.72h1.9v1.36h-1.9zM544.75 192.82h1.9v1.36h-1.9zM519.65 193.42h1.9v1.36h-1.9zM480.45 185.32h1.9v1.36h-1.9zM503.35 180.92h1.9v1.36h-1.9zM504.45 191.72h1.9v1.36h-1.9zM508.05 191.22h1.9v1.36h-1.9zM514.05 190.42h1.9v1.36h-1.9zM522.45 185.32h1.9v1.36h-1.9zM529.75 189.12h1.9v1.36h-1.9zM517.75 190.22h1.9v1.36h-1.9zM492.45 186.92h1.9v1.36h-1.9zM541.85 189.12h1.9v1.36h-1.9zM470.35 189.92h1.9v1.36h-1.9zM511.35 192.02h1.9v1.36h-1.9zM477.45 186.52h1.9v1.36h-1.9zM529.65 188.42h1.9v1.36h-1.9zM520.85 195.82h1.9v1.36h-1.9zM508.15 186.12h1.9v1.36h-1.9zM557.15 195.62h1.9v1.36h-1.9zM509.65 190.02h1.9v1.36h-1.9zM477.75 188.32h1.9v1.36h-1.9zM509.95 187.92h1.9v1.36h-1.9zM506.95 196.72h1.9v1.36h-1.9zM516.25 191.72h1.9v1.36h-1.9zM533.05 197.52h1.9v1.36h-1.9zM529.45 189.52h1.9v1.36h-1.9zM453.35 191.32h1.9v1.36h-1.9zM505.85 189.82h1.9v1.36h-1.9zM517.75 190.22h1.9v1.36h-1.9zM486.35 198.22h1.9v1.36h-1.9zM459.65 192.02h1.9v1.36h-1.9zM531.75 201.22h1.9v1.36h-1.9zM510.95 194.12h1.9v1.36h-1.9zM478.65 189.72h1.9v1.36h-1.9zM445.85 184.72h1.9v1.36h-1.9zM503.35 190.82h1.9v1.36h-1.9zM490.45 195.62h1.9v1.36h-1.9zM459.85 188.82h1.9v1.36h-1.9zM493.05 190.72h1.9v1.36h-1.9zM504.95 200.12h1.9v1.36h-1.9zM474.05 195.22h1.9v1.36h-1.9zM543.15 193.52h1.9v1.36h-1.9zM487.45 184.62h1.9v1.36h-1.9zM479.55 198.82h1.9v1.36h-1.9zM443.75 189.12h1.9v1.36h-1.9zM484.25 198.42h1.9v1.36h-1.9zM513.35 185.92h1.9v1.36h-1.9zM489.65 191.22h1.9v1.36h-1.9zM507.85 187.32h1.9v1.36h-1.9zM496.35 188.72h1.9v1.36h-1.9zM517.45 193.52h1.9v1.36h-1.9zM510.55 189.12h1.9v1.36h-1.9zM526.25 190.32h1.9v1.36h-1.9zM481.15 187.82h1.9v1.36h-1.9zM495.15 189.32h1.9v1.36h-1.9zM521.05 198.42h1.9v1.36h-1.9zM492.85 193.92h1.9v1.36h-1.9zM509.65 191.82h1.9v1.36h-1.9zM554.15 192.22h1.9v1.36h-1.9zM520.55 184.72h1.9v1.36h-1.9zM519.85 191.62h1.9v1.36h-1.9zM476.05 186.72h1.9v1.36h-1.9zM533.85 197.82h1.9v1.36h-1.9zM483.65 183.22h1.9v1.36h-1.9zM465.55 182.92h1.9v1.36h-1.9zM482.45 199.62h1.9v1.36h-1.9zM472.45 192.52h1.9v1.36h-1.9zM539.05 189.52h1.9v1.36h-1.9zM496.45 193.82h1.9v1.36h-1.9zM485.55 195.62h1.9v1.36h-1.9zM563.85 195.32h1.9v1.36h-1.9zM480.95 192.42h1.9v1.36h-1.9zM513.65 188.62h1.9v1.36h-1.9zM500.15 191.42h1.9v1.36h-1.9zM517.75 197.42h1.9v1.36h-1.9zM490.95 184.52h1.9v1.36h-1.9zM492.55 188.72h1.9v1.36h-1.9zM566.65 194.92h1.9v1.36h-1.9zM485.05 187.62h1.9v1.36h-1.9zM522.05 194.42h1.9v1.36h-1.9zM514.45 202.22h1.9v1.36h-1.9zM542.25 189.12h1.9v1.36h-1.9zM516.15 194.82h1.9v1.36h-1.9zM529.15 199.92h1.9v1.36h-1.9zM489.55 185.12h1.9v1.36h-1.9zM525.15 191.92h1.9v1.36h-1.9zM487.95 189.82h1.9v1.36h-1.9zM509.85 192.42h1.9v1.36h-1.9zM498.15 193.02h1.9v1.36h-1.9zM489.15 199.52h1.9v1.36h-1.9zM491.05 183.42h1.9v1.36h-1.9zM536.55 188.62h1.9v1.36h-1.9zM464.25 186.02h1.9v1.36h-1.9zM498.65 185.32h1.9v1.36h-1.9zM487.85 190.12h1.9v1.36h-1.9zM522.35 188.32h1.9v1.36h-1.9zM519.35 193.52h1.9v1.36h-1.9zM519.35 189.92h1.9v1.36h-1.9zM470.95 193.32h1.9v1.36h-1.9zM520.35 189.42h1.9v1.36h-1.9zM481.65 192.82h1.9v1.36h-1.9zM560.15 196.82h1.9v1.36h-1.9zM513.25 194.12h1.9v1.36h-1.9zM534.75 186.62h1.9v1.36h-1.9zM507.65 197.22h1.9v1.36h-1.9zM459.95 189.32h1.9v1.36h-1.9zM524.25 200.42h1.9v1.36h-1.9zM547.75 194.22h1.9v1.36h-1.9zM464.25 194.52h1.9v1.36h-1.9zM523.05 187.42h1.9v1.36h-1.9zM534.15 197.32h1.9v1.36h-1.9zM524.45 190.72h1.9v1.36h-1.9zM468.65 181.22h1.9v1.36h-1.9zM497.85 190.12h1.9v1.36h-1.9zM489.75 187.72h1.9v1.36h-1.9zM530.25 188.02h1.9v1.36h-1.9zM482.45 198.82h1.9v1.36h-1.9zM486.25 187.22h1.9v1.36h-1.9zM534.35 185.22h1.9v1.36h-1.9zM549.75 188.72h1.9v1.36h-1.9zM480.85 183.82h1.9v1.36h-1.9zM477.25 186.02h1.9v1.36h-1.9zM530.05 192.82h1.9v1.36h-1.9zM542.35 197.52h1.9v1.36h-1.9zM468.95 188.92h1.9v1.36h-1.9zM486.85 188.12h1.9v1.36h-1.9zM507.25 193.22h1.9v1.36h-1.9zM516.75 182.52h1.9v1.36h-1.9zM499.65 188.92h1.9v1.36h-1.9zM555.95 193.82h1.9v1.36h-1.9zM502.85 191.22h1.9v1.36h-1.9zM526.15 187.62h1.9v1.36h-1.9zM500.25 190.42h1.9v1.36h-1.9zM503.35 190.12h1.9v1.36h-1.9zM488.55 190.62h1.9v1.36h-1.9zM466.15 196.02h1.9v1.36h-1.9zM504.15 183.02h1.9v1.36h-1.9zM495.55 195.02h1.9v1.36h-1.9zM498.25 190.22h1.9v1.36h-1.9zM506.05 182.52h1.9v1.36h-1.9zM490.65 197.02h1.9v1.36h-1.9zM515.05 185.22h1.9v1.36h-1.9zM487.95 191.22h1.9v1.36h-1.9zM561.95 196.42h1.9v1.36h-1.9zM524.55 191.22h1.9v1.36h-1.9zM505.45 186.82h1.9v1.36h-1.9zM467.15 182.52h1.9v1.36h-1.9zM486.85 195.82h1.9v1.36h-1.9zM502.45 196.62h1.9v1.36h-1.9zM525.45 193.52h1.9v1.36h-1.9zM489.05 200.02h1.9v1.36h-1.9zM535.35 199.12h1.9v1.36h-1.9zM510.15 193.42h1.9v1.36h-1.9zM475.95 181.12h1.9v1.36h-1.9zM490.35 190.32h1.9v1.36h-1.9zM487.15 194.32h1.9v1.36h-1.9zM520.85 192.32h1.9v1.36h-1.9zM505.45 200.12h1.9v1.36h-1.9zM493.25 196.12h1.9v1.36h-1.9zM472.25 180.82h1.9v1.36h-1.9zM551.85 198.62h1.9v1.36h-1.9zM522.75 199.12h1.9v1.36h-1.9zM550.95 195.92h1.9v1.36h-1.9zM511.85 194.62h1.9v1.36h-1.9zM528.15 193.92h1.9v1.36h-1.9zM483.45 187.22h1.9v1.36h-1.9zM521.15 192.32h1.9v1.36h-1.9zM544.65 192.12h1.9v1.36h-1.9zM513.55 191.82h1.9v1.36h-1.9zM540.15 189.82h1.9v1.36h-1.9zM478.15 181.92h1.9v1.36h-1.9zM518.75 194.22h1.9v1.36h-1.9zM524.45 196.62h1.9v1.36h-1.9zM470.75 187.42h1.9v1.36h-1.9zM473.75 194.92h1.9v1.36h-1.9zM529.35 186.62h1.9v1.36h-1.9zM519.65 193.02h1.9v1.36h-1.9zM507.75 194.82h1.9v1.36h-1.9zM487.75 188.82h1.9v1.36h-1.9zM486.05 187.12h1.9v1.36h-1.9zM474.95 194.62h1.9v1.36h-1.9zM521.15 191.52h1.9v1.36h-1.9zM505.45 192.42h1.9v1.36h-1.9zM522.35 200.42h1.9v1.36h-1.9zM495.95 190.82h1.9v1.36h-1.9zM488.15 196.92h1.9v1.36h-1.9zM491.95 192.02h1.9v1.36h-1.9zM481.65 193.32h1.9v1.36h-1.9zM485.05 193.82h1.9v1.36h-1.9zM508.45 192.42h1.9v1.36h-1.9zM514.05 184.82h1.9v1.36h-1.9zM491.95 191.52h1.9v1.36h-1.9zM493.55 196.12h1.9v1.36h-1.9zM529.55 189.92h1.9v1.36h-1.9zM537.85 192.82h1.9v1.36h-1.9zM519.85 198.12h1.9v1.36h-1.9zM473.75 185.62h1.9v1.36h-1.9zM503.15 190.32h1.9v1.36h-1.9zM457.55 191.22h1.9v1.36h-1.9zM509.35 192.72h1.9v1.36h-1.9zM513.15 195.32h1.9v1.36h-1.9zM481.65 191.32h1.9v1.36h-1.9zM492.85 188.52h1.9v1.36h-1.9zM479.95 195.22h1.9v1.36h-1.9zM524.05 191.32h1.9v1.36h-1.9zM486.05 194.92h1.9v1.36h-1.9zM478.45 188.32h1.9v1.36h-1.9zM516.25 189.92h1.9v1.36h-1.9zM490.15 190.72h1.9v1.36h-1.9zM532.25 189.22h1.9v1.36h-1.9zM519.55 192.22h1.9v1.36h-1.9zM495.35 184.82h1.9v1.36h-1.9zM552.95 197.42h1.9v1.36h-1.9zM512.15 190.62h1.9v1.36h-1.9zM549.95 191.72h1.9v1.36h-1.9zM476.55 185.92h1.9v1.36h-1.9zM503.15 192.82h1.9v1.36h-1.9zM448.65 188.82h1.9v1.36h-1.9zM511.75 196.82h1.9v1.36h-1.9zM494.85 197.42h1.9v1.36h-1.9zM560.75 192.92h1.9v1.36h-1.9zM496.85 195.42h1.9v1.36h-1.9zM538.35 193.82h1.9v1.36h-1.9zM537.15 186.72h1.9v1.36h-1.9zM530.65 195.32h1.9v1.36h-1.9zM529.65 195.42h1.9v1.36h-1.9zM523.65 190.82h1.9v1.36h-1.9zM512.05 189.12h1.9v1.36h-1.9zM559.45 190.22h1.9v1.36h-1.9zM508.15 191.62h1.9v1.36h-1.9zM527.25 193.02h1.9v1.36h-1.9zM474.95 188.72h1.9v1.36h-1.9zM537.15 197.22h1.9v1.36h-1.9zM484.95 184.42h1.9v1.36h-1.9zM468.85 188.52h1.9v1.36h-1.9zM500.35 189.52h1.9v1.36h-1.9zM490.15 191.32h1.9v1.36h-1.9zM541.35 198.62h1.9v1.36h-1.9zM492.35 194.12h1.9v1.36h-1.9zM497.35 196.72h1.9v1.36h-1.9zM533.25 197.72h1.9v1.36h-1.9zM529.95 199.52h1.9v1.36h-1.9zM475.95 188.02h1.9v1.36h-1.9zM494.95 194.72h1.9v1.36h-1.9zM506.35 186.02h1.9v1.36h-1.9zM483.55 189.12h1.9v1.36h-1.9zM492.05 188.52h1.9v1.36h-1.9zM463.65 189.22h1.9v1.36h-1.9zM468.75 187.22h1.9v1.36h-1.9zM487.55 188.92h1.9v1.36h-1.9zM545.05 192.42h1.9v1.36h-1.9zM479.95 190.82h1.9v1.36h-1.9zM495.65 194.42h1.9v1.36h-1.9zM496.25 194.52h1.9v1.36h-1.9zM511.85 196.92h1.9v1.36h-1.9zM496.75 195.02h1.9v1.36h-1.9zM491.75 187.12h1.9v1.36h-1.9zM537.15 187.52h1.9v1.36h-1.9zM478.45 197.02h1.9v1.36h-1.9zM509.55 193.52h1.9v1.36h-1.9zM511.25 191.82h1.9v1.36h-1.9zM560.15 195.52h1.9v1.36h-1.9zM544.75 194.32h1.9v1.36h-1.9zM485.45 188.92h1.9v1.36h-1.9zM487.65 192.22h1.9v1.36h-1.9zM461.55 191.02h1.9v1.36h-1.9zM500.85 193.02h1.9v1.36h-1.9zM507.35 189.62h1.9v1.36h-1.9zM506.55 191.62h1.9v1.36h-1.9zM533.85 193.22h1.9v1.36h-1.9zM501.55 185.42h1.9v1.36h-1.9zM529.35 192.42h1.9v1.36h-1.9zM478.95 195.12h1.9v1.36h-1.9zM530.65 193.22h1.9v1.36h-1.9zM506.55 185.62h1.9v1.36h-1.9zM462.55 191.42h1.9v1.36h-1.9zM494.75 191.82h1.9v1.36h-1.9zM489.25 192.32h1.9v1.36h-1.9zM526.55 193.52h1.9v1.36h-1.9zM525.45 196.32h1.9v1.36h-1.9zM500.95 183.52h1.9v1.36h-1.9zM522.35 189.92h1.9v1.36h-1.9zM476.25 181.12h1.9v1.36h-1.9zM454.55 193.92h1.9v1.36h-1.9zM553.85 200.92h1.9v1.36h-1.9zM525.85 186.62h1.9v1.36h-1.9zM463.05 191.32h1.9v1.36h-1.9zM530.75 189.12h1.9v1.36h-1.9zM458.75 181.02h1.9v1.36h-1.9zM498.35 194.92h1.9v1.36h-1.9zM559.75 197.22h1.9v1.36h-1.9zM475.75 184.42h1.9v1.36h-1.9zM505.15 194.32h1.9v1.36h-1.9zM447.25 188.62h1.9v1.36h-1.9zM485.95 193.82h1.9v1.36h-1.9zM456.85 192.32h1.9v1.36h-1.9zM543.45 200.42h1.9v1.36h-1.9zM547.15 194.82h1.9v1.36h-1.9zM507.05 186.52h1.9v1.36h-1.9zM503.15 187.62h1.9v1.36h-1.9zM520.45 195.82h1.9v1.36h-1.9zM499.35 198.12h1.9v1.36h-1.9zM466.45 186.12h1.9v1.36h-1.9zM551.65 193.52h1.9v1.36h-1.9zM545.75 191.02h1.9v1.36h-1.9zM484.55 194.32h1.9v1.36h-1.9zM506.35 183.52h1.9v1.36h-1.9zM541.55 189.62h1.9v1.36h-1.9zM493.85 187.62h1.9v1.36h-1.9zM491.25 188.42h1.9v1.36h-1.9zM493.75 188.32h1.9v1.36h-1.9zM520.55 189.62h1.9v1.36h-1.9zM553.45 197.12h1.9v1.36h-1.9zM506.35 188.92h1.9v1.36h-1.9zM526.45 185.02h1.9v1.36h-1.9zM484.25 188.32h1.9v1.36h-1.9zM513.45 192.52h1.9v1.36h-1.9zM462.25 191.02h1.9v1.36h-1.9zM491.35 188.02h1.9v1.36h-1.9zM507.15 190.02h1.9v1.36h-1.9zM491.15 188.62h1.9v1.36h-1.9zM522.35 192.72h1.9v1.36h-1.9zM509.85 188.72h1.9v1.36h-1.9zM535.95 194.02h1.9v1.36h-1.9zM482.45 194.62h1.9v1.36h-1.9zM465.55 185.32h1.9v1.36h-1.9zM526.05 190.82h1.9v1.36h-1.9zM494.85 189.02h1.9v1.36h-1.9zM503.85 193.32h1.9v1.36h-1.9zM520.65 189.32h1.9v1.36h-1.9zM490.65 181.42h1.9v1.36h-1.9zM489.65 192.32h1.9v1.36h-1.9zM504.05 196.52h1.9v1.36h-1.9zM495.85 191.82h1.9v1.36h-1.9zM527.95 187.82h1.9v1.36h-1.9zM541.95 187.72h1.9v1.36h-1.9zM496.65 182.52h1.9v1.36h-1.9zM495.95 186.22h1.9v1.36h-1.9zM530.85 184.02h1.9v1.36h-1.9zM516.15 193.72h1.9v1.36h-1.9zM518.65 196.72h1.9v1.36h-1.9zM526.85 188.72h1.9v1.36h-1.9zM520.65 189.12h1.9v1.36h-1.9zM484.85 188.62h1.9v1.36h-1.9zM490.15 187.62h1.9v1.36h-1.9zM532.15 193.52h1.9v1.36h-1.9zM451.15 184.02h1.9v1.36h-1.9zM488.85 200.32h1.9v1.36h-1.9zM510.35 189.32h1.9v1.36h-1.9zM545.85 192.62h1.9v1.36h-1.9zM476.75 193.02h1.9v1.36h-1.9zM481.95 184.72h1.9v1.36h-1.9zM525.15 201.52h1.9v1.36h-1.9zM493.65 190.12h1.9v1.36h-1.9zM499.95 192.72h1.9v1.36h-1.9zM491.95 190.92h1.9v1.36h-1.9zM481.95 189.12h1.9v1.36h-1.9zM526.85 186.12h1.9v1.36h-1.9zM523.05 200.22h1.9v1.36h-1.9zM484.95 188.22h1.9v1.36h-1.9zM506.75 191.22h1.9v1.36h-1.9zM473.45 192.82h1.9v1.36h-1.9zM520.65 196.92h1.9v1.36h-1.9zM523.35 189.92h1.9v1.36h-1.9zM499.55 188.22h1.9v1.36h-1.9zM527.75 199.62h1.9v1.36h-1.9zM500.45 192.02h1.9v1.36h-1.9zM514.55 199.12h1.9v1.36h-1.9zM470.45 190.22h1.9v1.36h-1.9zM515.85 194.12h1.9v1.36h-1.9zM481.55 193.82h1.9v1.36h-1.9zM517.45 187.82h1.9v1.36h-1.9zM474.35 198.02h1.9v1.36h-1.9zM487.35 183.12h1.9v1.36h-1.9zM515.35 187.22h1.9v1.36h-1.9zM503.05 193.42h1.9v1.36h-1.9zM478.95 183.32h1.9v1.36h-1.9zM555.65 189.12h1.9v1.36h-1.9zM471.75 188.92h1.9v1.36h-1.9zM515.65 191.72h1.9v1.36h-1.9zM479.05 193.62h1.9v1.36h-1.9zM473.45 185.52h1.9v1.36h-1.9zM521.85 197.12h1.9v1.36h-1.9zM516.15 196.12h1.9v1.36h-1.9zM514.35 195.62h1.9v1.36h-1.9zM484.55 186.72h1.9v1.36h-1.9zM519.25 196.82h1.9v1.36h-1.9zM492.85 187.22h1.9v1.36h-1.9zM499.55 195.82h1.9v1.36h-1.9zM501.55 190.02h1.9v1.36h-1.9zM499.75 189.72h1.9v1.36h-1.9zM518.15 190.42h1.9v1.36h-1.9zM507.45 190.52h1.9v1.36h-1.9zM482.55 189.92h1.9v1.36h-1.9zM512.35 184.22h1.9v1.36h-1.9zM510.35 192.82h1.9v1.36h-1.9zM500.75 186.42h1.9v1.36h-1.9zM485.85 193.02h1.9v1.36h-1.9zM479.25 194.02h1.9v1.36h-1.9zM492.75 192.02h1.9v1.36h-1.9zM509.25 184.52h1.9v1.36h-1.9zM531.45 191.12h1.9v1.36h-1.9zM471.45 195.12h1.9v1.36h-1.9zM541.75 198.62h1.9v1.36h-1.9zM527.05 198.02h1.9v1.36h-1.9zM456.25 187.32h1.9v1.36h-1.9zM542.35 196.62h1.9v1.36h-1.9zM507.75 190.42h1.9v1.36h-1.9zM495.15 187.32h1.9v1.36h-1.9zM532.55 193.42h1.9v1.36h-1.9zM510.05 191.22h1.9v1.36h-1.9zM522.55 196.12h1.9v1.36h-1.9zM521.05 185.02h1.9v1.36h-1.9zM445.15 183.72h1.9v1.36h-1.9zM529.15 184.72h1.9v1.36h-1.9zM489.85 187.72h1.9v1.36h-1.9zM500.25 183.92h1.9v1.36h-1.9zM519.55 191.22h1.9v1.36h-1.9zM529.25 193.62h1.9v1.36h-1.9zM502.75 195.72h1.9v1.36h-1.9zM539.55 196.12h1.9v1.36h-1.9zM484.25 191.52h1.9v1.36h-1.9zM474.55 192.22h1.9v1.36h-1.9zM480.15 194.12h1.9v1.36h-1.9zM460.45 198.82h1.9v1.36h-1.9zM471.15 191.82h1.9v1.36h-1.9zM466.25 182.32h1.9v1.36h-1.9zM444.55 191.62h1.9v1.36h-1.9zM474.05 196.72h1.9v1.36h-1.9zM455.85 187.92h1.9v1.36h-1.9zM459.35 191.62h1.9v1.36h-1.9zM456.75 184.32h1.9v1.36h-1.9zM449.65 187.52h1.9v1.36h-1.9zM473.85 182.32h1.9v1.36h-1.9zM459.85 195.42h1.9v1.36h-1.9zM456.25 178.12h1.9v1.36h-1.9zM454.75 192.32h1.9v1.36h-1.9zM464.45 183.82h1.9v1.36h-1.9zM457.65 194.52h1.9v1.36h-1.9zM450.45 195.22h1.9v1.36h-1.9zM460.05 191.22h1.9v1.36h-1.9zM453.65 184.02h1.9v1.36h-1.9zM454.45 190.92h1.9v1.36h-1.9zM457.15 183.52h1.9v1.36h-1.9zM455.45 185.72h1.9v1.36h-1.9zM477.55 180.22h1.9v1.36h-1.9zM468.25 180.32h1.9v1.36h-1.9zM469.95 185.82h1.9v1.36h-1.9zM470.35 187.12h1.9v1.36h-1.9zM473.45 191.82h1.9v1.36h-1.9zM468.25 191.52h1.9v1.36h-1.9zM459.55 186.62h1.9v1.36h-1.9zM456.35 191.22h1.9v1.36h-1.9zM467.85 187.62h1.9v1.36h-1.9zM452.85 188.02h1.9v1.36h-1.9zM468.85 192.22h1.9v1.36h-1.9zM457.85 191.92h1.9v1.36h-1.9zM452.15 186.12h1.9v1.36h-1.9zM453.55 189.42h1.9v1.36h-1.9zM455.15 184.72h1.9v1.36h-1.9zM474.35 193.52h1.9v1.36h-1.9zM447.55 193.62h1.9v1.36h-1.9zM472.55 192.92h1.9v1.36h-1.9zM459.75 195.02h1.9v1.36h-1.9zM470.05 181.72h1.9v1.36h-1.9zM450.95 191.02h1.9v1.36h-1.9zM465.75 189.22h1.9v1.36h-1.9zM470.85 193.62h1.9v1.36h-1.9zM465.15 197.22h1.9v1.36h-1.9zM472.35 194.42h1.9v1.36h-1.9zM476.45 183.82h1.9v1.36h-1.9zM480.55 184.02h1.9v1.36h-1.9zM465.85 187.22h1.9v1.36h-1.9zM455.65 188.02h1.9v1.36h-1.9zM449.05 191.32h1.9v1.36h-1.9zM463.25 184.92h1.9v1.36h-1.9zM465.85 190.02h1.9v1.36h-1.9zM462.85 179.02h1.9v1.36h-1.9zM468.55 189.82h1.9v1.36h-1.9zM475.85 191.12h1.9v1.36h-1.9zM468.45 186.22h1.9v1.36h-1.9zM460.35 184.12h1.9v1.36h-1.9zM456.95 183.92h1.9v1.36h-1.9zM476.65 196.92h1.9v1.36h-1.9zM462.15 186.92h1.9v1.36h-1.9zM455.15 180.72h1.9v1.36h-1.9zM469.05 184.32h1.9v1.36h-1.9zM460.05 181.42h1.9v1.36h-1.9zM475.65 190.62h1.9v1.36h-1.9zM475.55 185.62h1.9v1.36h-1.9zM464.95 186.52h1.9v1.36h-1.9zM453.85 191.32h1.9v1.36h-1.9zM445.85 185.02h1.9v1.36h-1.9zM451.15 188.72h1.9v1.36h-1.9zM449.15 187.42h1.9v1.36h-1.9zM455.25 185.92h1.9v1.36h-1.9zM459.65 198.02h1.9v1.36h-1.9zM454.45 194.62h1.9v1.36h-1.9zM466.25 193.42h1.9v1.36h-1.9zM450.15 195.82h1.9v1.36h-1.9zM463.15 184.42h1.9v1.36h-1.9zM464.75 196.52h1.9v1.36h-1.9zM478.25 179.02h1.9v1.36h-1.9zM540.35 185.72h1.9v1.36h-1.9zM465.85 171.42h1.9v1.36h-1.9zM534.35 183.32h1.9v1.36h-1.9zM526.75 184.92h1.9v1.36h-1.9zM502.15 182.32h1.9v1.36h-1.9zM479.65 177.42h1.9v1.36h-1.9zM504.95 177.32h1.9v1.36h-1.9zM492.55 185.62h1.9v1.36h-1.9zM496.35 182.52h1.9v1.36h-1.9zM508.65 174.82h1.9v1.36h-1.9zM525.45 173.22h1.9v1.36h-1.9zM513.55 179.72h1.9v1.36h-1.9zM468.85 180.52h1.9v1.36h-1.9zM482.65 186.32h1.9v1.36h-1.9zM435.65 181.62h1.9v1.36h-1.9zM533.15 182.92h1.9v1.36h-1.9zM456.75 172.02h1.9v1.36h-1.9zM424.55 176.32h1.9v1.36h-1.9zM489.35 182.42h1.9v1.36h-1.9zM506.95 182.12h1.9v1.36h-1.9zM442.55 176.92h1.9v1.36h-1.9zM513.15 184.42h1.9v1.36h-1.9zM435.45 176.32h1.9v1.36h-1.9zM505.85 188.12h1.9v1.36h-1.9zM518.85 180.72h1.9v1.36h-1.9zM470.75 174.12h1.9v1.36h-1.9zM451.05 175.82h1.9v1.36h-1.9zM469.05 182.52h1.9v1.36h-1.9zM461.95 180.62h1.9v1.36h-1.9zM492.55 175.62h1.9v1.36h-1.9zM504.05 172.12h1.9v1.36h-1.9zM511.55 179.92h1.9v1.36h-1.9zM480.25 179.42h1.9v1.36h-1.9zM518.35 184.32h1.9v1.36h-1.9zM502.35 177.42h1.9v1.36h-1.9zM518.25 172.92h1.9v1.36h-1.9zM556.65 181.02h1.9v1.36h-1.9zM512.75 186.22h1.9v1.36h-1.9zM474.15 176.62h1.9v1.36h-1.9zM507.25 176.32h1.9v1.36h-1.9zM538.05 174.42h1.9v1.36h-1.9zM483.95 179.82h1.9v1.36h-1.9zM507.35 177.62h1.9v1.36h-1.9zM550.85 187.62h1.9v1.36h-1.9zM501.15 182.52h1.9v1.36h-1.9zM455.25 181.02h1.9v1.36h-1.9zM509.25 183.12h1.9v1.36h-1.9zM523.55 181.82h1.9v1.36h-1.9zM498.25 173.52h1.9v1.36h-1.9zM438.75 171.12h1.9v1.36h-1.9zM526.95 181.42h1.9v1.36h-1.9zM477.35 175.32h1.9v1.36h-1.9zM523.65 180.22h1.9v1.36h-1.9zM554.05 180.62h1.9v1.36h-1.9zM469.95 179.22h1.9v1.36h-1.9zM446.45 179.12h1.9v1.36h-1.9zM520.65 175.32h1.9v1.36h-1.9zM512.85 174.32h1.9v1.36h-1.9zM502.35 177.42h1.9v1.36h-1.9zM520.05 176.12h1.9v1.36h-1.9zM490.35 180.72h1.9v1.36h-1.9zM479.85 176.52h1.9v1.36h-1.9zM470.55 181.72h1.9v1.36h-1.9zM505.35 182.42h1.9v1.36h-1.9zM527.65 182.52h1.9v1.36h-1.9zM511.45 177.32h1.9v1.36h-1.9zM496.95 181.32h1.9v1.36h-1.9zM454.25 172.92h1.9v1.36h-1.9zM523.55 187.42h1.9v1.36h-1.9zM516.45 180.32h1.9v1.36h-1.9zM549.85 185.92h1.9v1.36h-1.9zM548.05 185.12h1.9v1.36h-1.9zM506.35 182.92h1.9v1.36h-1.9zM550.55 186.32h1.9v1.36h-1.9zM483.75 173.72h1.9v1.36h-1.9zM455.35 178.32h1.9v1.36h-1.9zM503.05 182.02h1.9v1.36h-1.9zM552.35 182.02h1.9v1.36h-1.9zM472.55 174.62h1.9v1.36h-1.9zM523.75 180.82h1.9v1.36h-1.9zM508.15 176.82h1.9v1.36h-1.9zM467.15 174.82h1.9v1.36h-1.9zM504.55 180.82h1.9v1.36h-1.9zM549.55 184.52h1.9v1.36h-1.9zM501.95 184.22h1.9v1.36h-1.9zM446.95 173.42h1.9v1.36h-1.9zM518.65 183.92h1.9v1.36h-1.9zM501.15 173.52h1.9v1.36h-1.9zM449.65 177.62h1.9v1.36h-1.9zM546.25 195.82h1.9v1.36h-1.9zM513.25 202.52h1.9v1.36h-1.9zM563.95 212.82h1.9v1.36h-1.9zM513.35 198.02h1.9v1.36h-1.9zM521.35 200.32h1.9v1.36h-1.9zM501.95 205.02h1.9v1.36h-1.9zM526.35 206.32h1.9v1.36h-1.9zM480.75 207.42h1.9v1.36h-1.9zM541.05 205.32h1.9v1.36h-1.9zM508.15 207.42h1.9v1.36h-1.9zM565.05 203.42h1.9v1.36h-1.9zM522.35 193.12h1.9v1.36h-1.9zM505.15 194.22h1.9v1.36h-1.9zM476.55 199.52h1.9v1.36h-1.9zM571.85 203.62h1.9v1.36h-1.9zM492.85 201.42h1.9v1.36h-1.9zM498.35 193.82h1.9v1.36h-1.9zM521.15 201.62h1.9v1.36h-1.9zM498.25 203.12h1.9v1.36h-1.9zM581.35 207.42h1.9v1.36h-1.9zM500.85 206.32h1.9v1.36h-1.9zM562.75 203.42h1.9v1.36h-1.9zM520.55 199.02h1.9v1.36h-1.9zM475.45 203.42h1.9v1.36h-1.9zM544.85 212.82h1.9v1.36h-1.9zM481.85 198.92h1.9v1.36h-1.9zM590.95 209.42h1.9v1.36h-1.9zM558.45 202.42h1.9v1.36h-1.9zM572.45 215.02h1.9v1.36h-1.9zM574.35 212.72h1.9v1.36h-1.9zM511.95 211.62h1.9v1.36h-1.9zM503.15 197.42h1.9v1.36h-1.9zM499.85 202.32h1.9v1.36h-1.9zM573.55 208.22h1.9v1.36h-1.9zM546.15 205.22h1.9v1.36h-1.9zM550.35 206.62h1.9v1.36h-1.9zM557.95 211.22h1.9v1.36h-1.9zM547.75 202.62h1.9v1.36h-1.9zM522.55 207.12h1.9v1.36h-1.9zM572.25 210.32h1.9v1.36h-1.9zM506.65 201.02h1.9v1.36h-1.9zM491.05 198.82h1.9v1.36h-1.9zM520.45 200.02h1.9v1.36h-1.9zM538.35 215.32h1.9v1.36h-1.9zM507.05 194.62h1.9v1.36h-1.9zM503.05 207.52h1.9v1.36h-1.9zM490.35 206.12h1.9v1.36h-1.9zM567.95 206.12h1.9v1.36h-1.9zM476.75 201.92h1.9v1.36h-1.9zM495.65 201.52h1.9v1.36h-1.9zM592.75 211.22h1.9v1.36h-1.9zM461.55 197.82h1.9v1.36h-1.9zM488.05 209.42h1.9v1.36h-1.9zM538.25 201.72h1.9v1.36h-1.9zM530.95 203.02h1.9v1.36h-1.9zM492.35 194.22h1.9v1.36h-1.9zM524.25 199.82h1.9v1.36h-1.9zM515.65 205.72h1.9v1.36h-1.9zM566.65 203.52h1.9v1.36h-1.9zM537.55 199.32h1.9v1.36h-1.9zM582.15 205.72h1.9v1.36h-1.9zM486.85 192.12h1.9v1.36h-1.9zM515.15 207.02h1.9v1.36h-1.9zM541.85 198.12h1.9v1.36h-1.9zM534.85 196.92h1.9v1.36h-1.9zM514.75 204.52h1.9v1.36h-1.9zM540.15 195.22h1.9v1.36h-1.9zM499.15 200.82h1.9v1.36h-1.9zM542.05 202.82h1.9v1.36h-1.9zM544.55 211.82h1.9v1.36h-1.9zM470.55 200.32h1.9v1.36h-1.9zM520.75 209.42h1.9v1.36h-1.9zM562.35 208.02h1.9v1.36h-1.9zM535.45 207.32h1.9v1.36h-1.9zM581.95 200.52h1.9v1.36h-1.9zM487.05 200.72h1.9v1.36h-1.9zM557.75 203.02h1.9v1.36h-1.9zM493.55 202.82h1.9v1.36h-1.9zM529.95 208.42h1.9v1.36h-1.9zM520.35 204.92h1.9v1.36h-1.9zM469.85 201.12h1.9v1.36h-1.9zM541.65 203.52h1.9v1.36h-1.9zM482.05 207.82h1.9v1.36h-1.9zM558.45 205.72h1.9v1.36h-1.9zM557.45 215.42h1.9v1.36h-1.9zM514.05 210.02h1.9v1.36h-1.9zM552.85 204.62h1.9v1.36h-1.9zM515.75 209.42h1.9v1.36h-1.9zM564.55 210.42h1.9v1.36h-1.9zM496.35 199.02h1.9v1.36h-1.9zM526.65 196.72h1.9v1.36h-1.9zM473.35 194.92h1.9v1.36h-1.9zM542.45 207.92h1.9v1.36h-1.9zM524.25 206.92h1.9v1.36h-1.9zM583.95 203.22h1.9v1.36h-1.9zM556.75 203.72h1.9v1.36h-1.9zM537.65 195.42h1.9v1.36h-1.9zM526.95 203.42h1.9v1.36h-1.9zM516.05 206.62h1.9v1.36h-1.9zM485.05 199.22h1.9v1.36h-1.9zM552.75 204.42h1.9v1.36h-1.9zM548.95 205.62h1.9v1.36h-1.9zM536.05 200.62h1.9v1.36h-1.9zM484.65 197.72h1.9v1.36h-1.9zM572.55 210.12h1.9v1.36h-1.9zM514.85 199.82h1.9v1.36h-1.9zM568.25 211.52h1.9v1.36h-1.9zM527.35 207.32h1.9v1.36h-1.9zM531.05 211.02h1.9v1.36h-1.9zM495.35 202.32h1.9v1.36h-1.9zM546.95 208.22h1.9v1.36h-1.9zM502.75 198.72h1.9v1.36h-1.9zM554.65 215.02h1.9v1.36h-1.9zM498.45 200.32h1.9v1.36h-1.9zM571.75 206.92h1.9v1.36h-1.9zM551.55 211.02h1.9v1.36h-1.9zM521.95 213.32h1.9v1.36h-1.9zM531.75 202.62h1.9v1.36h-1.9zM562.55 212.92h1.9v1.36h-1.9zM498.95 201.62h1.9v1.36h-1.9zM510.05 202.82h1.9v1.36h-1.9zM484.65 201.72h1.9v1.36h-1.9zM573.35 205.42h1.9v1.36h-1.9zM520.45 202.92h1.9v1.36h-1.9zM484.25 200.22h1.9v1.36h-1.9zM513.85 199.22h1.9v1.36h-1.9zM580.65 206.02h1.9v1.36h-1.9zM546.75 205.12h1.9v1.36h-1.9zM563.75 203.72h1.9v1.36h-1.9zM523.45 203.22h1.9v1.36h-1.9zM585.55 212.92h1.9v1.36h-1.9zM570.25 205.82h1.9v1.36h-1.9zM489.65 197.32h1.9v1.36h-1.9zM467.45 196.72h1.9v1.36h-1.9zM560.45 206.62h1.9v1.36h-1.9zM498.85 204.22h1.9v1.36h-1.9zM546.95 207.32h1.9v1.36h-1.9zM552.45 213.92h1.9v1.36h-1.9zM548.35 212.12h1.9v1.36h-1.9zM564.45 206.62h1.9v1.36h-1.9zM555.55 206.62h1.9v1.36h-1.9zM516.95 205.42h1.9v1.36h-1.9zM548.95 210.32h1.9v1.36h-1.9zM537.45 197.82h1.9v1.36h-1.9zM531.05 206.32h1.9v1.36h-1.9zM556.65 208.82h1.9v1.36h-1.9zM527.75 204.12h1.9v1.36h-1.9zM569.45 212.42h1.9v1.36h-1.9zM530.05 205.92h1.9v1.36h-1.9zM534.35 202.92h1.9v1.36h-1.9zM564.05 194.72h1.9v1.36h-1.9zM575.55 191.42h1.9v1.36h-1.9zM558.25 201.52h1.9v1.36h-1.9zM571.35 190.42h1.9v1.36h-1.9zM551.95 193.72h1.9v1.36h-1.9zM569.05 204.02h1.9v1.36h-1.9zM561.85 210.32h1.9v1.36h-1.9zM576.65 186.02h1.9v1.36h-1.9zM559.65 203.92h1.9v1.36h-1.9zM579.95 195.62h1.9v1.36h-1.9zM559.85 195.72h1.9v1.36h-1.9zM567.45 189.02h1.9v1.36h-1.9zM566.75 206.52h1.9v1.36h-1.9zM567.65 204.72h1.9v1.36h-1.9zM553.15 202.92h1.9v1.36h-1.9zM558.85 201.02h1.9v1.36h-1.9zM573.95 189.62h1.9v1.36h-1.9zM548.25 203.82h1.9v1.36h-1.9zM573.85 202.12h1.9v1.36h-1.9zM552.85 203.62h1.9v1.36h-1.9zM575.15 191.72h1.9v1.36h-1.9zM546.55 201.72h1.9v1.36h-1.9zM566.65 190.62h1.9v1.36h-1.9zM558.55 189.92h1.9v1.36h-1.9zM569.85 198.22h1.9v1.36h-1.9zM578.05 201.02h1.9v1.36h-1.9zM566.55 207.72h1.9v1.36h-1.9zM563.35 188.52h1.9v1.36h-1.9zM563.05 190.42h1.9v1.36h-1.9zM573.25 212.02h1.9v1.36h-1.9zM554.35 194.52h1.9v1.36h-1.9zM543.35 208.42h1.9v1.36h-1.9zM590.65 205.52h1.9v1.36h-1.9zM586.15 210.12h1.9v1.36h-1.9zM556.65 195.82h1.9v1.36h-1.9zM560.95 205.02h1.9v1.36h-1.9zM543.75 187.02h1.9v1.36h-1.9zM570.35 193.12h1.9v1.36h-1.9zM542.05 188.72h1.9v1.36h-1.9zM572.75 211.72h1.9v1.36h-1.9zM564.15 208.02h1.9v1.36h-1.9zM545.55 195.82h1.9v1.36h-1.9zM569.25 194.32h1.9v1.36h-1.9zM542.95 182.92h1.9v1.36h-1.9zM565.15 204.42h1.9v1.36h-1.9zM416.05 175.32h1.9v1.36h-1.9zM427.15 181.12h1.9v1.36h-1.9zM414.95 185.42h1.9v1.36h-1.9zM434.25 179.22h1.9v1.36h-1.9zM413.95 191.02h1.9v1.36h-1.9zM429.65 171.72h1.9v1.36h-1.9zM436.85 188.42h1.9v1.36h-1.9zM420.75 185.42h1.9v1.36h-1.9zM426.65 181.42h1.9v1.36h-1.9zM435.15 174.32h1.9v1.36h-1.9zM436.15 190.32h1.9v1.36h-1.9zM428.75 184.62h1.9v1.36h-1.9zM429.35 180.62h1.9v1.36h-1.9zM442.35 176.82h1.9v1.36h-1.9zM429.55 180.72h1.9v1.36h-1.9zM430.45 179.02h1.9v1.36h-1.9zM428.85 190.32h1.9v1.36h-1.9zM433.65 177.32h1.9v1.36h-1.9zM426.65 180.32h1.9v1.36h-1.9zM428.05 174.22h1.9v1.36h-1.9zM428.95 179.12h1.9v1.36h-1.9zM420.35 181.62h1.9v1.36h-1.9zM445.25 184.02h1.9v1.36h-1.9zM447.45 179.82h1.9v1.36h-1.9zM435.45 180.62h1.9v1.36h-1.9zM422.55 174.22h1.9v1.36h-1.9zM413.85 185.12h1.9v1.36h-1.9zM427.45 182.92h1.9v1.36h-1.9zM418.05 171.12h1.9v1.36h-1.9zM421.35 188.52h1.9v1.36h-1.9zM372.35 181.42h1.9v1.36h-1.9zM386.05 178.82h1.9v1.36h-1.9zM398.15 185.62h1.9v1.36h-1.9zM403.65 174.82h1.9v1.36h-1.9zM403.65 181.92h1.9v1.36h-1.9zM408.15 183.12h1.9v1.36h-1.9zM410.35 183.12h1.9v1.36h-1.9zM409.85 188.62h1.9v1.36h-1.9zM415.65 173.82h1.9v1.36h-1.9zM417.95 176.32h1.9v1.36h-1.9zM418.65 163.82h1.9v1.36h-1.9zM421.65 161.82h1.9v1.36h-1.9zM448.25 164.82h1.9v1.36h-1.9zM450.75 169.32h1.9v1.36h-1.9zM476.35 164.32h1.9v1.36h-1.9zM488.85 163.12h1.9v1.36h-1.9zM494.65 168.62h1.9v1.36h-1.9zM437.45 200.72h1.9v1.36h-1.9zM442.45 198.92h1.9v1.36h-1.9zM448.75 199.42h1.9v1.36h-1.9zM452.55 200.72h1.9v1.36h-1.9zM465.05 204.42h1.9v1.36h-1.9zM468.75 200.72h1.9v1.36h-1.9zM473.85 206.92h1.9v1.36h-1.9zM476.35 205.72h1.9v1.36h-1.9zM493.85 222.52h1.9v1.36h-1.9zM498.35 228.22h1.9v1.36h-1.9zM508.85 232.02h1.9v1.36h-1.9zM508.85 219.52h1.9v1.36h-1.9zM511.45 218.72h1.9v1.36h-1.9zM524.45 223.22h1.9v1.36h-1.9zM529.45 219.52h1.9v1.36h-1.9zM530.65 244.52h1.9v1.36h-1.9zM539.45 224.02h1.9v1.36h-1.9zM498.85 211.92h1.9v1.36h-1.9zM502.65 212.42h1.9v1.36h-1.9zM506.35 210.72h1.9v1.36h-1.9zM550.95 174.32h1.9v1.36h-1.9zM572.25 181.42h1.9v1.36h-1.9zM574.25 183.12h1.9v1.36h-1.9zM598.05 178.82h1.9v1.36h-1.9zM604.25 189.42h1.9v1.36h-1.9zM608.05 196.42h1.9v1.36h-1.9zM602.25 204.42h1.9v1.36h-1.9zM597.25 192.62h1.9v1.36h-1.9zM592.25 191.42h1.9v1.36h-1.9zM587.75 188.92h1.9v1.36h-1.9zM595.25 199.92h1.9v1.36h-1.9zM616.05 203.72h1.9v1.36h-1.9zM614.35 209.42h1.9v1.36h-1.9zM612.35 212.72h1.9v1.36h-1.9zM615.55 215.72h1.9v1.36h-1.9zM623.55 215.72h1.9v1.36h-1.9zM629.15 205.72h1.9v1.36h-1.9zM630.65 193.92h1.9v1.36h-1.9zM636.15 201.92h1.9v1.36h-1.9zM635.65 205.72h1.9v1.36h-1.9zM639.85 209.42h1.9v1.36h-1.9zM643.65 198.92h1.9v1.36h-1.9zM646.65 206.92h1.9v1.36h-1.9zM649.95 204.92h1.9v1.36h-1.9zM662.45 206.92h1.9v1.36h-1.9zM656.65 216.22h1.9v1.36h-1.9zM665.45 216.92h1.9v1.36h-1.9zM676.95 225.72h1.9v1.36h-1.9zM635.35 224.52h1.9v1.36h-1.9zM611.05 221.22h1.9v1.36h-1.9zM606.05 215.72h1.9v1.36h-1.9zM599.75 217.72h1.9v1.36h-1.9zM580.25 218.22h1.9v1.36h-1.9zM572.75 225.02h1.9v1.36h-1.9zM565.15 227.52h1.9v1.36h-1.9zM560.95 225.02h1.9v1.36h-1.9zM547.15 228.22h1.9v1.36h-1.9zM539.15 224.02h1.9v1.36h-1.9zM524.55 222.72h1.9v1.36h-1.9zM509.55 232.02h1.9v1.36h-1.9zM530.35 244.52h1.9v1.36h-1.9zM589.75 246.52h1.9v1.36h-1.9zM600.55 256.32h1.9v1.36h-1.9z"/>
<text transform="translate(505.58,174.03) rotate(-20.4)" font-size="5.35" text-anchor="middle" font-weight="bold" fill="#111" stroke="#111" stroke-width="0.18" font-family='"Liberation Sans", sans-serif'>WTP = $1000.0</text>
<line x1="370.6" y1="162.1" x2="370.6" y2="275.7" stroke="#6a6a6a" stroke-width="1.1"/>
<line x1="368.6" y1="162.1" x2="372.6" y2="162.1" stroke="#d0d0d0" stroke-width="0.6"/>
<text transform="translate(367,163.55) scale(1,0.88)" font-size="4.75" text-anchor="end" stroke="#1e1e1e" stroke-width="0.16" fill="#1e1e1e" font-family='"Liberation Serif", serif'>236.7</text>
<line x1="368.6" y1="171.57" x2="372.6" y2="171.57" stroke="#d0d0d0" stroke-width="0.6"/>
<text transform="translate(367,173.02) scale(1,0.88)" font-size="4.75" text-anchor="end" stroke="#1e1e1e" stroke-width="0.16" fill="#1e1e1e" font-family='"Liberation Serif", serif'>158.6</text>
<line x1="368.6" y1="181.03" x2="372.6" y2="181.03" stroke="#d0d0d0" stroke-width="0.6"/>
<text transform="translate(367,182.48) scale(1,0.88)" font-size="4.75" text-anchor="end" stroke="#1e1e1e" stroke-width="0.16" fill="#1e1e1e" font-family='"Liberation Serif", serif'>80.4</text>
<line x1="368.6" y1="190.5" x2="372.6" y2="190.5" stroke="#d0d0d0" stroke-width="0.6"/>
<text transform="translate(367,191.95) scale(1,0.88)" font-size="4.75" text-anchor="end" stroke="#1e1e1e" stroke-width="0.16" fill="#1e1e1e" font-family='"Liberation Serif", serif'>2.2</text>
<line x1="368.6" y1="199.97" x2="372.6" y2="199.97" stroke="#d0d0d0" stroke-width="0.6"/>
<text transform="translate(367,201.42) scale(1,0.88)" font-size="4.75" text-anchor="end" stroke="#1e1e1e" stroke-width="0.16" fill="#1e1e1e" font-family='"Liberation Serif", serif'>-75.9</text>
<line x1="368.6" y1="209.43" x2="372.6" y2="209.43" stroke="#d0d0d0" stroke-width="0.6"/>
<text transform="translate(367,210.88) scale(1,0.88)" font-size="4.75" text-anchor="end" stroke="#1e1e1e" stroke-width="0.16" fill="#1e1e1e" font-family='"Liberation Serif", serif'>-154.1</text>
<line x1="368.6" y1="218.9" x2="372.6" y2="218.9" stroke="#d0d0d0" stroke-width="0.6"/>
<text transform="translate(367,220.35) scale(1,0.88)" font-size="4.75" text-anchor="end" stroke="#1e1e1e" stroke-width="0.16" fill="#1e1e1e" font-family='"Liberation Serif", serif'>-232.3</text>
<line x1="368.6" y1="228.37" x2="372.6" y2="228.37" stroke="#d0d0d0" stroke-width="0.6"/>
<text transform="translate(367,229.82) scale(1,0.88)" font-size="4.75" text-anchor="end" stroke="#1e1e1e" stroke-width="0.16" fill="#1e1e1e" font-family='"Liberation Serif", serif'>-310.4</text>
<line x1="368.6" y1="237.83" x2="372.6" y2="237.83" stroke="#d0d0d0" stroke-width="0.6"/>
<text transform="translate(367,239.28) scale(1,0.88)" font-size="4.75" text-anchor="end" stroke="#1e1e1e" stroke-width="0.16" fill="#1e1e1e" font-family='"Liberation Serif", serif'>-388.6</text>
<line x1="368.6" y1="247.3" x2="372.6" y2="247.3" stroke="#d0d0d0" stroke-width="0.6"/>
<text transform="translate(367,248.75) scale(1,0.88)" font-size="4.75" text-anchor="end" stroke="#1e1e1e" stroke-width="0.16" fill="#1e1e1e" font-family='"Liberation Serif", serif'>-466.7</text>
<line x1="368.6" y1="256.77" x2="372.6" y2="256.77" stroke="#d0d0d0" stroke-width="0.6"/>
<text transform="translate(367,258.22) scale(1,0.88)" font-size="4.75" text-anchor="end" stroke="#1e1e1e" stroke-width="0.16" fill="#1e1e1e" font-family='"Liberation Serif", serif'>-544.9</text>
<line x1="368.6" y1="266.23" x2="372.6" y2="266.23" stroke="#d0d0d0" stroke-width="0.6"/>
<text transform="translate(367,267.68) scale(1,0.88)" font-size="4.75" text-anchor="end" stroke="#1e1e1e" stroke-width="0.16" fill="#1e1e1e" font-family='"Liberation Serif", serif'>-623.1</text>
<line x1="368.6" y1="275.7" x2="372.6" y2="275.7" stroke="#d0d0d0" stroke-width="0.6"/>
<text transform="translate(367,277.15) scale(1,0.88)" font-size="4.75" text-anchor="end" stroke="#1e1e1e" stroke-width="0.16" fill="#1e1e1e" font-family='"Liberation Serif", serif'>-701.2</text>
<line x1="372.5" y1="277.2" x2="678.8" y2="277.2" stroke="#777" stroke-width="1.05"/>
<line x1="372.5" y1="276" x2="372.5" y2="278.4" stroke="#9a9a9a" stroke-width="0.6"/>
<text transform="translate(372.5,282.6) scale(1,0.88)" font-size="4.75" text-anchor="middle" fill="#404040" font-family='"Liberation Serif", serif'>-0.0049</text>
<line x1="398.02" y1="276" x2="398.02" y2="278.4" stroke="#9a9a9a" stroke-width="0.6"/>
<text transform="translate(398.02,282.6) scale(1,0.88)" font-size="4.75" text-anchor="middle" fill="#404040" font-family='"Liberation Serif", serif'>-0.0034</text>
<line x1="423.55" y1="276" x2="423.55" y2="278.4" stroke="#9a9a9a" stroke-width="0.6"/>
<text transform="translate(423.55,282.6) scale(1,0.88)" font-size="4.75" text-anchor="middle" fill="#404040" font-family='"Liberation Serif", serif'>-0.0019</text>
<line x1="449.07" y1="276" x2="449.07" y2="278.4" stroke="#9a9a9a" stroke-width="0.6"/>
<text transform="translate(449.07,282.6) scale(1,0.88)" font-size="4.75" text-anchor="middle" fill="#404040" font-family='"Liberation Serif", serif'>-0.0004</text>
<line x1="474.6" y1="276" x2="474.6" y2="278.4" stroke="#9a9a9a" stroke-width="0.6"/>
<text transform="translate(474.6,282.6) scale(1,0.88)" font-size="4.75" text-anchor="middle" fill="#404040" font-family='"Liberation Serif", serif'>0.0011</text>
<line x1="500.12" y1="276" x2="500.12" y2="278.4" stroke="#9a9a9a" stroke-width="0.6"/>
<text transform="translate(500.12,282.6) scale(1,0.88)" font-size="4.75" text-anchor="middle" fill="#404040" font-family='"Liberation Serif", serif'>0.0026</text>
<line x1="525.65" y1="276" x2="525.65" y2="278.4" stroke="#9a9a9a" stroke-width="0.6"/>
<text transform="translate(525.65,282.6) scale(1,0.88)" font-size="4.75" text-anchor="middle" fill="#404040" font-family='"Liberation Serif", serif'>0.0042</text>
<line x1="551.17" y1="276" x2="551.17" y2="278.4" stroke="#9a9a9a" stroke-width="0.6"/>
<text transform="translate(551.17,282.6) scale(1,0.88)" font-size="4.75" text-anchor="middle" fill="#404040" font-family='"Liberation Serif", serif'>0.0057</text>
<line x1="576.7" y1="276" x2="576.7" y2="278.4" stroke="#9a9a9a" stroke-width="0.6"/>
<text transform="translate(576.7,282.6) scale(1,0.88)" font-size="4.75" text-anchor="middle" fill="#404040" font-family='"Liberation Serif", serif'>0.0072</text>
<line x1="602.23" y1="276" x2="602.23" y2="278.4" stroke="#9a9a9a" stroke-width="0.6"/>
<text transform="translate(602.23,282.6) scale(1,0.88)" font-size="4.75" text-anchor="middle" fill="#404040" font-family='"Liberation Serif", serif'>0.0087</text>
<line x1="627.75" y1="276" x2="627.75" y2="278.4" stroke="#9a9a9a" stroke-width="0.6"/>
<text transform="translate(627.75,282.6) scale(1,0.88)" font-size="4.75" text-anchor="middle" fill="#404040" font-family='"Liberation Serif", serif'>0.0103</text>
<line x1="653.27" y1="276" x2="653.27" y2="278.4" stroke="#9a9a9a" stroke-width="0.6"/>
<text transform="translate(653.27,282.6) scale(1,0.88)" font-size="4.75" text-anchor="middle" fill="#404040" font-family='"Liberation Serif", serif'>0.0118</text>
<line x1="678.8" y1="276" x2="678.8" y2="278.4" stroke="#9a9a9a" stroke-width="0.6"/>
<text transform="translate(678.8,282.6) scale(1,0.88)" font-size="4.75" text-anchor="middle" fill="#404040" font-family='"Liberation Serif", serif'>0.0133</text>
<text transform="translate(515.3,154.6) scale(1,0.75)" font-size="7.7" text-anchor="middle" font-weight="bold" stroke="#000" stroke-width="0.12" fill="#000" font-family='"Liberation Serif", serif'>Screening with follow-up vs. non-screening (45-49 years)</text>
<text transform="translate(525.4,290.7) scale(1,0.75)" font-size="6.8" text-anchor="middle" font-weight="bold" stroke="#000" stroke-width="0.1" fill="#000" font-family='"Liberation Serif", serif'>Incremental Effectiveness (QALY)</text>
<text transform="translate(351.8,218.5) scale(1,0.75) rotate(-90)" font-size="6.8" text-anchor="middle" font-weight="bold" fill="#000" stroke="#000" stroke-width="0.1" font-family='"Liberation Serif", serif'>Incremental Cost (USD)</text>
<line x1="25" y1="376.4" x2="333" y2="376.4" stroke="#c9c9c9" stroke-width="0.8" stroke-dasharray="3,1.7"/>
<line x1="25" y1="318.6" x2="25" y2="432.4" stroke="#c8c8c8" stroke-width="0.8" stroke-dasharray="2.2,1.2"/>
<clipPath id="clE"><rect x="25" y="0" width="400" height="447"/></clipPath>
<ellipse cx="114.4" cy="373.2" rx="112.3" ry="25.6" transform="rotate(1.54 114.4 373.2)" fill="none" stroke="#e2e2e2" stroke-width="0.75" clip-path="url(#clE)"/>
<path fill="#5aa3dc" d="M64.65 367.92h1.9v1.36h-1.9zM101.85 361.32h1.9v1.36h-1.9zM146.65 376.02h1.9v1.36h-1.9zM155.85 371.82h1.9v1.36h-1.9zM121.35 373.12h1.9v1.36h-1.9zM80.45 375.72h1.9v1.36h-1.9zM61.75 372.72h1.9v1.36h-1.9zM132.15 375.12h1.9v1.36h-1.9zM92.25 387.92h1.9v1.36h-1.9zM109.15 371.32h1.9v1.36h-1.9zM112.75 371.72h1.9v1.36h-1.9zM93.15 372.72h1.9v1.36h-1.9zM179.95 374.92h1.9v1.36h-1.9zM113.35 378.82h1.9v1.36h-1.9zM179.65 373.52h1.9v1.36h-1.9zM54.55 372.62h1.9v1.36h-1.9zM130.85 371.72h1.9v1.36h-1.9zM93.15 377.62h1.9v1.36h-1.9zM115.15 376.52h1.9v1.36h-1.9zM91.55 382.52h1.9v1.36h-1.9zM161.25 375.02h1.9v1.36h-1.9zM90.75 379.22h1.9v1.36h-1.9zM124.25 368.62h1.9v1.36h-1.9zM90.45 381.12h1.9v1.36h-1.9zM103.55 372.82h1.9v1.36h-1.9zM114.65 374.62h1.9v1.36h-1.9zM106.95 363.22h1.9v1.36h-1.9zM170.05 376.02h1.9v1.36h-1.9zM75.45 380.72h1.9v1.36h-1.9zM118.15 374.92h1.9v1.36h-1.9zM126.95 384.32h1.9v1.36h-1.9zM88.25 379.52h1.9v1.36h-1.9zM45.55 373.22h1.9v1.36h-1.9zM153.55 381.12h1.9v1.36h-1.9zM127.95 363.42h1.9v1.36h-1.9zM134.65 377.82h1.9v1.36h-1.9zM45.25 366.22h1.9v1.36h-1.9zM63.25 386.32h1.9v1.36h-1.9zM77.15 373.32h1.9v1.36h-1.9zM97.85 378.22h1.9v1.36h-1.9zM125.05 376.42h1.9v1.36h-1.9zM113.05 376.42h1.9v1.36h-1.9zM151.35 374.22h1.9v1.36h-1.9zM85.05 377.32h1.9v1.36h-1.9zM51.05 368.62h1.9v1.36h-1.9zM70.85 376.52h1.9v1.36h-1.9zM182.35 379.42h1.9v1.36h-1.9zM148.15 376.22h1.9v1.36h-1.9zM117.05 372.12h1.9v1.36h-1.9zM63.75 367.12h1.9v1.36h-1.9zM137.15 378.82h1.9v1.36h-1.9zM148.15 384.12h1.9v1.36h-1.9zM96.05 381.12h1.9v1.36h-1.9zM177.45 374.72h1.9v1.36h-1.9zM146.15 373.82h1.9v1.36h-1.9zM48.95 375.52h1.9v1.36h-1.9zM77.45 375.52h1.9v1.36h-1.9zM90.35 376.72h1.9v1.36h-1.9zM156.05 372.72h1.9v1.36h-1.9zM74.35 374.82h1.9v1.36h-1.9zM131.35 377.32h1.9v1.36h-1.9zM121.55 363.02h1.9v1.36h-1.9zM66.35 382.92h1.9v1.36h-1.9zM115.65 365.72h1.9v1.36h-1.9zM75.75 366.12h1.9v1.36h-1.9zM70.25 381.92h1.9v1.36h-1.9zM99.05 381.62h1.9v1.36h-1.9zM113.85 365.72h1.9v1.36h-1.9zM79.05 368.42h1.9v1.36h-1.9zM152.25 375.32h1.9v1.36h-1.9zM106.85 383.82h1.9v1.36h-1.9zM42.55 377.42h1.9v1.36h-1.9zM68.35 366.22h1.9v1.36h-1.9zM77.15 381.82h1.9v1.36h-1.9zM101.85 363.62h1.9v1.36h-1.9zM66.35 384.12h1.9v1.36h-1.9zM144.65 368.12h1.9v1.36h-1.9zM63.15 374.02h1.9v1.36h-1.9zM141.45 384.72h1.9v1.36h-1.9zM144.95 372.22h1.9v1.36h-1.9zM86.35 365.92h1.9v1.36h-1.9zM104.35 371.12h1.9v1.36h-1.9zM116.05 367.02h1.9v1.36h-1.9zM88.05 369.42h1.9v1.36h-1.9zM62.75 367.52h1.9v1.36h-1.9zM69.55 367.52h1.9v1.36h-1.9zM127.95 375.42h1.9v1.36h-1.9zM58.45 377.92h1.9v1.36h-1.9zM117.65 383.82h1.9v1.36h-1.9zM99.85 373.52h1.9v1.36h-1.9zM81.65 375.62h1.9v1.36h-1.9zM125.25 375.92h1.9v1.36h-1.9zM97.65 378.32h1.9v1.36h-1.9zM110.45 376.32h1.9v1.36h-1.9zM72.65 376.12h1.9v1.36h-1.9zM70.35 369.62h1.9v1.36h-1.9zM112.95 387.72h1.9v1.36h-1.9zM143.75 374.82h1.9v1.36h-1.9zM100.45 380.92h1.9v1.36h-1.9zM157.95 382.32h1.9v1.36h-1.9zM100.15 376.02h1.9v1.36h-1.9zM94.95 373.02h1.9v1.36h-1.9zM75.55 373.32h1.9v1.36h-1.9zM122.75 369.12h1.9v1.36h-1.9zM126.95 366.92h1.9v1.36h-1.9zM93.45 377.22h1.9v1.36h-1.9zM68.85 370.42h1.9v1.36h-1.9zM81.05 371.32h1.9v1.36h-1.9zM108.25 374.62h1.9v1.36h-1.9zM143.25 379.72h1.9v1.36h-1.9zM92.15 372.62h1.9v1.36h-1.9zM54.95 365.62h1.9v1.36h-1.9zM79.85 379.32h1.9v1.36h-1.9zM111.45 379.72h1.9v1.36h-1.9zM141.75 373.82h1.9v1.36h-1.9zM184.35 371.62h1.9v1.36h-1.9zM84.05 372.22h1.9v1.36h-1.9zM148.95 374.02h1.9v1.36h-1.9zM79.85 377.52h1.9v1.36h-1.9zM148.75 374.12h1.9v1.36h-1.9zM97.75 381.52h1.9v1.36h-1.9zM143.25 380.62h1.9v1.36h-1.9zM78.95 376.52h1.9v1.36h-1.9zM120.35 363.82h1.9v1.36h-1.9zM151.25 375.42h1.9v1.36h-1.9zM112.45 370.42h1.9v1.36h-1.9zM104.75 378.32h1.9v1.36h-1.9zM136.95 374.42h1.9v1.36h-1.9zM75.25 370.52h1.9v1.36h-1.9zM76.95 368.42h1.9v1.36h-1.9zM106.35 371.82h1.9v1.36h-1.9zM109.05 369.72h1.9v1.36h-1.9zM75.15 373.72h1.9v1.36h-1.9zM94.25 381.92h1.9v1.36h-1.9zM73.85 376.12h1.9v1.36h-1.9zM105.55 366.82h1.9v1.36h-1.9zM133.75 375.82h1.9v1.36h-1.9zM29.95 378.52h1.9v1.36h-1.9zM141.55 369.92h1.9v1.36h-1.9zM169.25 375.82h1.9v1.36h-1.9zM64.65 378.22h1.9v1.36h-1.9zM93.85 366.62h1.9v1.36h-1.9zM28.25 376.32h1.9v1.36h-1.9zM80.05 378.72h1.9v1.36h-1.9zM121.25 371.62h1.9v1.36h-1.9zM87.55 385.62h1.9v1.36h-1.9zM169.75 379.42h1.9v1.36h-1.9zM93.95 368.82h1.9v1.36h-1.9zM92.85 385.02h1.9v1.36h-1.9zM123.95 373.02h1.9v1.36h-1.9zM62.05 375.82h1.9v1.36h-1.9zM74.75 374.92h1.9v1.36h-1.9zM134.25 381.32h1.9v1.36h-1.9zM112.15 372.72h1.9v1.36h-1.9zM115.35 385.82h1.9v1.36h-1.9zM120.85 366.22h1.9v1.36h-1.9zM163.95 376.32h1.9v1.36h-1.9zM103.65 373.02h1.9v1.36h-1.9zM120.85 371.32h1.9v1.36h-1.9zM102.55 371.72h1.9v1.36h-1.9zM85.85 387.72h1.9v1.36h-1.9zM136.15 381.52h1.9v1.36h-1.9zM88.75 376.62h1.9v1.36h-1.9zM99.35 373.62h1.9v1.36h-1.9zM134.35 378.52h1.9v1.36h-1.9zM118.15 375.72h1.9v1.36h-1.9zM54.25 370.32h1.9v1.36h-1.9zM121.05 372.62h1.9v1.36h-1.9zM78.65 377.02h1.9v1.36h-1.9zM73.35 370.72h1.9v1.36h-1.9zM139.35 372.62h1.9v1.36h-1.9zM159.35 378.02h1.9v1.36h-1.9zM136.65 381.72h1.9v1.36h-1.9zM28.05 374.32h1.9v1.36h-1.9zM59.85 372.02h1.9v1.36h-1.9zM103.25 382.42h1.9v1.36h-1.9zM105.45 384.82h1.9v1.36h-1.9zM87.85 374.52h1.9v1.36h-1.9zM110.45 380.62h1.9v1.36h-1.9zM105.15 371.02h1.9v1.36h-1.9zM95.05 366.32h1.9v1.36h-1.9zM153.05 379.32h1.9v1.36h-1.9zM122.65 376.52h1.9v1.36h-1.9zM84.95 372.32h1.9v1.36h-1.9zM136.55 370.02h1.9v1.36h-1.9zM78.55 384.42h1.9v1.36h-1.9zM163.95 376.62h1.9v1.36h-1.9zM126.45 375.92h1.9v1.36h-1.9zM159.05 372.12h1.9v1.36h-1.9zM110.05 377.72h1.9v1.36h-1.9zM159.55 373.32h1.9v1.36h-1.9zM115.55 371.82h1.9v1.36h-1.9zM83.25 370.82h1.9v1.36h-1.9zM110.05 380.22h1.9v1.36h-1.9zM81.85 371.22h1.9v1.36h-1.9zM92.35 376.92h1.9v1.36h-1.9zM132.45 367.22h1.9v1.36h-1.9zM119.95 368.82h1.9v1.36h-1.9zM132.95 369.02h1.9v1.36h-1.9zM67.85 370.52h1.9v1.36h-1.9zM104.85 368.82h1.9v1.36h-1.9zM114.75 375.72h1.9v1.36h-1.9zM110.05 376.42h1.9v1.36h-1.9zM138.65 370.42h1.9v1.36h-1.9zM107.15 374.62h1.9v1.36h-1.9zM32.75 377.12h1.9v1.36h-1.9zM79.15 370.52h1.9v1.36h-1.9zM90.95 375.42h1.9v1.36h-1.9zM118.95 377.72h1.9v1.36h-1.9zM81.95 379.02h1.9v1.36h-1.9zM122.15 372.42h1.9v1.36h-1.9zM106.35 379.62h1.9v1.36h-1.9zM122.65 379.02h1.9v1.36h-1.9zM110.85 381.72h1.9v1.36h-1.9zM187.25 377.52h1.9v1.36h-1.9zM86.45 366.52h1.9v1.36h-1.9zM146.55 380.82h1.9v1.36h-1.9zM93.25 383.52h1.9v1.36h-1.9zM104.25 371.22h1.9v1.36h-1.9zM109.55 376.12h1.9v1.36h-1.9zM108.85 377.22h1.9v1.36h-1.9zM86.55 378.72h1.9v1.36h-1.9zM78.25 375.82h1.9v1.36h-1.9zM100.75 365.32h1.9v1.36h-1.9zM120.85 378.62h1.9v1.36h-1.9zM83.75 369.72h1.9v1.36h-1.9zM111.05 374.72h1.9v1.36h-1.9zM165.15 378.72h1.9v1.36h-1.9zM97.85 375.82h1.9v1.36h-1.9zM73.85 374.12h1.9v1.36h-1.9zM118.55 376.12h1.9v1.36h-1.9zM140.75 370.72h1.9v1.36h-1.9zM118.05 374.02h1.9v1.36h-1.9zM107.55 376.72h1.9v1.36h-1.9zM96.95 376.12h1.9v1.36h-1.9zM105.75 380.92h1.9v1.36h-1.9zM103.05 376.62h1.9v1.36h-1.9zM125.45 381.32h1.9v1.36h-1.9zM70.85 379.12h1.9v1.36h-1.9zM134.05 377.42h1.9v1.36h-1.9zM142.05 379.52h1.9v1.36h-1.9zM149.85 371.02h1.9v1.36h-1.9zM122.55 371.52h1.9v1.36h-1.9zM151.65 375.62h1.9v1.36h-1.9zM60.35 375.52h1.9v1.36h-1.9zM71.05 380.72h1.9v1.36h-1.9zM94.95 361.72h1.9v1.36h-1.9zM93.15 380.92h1.9v1.36h-1.9zM118.85 371.02h1.9v1.36h-1.9zM130.35 378.22h1.9v1.36h-1.9zM159.85 380.22h1.9v1.36h-1.9zM120.25 370.12h1.9v1.36h-1.9zM117.25 376.62h1.9v1.36h-1.9zM107.55 377.32h1.9v1.36h-1.9zM64.45 378.22h1.9v1.36h-1.9zM107.45 376.92h1.9v1.36h-1.9zM103.65 373.02h1.9v1.36h-1.9zM116.25 379.52h1.9v1.36h-1.9zM95.55 376.72h1.9v1.36h-1.9zM79.65 377.32h1.9v1.36h-1.9zM107.75 367.22h1.9v1.36h-1.9zM148.75 369.52h1.9v1.36h-1.9zM109.95 367.02h1.9v1.36h-1.9zM45.05 378.72h1.9v1.36h-1.9zM99.35 365.62h1.9v1.36h-1.9zM99.75 385.72h1.9v1.36h-1.9zM92.95 376.92h1.9v1.36h-1.9zM127.15 376.32h1.9v1.36h-1.9zM102.75 383.82h1.9v1.36h-1.9zM104.15 376.92h1.9v1.36h-1.9zM111.05 367.22h1.9v1.36h-1.9zM118.45 375.12h1.9v1.36h-1.9zM130.15 378.92h1.9v1.36h-1.9zM87.15 372.02h1.9v1.36h-1.9zM76.25 377.32h1.9v1.36h-1.9zM104.25 375.62h1.9v1.36h-1.9zM48.85 369.12h1.9v1.36h-1.9zM104.75 372.12h1.9v1.36h-1.9zM85.35 374.12h1.9v1.36h-1.9zM97.15 368.52h1.9v1.36h-1.9zM166.45 370.82h1.9v1.36h-1.9zM130.25 378.32h1.9v1.36h-1.9zM141.45 371.42h1.9v1.36h-1.9zM71.45 377.42h1.9v1.36h-1.9zM93.15 373.22h1.9v1.36h-1.9zM121.75 369.02h1.9v1.36h-1.9zM153.25 376.42h1.9v1.36h-1.9zM33.15 376.22h1.9v1.36h-1.9zM87.45 377.42h1.9v1.36h-1.9zM102.95 378.82h1.9v1.36h-1.9zM75.75 372.62h1.9v1.36h-1.9zM107.25 370.32h1.9v1.36h-1.9zM90.85 378.42h1.9v1.36h-1.9zM175.55 373.52h1.9v1.36h-1.9zM136.35 368.12h1.9v1.36h-1.9zM90.85 376.72h1.9v1.36h-1.9zM127.55 368.72h1.9v1.36h-1.9zM128.35 375.72h1.9v1.36h-1.9zM153.65 380.32h1.9v1.36h-1.9zM126.45 372.52h1.9v1.36h-1.9zM116.35 369.72h1.9v1.36h-1.9zM77.65 363.92h1.9v1.36h-1.9zM60.85 367.32h1.9v1.36h-1.9zM103.35 375.42h1.9v1.36h-1.9zM59.35 374.22h1.9v1.36h-1.9zM121.25 380.32h1.9v1.36h-1.9zM103.55 376.12h1.9v1.36h-1.9zM93.65 380.32h1.9v1.36h-1.9zM51.55 376.22h1.9v1.36h-1.9zM139.75 362.32h1.9v1.36h-1.9zM88.15 366.42h1.9v1.36h-1.9zM44.35 372.32h1.9v1.36h-1.9zM75.65 380.92h1.9v1.36h-1.9zM88.25 368.22h1.9v1.36h-1.9zM103.95 377.22h1.9v1.36h-1.9zM135.85 377.72h1.9v1.36h-1.9zM53.85 369.92h1.9v1.36h-1.9zM100.25 369.82h1.9v1.36h-1.9zM133.05 372.72h1.9v1.36h-1.9zM104.15 372.52h1.9v1.36h-1.9zM108.15 365.92h1.9v1.36h-1.9zM181.05 371.42h1.9v1.36h-1.9zM80.85 364.22h1.9v1.36h-1.9zM103.55 366.62h1.9v1.36h-1.9zM118.15 381.82h1.9v1.36h-1.9zM128.15 372.12h1.9v1.36h-1.9zM151.55 373.62h1.9v1.36h-1.9zM104.85 375.12h1.9v1.36h-1.9zM89.65 377.22h1.9v1.36h-1.9zM62.95 364.22h1.9v1.36h-1.9zM148.95 370.42h1.9v1.36h-1.9zM93.95 376.72h1.9v1.36h-1.9zM89.85 367.72h1.9v1.36h-1.9zM99.55 369.12h1.9v1.36h-1.9zM125.95 372.12h1.9v1.36h-1.9zM97.35 379.32h1.9v1.36h-1.9zM51.75 365.92h1.9v1.36h-1.9zM132.35 382.22h1.9v1.36h-1.9zM109.75 370.52h1.9v1.36h-1.9zM149.95 377.82h1.9v1.36h-1.9zM142.75 364.02h1.9v1.36h-1.9zM101.95 368.62h1.9v1.36h-1.9zM67.65 378.12h1.9v1.36h-1.9zM132.25 371.92h1.9v1.36h-1.9zM97.65 382.82h1.9v1.36h-1.9zM129.75 374.02h1.9v1.36h-1.9zM124.55 375.42h1.9v1.36h-1.9zM61.85 371.72h1.9v1.36h-1.9zM116.45 378.42h1.9v1.36h-1.9zM64.05 370.02h1.9v1.36h-1.9zM85.75 365.82h1.9v1.36h-1.9zM145.45 377.42h1.9v1.36h-1.9zM77.75 385.42h1.9v1.36h-1.9zM56.65 364.02h1.9v1.36h-1.9zM114.35 384.02h1.9v1.36h-1.9zM129.15 369.12h1.9v1.36h-1.9zM126.05 377.12h1.9v1.36h-1.9zM115.85 377.02h1.9v1.36h-1.9zM135.85 381.62h1.9v1.36h-1.9zM154.95 381.02h1.9v1.36h-1.9zM101.35 363.82h1.9v1.36h-1.9zM125.85 365.92h1.9v1.36h-1.9zM120.45 376.52h1.9v1.36h-1.9zM129.55 376.42h1.9v1.36h-1.9zM78.95 379.52h1.9v1.36h-1.9zM81.95 365.82h1.9v1.36h-1.9zM138.65 377.92h1.9v1.36h-1.9zM73.45 373.22h1.9v1.36h-1.9zM142.95 380.22h1.9v1.36h-1.9zM68.55 381.32h1.9v1.36h-1.9zM120.15 374.02h1.9v1.36h-1.9zM110.55 365.22h1.9v1.36h-1.9zM101.95 377.72h1.9v1.36h-1.9zM73.65 375.52h1.9v1.36h-1.9zM100.65 361.42h1.9v1.36h-1.9zM85.05 378.22h1.9v1.36h-1.9zM51.45 374.92h1.9v1.36h-1.9zM118.45 367.22h1.9v1.36h-1.9zM97.75 380.02h1.9v1.36h-1.9zM132.25 368.92h1.9v1.36h-1.9zM142.85 376.82h1.9v1.36h-1.9zM111.15 383.72h1.9v1.36h-1.9zM132.65 376.92h1.9v1.36h-1.9zM140.85 378.72h1.9v1.36h-1.9zM151.75 374.12h1.9v1.36h-1.9zM135.35 377.92h1.9v1.36h-1.9zM108.45 374.22h1.9v1.36h-1.9zM110.45 369.12h1.9v1.36h-1.9zM134.25 375.32h1.9v1.36h-1.9zM72.85 376.32h1.9v1.36h-1.9zM95.25 374.62h1.9v1.36h-1.9zM68.95 377.22h1.9v1.36h-1.9zM132.05 377.32h1.9v1.36h-1.9zM159.75 372.22h1.9v1.36h-1.9zM95.15 374.72h1.9v1.36h-1.9zM58.25 381.32h1.9v1.36h-1.9zM62.75 378.02h1.9v1.36h-1.9zM149.45 369.82h1.9v1.36h-1.9zM100.65 373.62h1.9v1.36h-1.9zM168.05 376.32h1.9v1.36h-1.9zM44.35 381.12h1.9v1.36h-1.9zM143.65 362.92h1.9v1.36h-1.9zM110.05 362.22h1.9v1.36h-1.9zM144.45 383.22h1.9v1.36h-1.9zM132.15 374.62h1.9v1.36h-1.9zM81.85 377.12h1.9v1.36h-1.9zM77.95 375.72h1.9v1.36h-1.9zM97.75 372.12h1.9v1.36h-1.9zM126.45 380.62h1.9v1.36h-1.9zM138.55 377.42h1.9v1.36h-1.9zM166.95 367.32h1.9v1.36h-1.9zM109.35 375.92h1.9v1.36h-1.9zM91.25 372.92h1.9v1.36h-1.9zM113.85 388.22h1.9v1.36h-1.9zM115.45 374.22h1.9v1.36h-1.9zM122.25 380.62h1.9v1.36h-1.9zM100.75 384.82h1.9v1.36h-1.9zM63.65 382.22h1.9v1.36h-1.9zM132.15 380.72h1.9v1.36h-1.9zM162.35 373.32h1.9v1.36h-1.9zM121.75 376.42h1.9v1.36h-1.9zM85.45 370.22h1.9v1.36h-1.9zM79.25 379.82h1.9v1.36h-1.9zM109.75 382.62h1.9v1.36h-1.9zM103.35 382.32h1.9v1.36h-1.9zM104.85 371.62h1.9v1.36h-1.9zM51.15 375.92h1.9v1.36h-1.9zM168.75 375.32h1.9v1.36h-1.9zM69.85 378.32h1.9v1.36h-1.9zM57.95 368.02h1.9v1.36h-1.9zM146.85 377.22h1.9v1.36h-1.9zM141.55 376.22h1.9v1.36h-1.9zM102.85 375.82h1.9v1.36h-1.9zM95.45 381.12h1.9v1.36h-1.9zM60.95 363.52h1.9v1.36h-1.9zM76.65 380.22h1.9v1.36h-1.9zM100.15 378.22h1.9v1.36h-1.9zM120.15 373.82h1.9v1.36h-1.9zM51.35 377.92h1.9v1.36h-1.9zM71.95 373.72h1.9v1.36h-1.9zM134.05 372.52h1.9v1.36h-1.9zM42.85 371.22h1.9v1.36h-1.9zM128.75 379.12h1.9v1.36h-1.9zM60.55 375.12h1.9v1.36h-1.9zM117.55 381.22h1.9v1.36h-1.9zM121.45 375.72h1.9v1.36h-1.9zM96.05 377.62h1.9v1.36h-1.9zM134.65 373.82h1.9v1.36h-1.9zM96.95 385.22h1.9v1.36h-1.9zM105.45 370.12h1.9v1.36h-1.9zM131.15 367.42h1.9v1.36h-1.9zM68.25 380.22h1.9v1.36h-1.9zM107.85 379.52h1.9v1.36h-1.9zM134.65 370.32h1.9v1.36h-1.9zM124.95 372.52h1.9v1.36h-1.9zM114.65 376.32h1.9v1.36h-1.9zM104.05 367.12h1.9v1.36h-1.9zM117.75 374.92h1.9v1.36h-1.9zM125.95 368.52h1.9v1.36h-1.9zM114.15 373.62h1.9v1.36h-1.9zM91.75 373.22h1.9v1.36h-1.9zM98.15 366.72h1.9v1.36h-1.9zM87.65 372.12h1.9v1.36h-1.9zM123.65 373.92h1.9v1.36h-1.9zM157.35 378.42h1.9v1.36h-1.9zM118.25 376.02h1.9v1.36h-1.9zM56.55 376.92h1.9v1.36h-1.9zM151.85 368.82h1.9v1.36h-1.9zM153.85 378.42h1.9v1.36h-1.9zM117.15 372.32h1.9v1.36h-1.9zM107.85 370.22h1.9v1.36h-1.9zM106.45 375.12h1.9v1.36h-1.9zM109.25 367.62h1.9v1.36h-1.9zM139.95 370.92h1.9v1.36h-1.9zM121.15 378.32h1.9v1.36h-1.9zM111.35 377.32h1.9v1.36h-1.9zM98.25 376.72h1.9v1.36h-1.9zM62.35 378.62h1.9v1.36h-1.9zM94.05 371.82h1.9v1.36h-1.9zM133.95 380.12h1.9v1.36h-1.9zM91.95 368.82h1.9v1.36h-1.9zM35.95 368.92h1.9v1.36h-1.9zM124.45 378.52h1.9v1.36h-1.9zM62.45 375.12h1.9v1.36h-1.9zM144.15 370.32h1.9v1.36h-1.9zM87.45 369.52h1.9v1.36h-1.9zM121.65 363.72h1.9v1.36h-1.9zM102.35 377.62h1.9v1.36h-1.9zM105.05 380.42h1.9v1.36h-1.9zM128.75 371.82h1.9v1.36h-1.9zM71.65 368.62h1.9v1.36h-1.9zM124.25 374.02h1.9v1.36h-1.9zM111.15 369.42h1.9v1.36h-1.9zM147.65 379.92h1.9v1.36h-1.9zM133.65 368.22h1.9v1.36h-1.9zM68.85 380.52h1.9v1.36h-1.9zM102.45 370.22h1.9v1.36h-1.9zM80.05 377.72h1.9v1.36h-1.9zM117.85 376.02h1.9v1.36h-1.9zM99.35 368.82h1.9v1.36h-1.9zM115.95 373.22h1.9v1.36h-1.9zM99.85 378.42h1.9v1.36h-1.9zM166.75 371.12h1.9v1.36h-1.9zM141.05 370.52h1.9v1.36h-1.9zM136.65 378.62h1.9v1.36h-1.9zM108.35 376.22h1.9v1.36h-1.9zM79.75 372.82h1.9v1.36h-1.9zM140.65 379.32h1.9v1.36h-1.9zM90.65 375.42h1.9v1.36h-1.9zM109.15 371.92h1.9v1.36h-1.9zM92.45 374.22h1.9v1.36h-1.9zM151.95 374.22h1.9v1.36h-1.9zM80.55 376.62h1.9v1.36h-1.9zM84.85 376.62h1.9v1.36h-1.9zM26.85 373.62h1.9v1.36h-1.9zM69.45 380.62h1.9v1.36h-1.9zM134.95 372.22h1.9v1.36h-1.9zM123.55 368.02h1.9v1.36h-1.9zM114.65 376.32h1.9v1.36h-1.9zM144.45 372.32h1.9v1.36h-1.9zM31.65 379.52h1.9v1.36h-1.9zM69.15 371.62h1.9v1.36h-1.9zM94.35 384.52h1.9v1.36h-1.9zM105.45 381.62h1.9v1.36h-1.9zM109.65 366.62h1.9v1.36h-1.9zM123.15 377.82h1.9v1.36h-1.9zM87.35 365.72h1.9v1.36h-1.9zM121.65 377.52h1.9v1.36h-1.9zM140.15 378.32h1.9v1.36h-1.9zM55.15 366.72h1.9v1.36h-1.9zM135.95 382.72h1.9v1.36h-1.9zM144.45 379.72h1.9v1.36h-1.9zM106.65 380.42h1.9v1.36h-1.9zM161.45 377.92h1.9v1.36h-1.9zM151.05 381.92h1.9v1.36h-1.9zM82.15 381.72h1.9v1.36h-1.9zM80.25 369.52h1.9v1.36h-1.9zM163.75 365.22h1.9v1.36h-1.9zM100.55 380.12h1.9v1.36h-1.9zM120.85 372.62h1.9v1.36h-1.9zM74.35 377.82h1.9v1.36h-1.9zM125.75 374.32h1.9v1.36h-1.9zM73.05 366.52h1.9v1.36h-1.9zM106.85 374.52h1.9v1.36h-1.9zM136.25 373.02h1.9v1.36h-1.9zM139.05 367.82h1.9v1.36h-1.9zM46.75 380.32h1.9v1.36h-1.9zM92.25 369.92h1.9v1.36h-1.9zM102.15 367.72h1.9v1.36h-1.9zM95.15 366.82h1.9v1.36h-1.9zM113.05 371.42h1.9v1.36h-1.9zM105.25 374.82h1.9v1.36h-1.9zM122.75 364.82h1.9v1.36h-1.9zM112.65 373.32h1.9v1.36h-1.9zM66.95 373.32h1.9v1.36h-1.9zM124.75 377.62h1.9v1.36h-1.9zM176.55 372.92h1.9v1.36h-1.9zM112.05 386.02h1.9v1.36h-1.9zM86.35 370.02h1.9v1.36h-1.9zM91.15 371.42h1.9v1.36h-1.9zM110.05 374.92h1.9v1.36h-1.9zM77.45 360.72h1.9v1.36h-1.9zM108.75 359.72h1.9v1.36h-1.9zM74.95 377.22h1.9v1.36h-1.9zM106.95 362.22h1.9v1.36h-1.9zM47.45 362.22h1.9v1.36h-1.9zM45.25 379.32h1.9v1.36h-1.9zM144.15 376.72h1.9v1.36h-1.9zM125.05 367.82h1.9v1.36h-1.9zM118.45 374.02h1.9v1.36h-1.9zM113.25 367.92h1.9v1.36h-1.9zM63.35 376.52h1.9v1.36h-1.9zM128.15 360.92h1.9v1.36h-1.9zM100.85 372.92h1.9v1.36h-1.9zM133.05 354.42h1.9v1.36h-1.9zM48.75 358.02h1.9v1.36h-1.9zM56.05 361.32h1.9v1.36h-1.9zM148.85 360.52h1.9v1.36h-1.9zM205.85 376.32h1.9v1.36h-1.9zM141.85 372.82h1.9v1.36h-1.9zM149.45 377.52h1.9v1.36h-1.9zM146.75 379.82h1.9v1.36h-1.9zM138.55 377.62h1.9v1.36h-1.9zM159.75 373.62h1.9v1.36h-1.9zM88.05 391.02h1.9v1.36h-1.9zM89.85 377.82h1.9v1.36h-1.9zM204.45 366.32h1.9v1.36h-1.9zM99.05 365.82h1.9v1.36h-1.9zM69.85 380.52h1.9v1.36h-1.9zM102.15 374.72h1.9v1.36h-1.9zM35.45 378.72h1.9v1.36h-1.9zM79.25 351.92h1.9v1.36h-1.9zM79.15 355.52h1.9v1.36h-1.9zM181.65 354.72h1.9v1.36h-1.9zM123.75 361.82h1.9v1.36h-1.9zM74.85 359.12h1.9v1.36h-1.9zM164.95 361.12h1.9v1.36h-1.9zM82.95 375.92h1.9v1.36h-1.9zM94.75 381.02h1.9v1.36h-1.9zM78.35 355.42h1.9v1.36h-1.9zM131.25 386.62h1.9v1.36h-1.9zM134.65 364.02h1.9v1.36h-1.9zM163.05 382.12h1.9v1.36h-1.9zM94.45 378.22h1.9v1.36h-1.9zM109.75 374.62h1.9v1.36h-1.9zM139.75 383.02h1.9v1.36h-1.9zM115.05 374.12h1.9v1.36h-1.9zM131.65 364.52h1.9v1.36h-1.9zM127.75 371.22h1.9v1.36h-1.9zM114.15 374.42h1.9v1.36h-1.9zM169.35 378.92h1.9v1.36h-1.9zM113.35 360.22h1.9v1.36h-1.9zM127.65 361.42h1.9v1.36h-1.9zM165.95 365.62h1.9v1.36h-1.9zM83.65 371.72h1.9v1.36h-1.9zM66.65 378.82h1.9v1.36h-1.9zM125.75 365.82h1.9v1.36h-1.9zM87.55 393.72h1.9v1.36h-1.9zM162.55 379.42h1.9v1.36h-1.9zM123.95 390.02h1.9v1.36h-1.9zM94.05 370.42h1.9v1.36h-1.9zM105.25 361.62h1.9v1.36h-1.9zM72.05 393.82h1.9v1.36h-1.9zM118.15 363.62h1.9v1.36h-1.9zM100.65 368.02h1.9v1.36h-1.9zM92.05 372.72h1.9v1.36h-1.9zM46.15 353.52h1.9v1.36h-1.9zM102.35 370.82h1.9v1.36h-1.9zM59.45 372.22h1.9v1.36h-1.9zM86.35 375.62h1.9v1.36h-1.9zM102.15 385.72h1.9v1.36h-1.9zM173.15 380.72h1.9v1.36h-1.9zM112.55 382.82h1.9v1.36h-1.9zM143.95 378.62h1.9v1.36h-1.9zM145.75 369.32h1.9v1.36h-1.9zM145.95 379.32h1.9v1.36h-1.9zM129.65 371.62h1.9v1.36h-1.9zM93.75 379.92h1.9v1.36h-1.9zM89.75 361.72h1.9v1.36h-1.9zM185.75 386.62h1.9v1.36h-1.9zM78.05 388.72h1.9v1.36h-1.9zM141.95 376.32h1.9v1.36h-1.9zM103.05 382.12h1.9v1.36h-1.9zM134.85 361.12h1.9v1.36h-1.9zM79.85 384.52h1.9v1.36h-1.9zM144.85 361.02h1.9v1.36h-1.9zM46.85 378.42h1.9v1.36h-1.9zM75.85 365.52h1.9v1.36h-1.9zM89.15 376.02h1.9v1.36h-1.9zM95.95 383.62h1.9v1.36h-1.9zM62.05 364.02h1.9v1.36h-1.9zM133.65 384.42h1.9v1.36h-1.9zM109.75 370.02h1.9v1.36h-1.9zM170.95 385.52h1.9v1.36h-1.9zM125.25 370.92h1.9v1.36h-1.9zM167.35 381.22h1.9v1.36h-1.9zM96.55 389.72h1.9v1.36h-1.9zM160.65 376.02h1.9v1.36h-1.9zM132.85 382.12h1.9v1.36h-1.9zM91.95 360.42h1.9v1.36h-1.9zM164.45 355.72h1.9v1.36h-1.9zM45.75 358.12h1.9v1.36h-1.9zM134.05 385.02h1.9v1.36h-1.9zM83.75 387.92h1.9v1.36h-1.9zM184.35 388.72h1.9v1.36h-1.9zM55.75 387.92h1.9v1.36h-1.9zM41.05 387.72h1.9v1.36h-1.9zM135.35 373.22h1.9v1.36h-1.9zM109.85 354.82h1.9v1.36h-1.9zM75.25 375.72h1.9v1.36h-1.9zM132.95 383.82h1.9v1.36h-1.9zM153.45 368.52h1.9v1.36h-1.9zM108.85 389.32h1.9v1.36h-1.9zM52.45 379.42h1.9v1.36h-1.9zM74.75 376.02h1.9v1.36h-1.9zM193.95 378.02h1.9v1.36h-1.9zM92.45 366.12h1.9v1.36h-1.9zM50.35 373.42h1.9v1.36h-1.9zM118.05 363.62h1.9v1.36h-1.9zM77.55 386.72h1.9v1.36h-1.9zM162.95 377.12h1.9v1.36h-1.9zM102.85 387.22h1.9v1.36h-1.9zM142.45 375.62h1.9v1.36h-1.9zM191.85 371.92h1.9v1.36h-1.9zM120.25 385.82h1.9v1.36h-1.9zM134.05 374.52h1.9v1.36h-1.9zM97.95 381.32h1.9v1.36h-1.9zM131.45 375.52h1.9v1.36h-1.9zM186.55 372.72h1.9v1.36h-1.9zM187.75 362.82h1.9v1.36h-1.9zM118.25 364.72h1.9v1.36h-1.9zM128.85 381.32h1.9v1.36h-1.9zM137.25 376.22h1.9v1.36h-1.9zM100.95 360.22h1.9v1.36h-1.9zM150.15 373.92h1.9v1.36h-1.9zM163.65 355.12h1.9v1.36h-1.9zM101.45 354.82h1.9v1.36h-1.9zM160.95 365.62h1.9v1.36h-1.9zM66.45 383.32h1.9v1.36h-1.9zM108.55 376.42h1.9v1.36h-1.9zM107.85 386.02h1.9v1.36h-1.9zM124.75 376.52h1.9v1.36h-1.9zM111.75 384.32h1.9v1.36h-1.9zM162.25 369.82h1.9v1.36h-1.9zM150.55 357.12h1.9v1.36h-1.9zM77.15 367.72h1.9v1.36h-1.9zM79.65 379.62h1.9v1.36h-1.9zM50.95 356.42h1.9v1.36h-1.9zM120.75 364.02h1.9v1.36h-1.9zM114.65 374.52h1.9v1.36h-1.9zM82.55 369.12h1.9v1.36h-1.9zM150.05 373.62h1.9v1.36h-1.9zM115.25 381.02h1.9v1.36h-1.9zM79.85 360.22h1.9v1.36h-1.9zM96.25 391.62h1.9v1.36h-1.9zM139.05 398.32h1.9v1.36h-1.9zM156.25 383.82h1.9v1.36h-1.9zM90.15 355.42h1.9v1.36h-1.9zM62.55 360.52h1.9v1.36h-1.9zM137.05 376.82h1.9v1.36h-1.9zM54.65 376.42h1.9v1.36h-1.9zM173.65 384.02h1.9v1.36h-1.9zM81.25 384.02h1.9v1.36h-1.9zM92.05 387.22h1.9v1.36h-1.9zM58.15 363.02h1.9v1.36h-1.9zM96.85 381.92h1.9v1.36h-1.9zM49.75 376.22h1.9v1.36h-1.9zM95.85 368.42h1.9v1.36h-1.9zM55.45 378.22h1.9v1.36h-1.9zM118.35 378.32h1.9v1.36h-1.9zM119.55 372.32h1.9v1.36h-1.9zM72.65 373.42h1.9v1.36h-1.9zM146.85 375.12h1.9v1.36h-1.9zM135.65 383.22h1.9v1.36h-1.9zM126.85 370.82h1.9v1.36h-1.9zM68.75 387.52h1.9v1.36h-1.9zM104.35 371.62h1.9v1.36h-1.9zM116.05 382.62h1.9v1.36h-1.9zM150.35 365.72h1.9v1.36h-1.9zM108.55 386.42h1.9v1.36h-1.9zM84.95 373.92h1.9v1.36h-1.9zM74.45 357.42h1.9v1.36h-1.9zM54.55 375.32h1.9v1.36h-1.9zM100.55 371.02h1.9v1.36h-1.9zM43.35 372.82h1.9v1.36h-1.9zM77.05 388.62h1.9v1.36h-1.9zM68.15 385.12h1.9v1.36h-1.9zM59.45 362.02h1.9v1.36h-1.9zM175.45 365.22h1.9v1.36h-1.9zM92.95 355.92h1.9v1.36h-1.9zM118.75 389.12h1.9v1.36h-1.9zM99.15 370.52h1.9v1.36h-1.9zM111.95 365.12h1.9v1.36h-1.9zM55.05 374.02h1.9v1.36h-1.9zM97.45 354.02h1.9v1.36h-1.9zM55.35 378.52h1.9v1.36h-1.9zM151.65 372.82h1.9v1.36h-1.9zM179.85 383.42h1.9v1.36h-1.9zM77.95 361.62h1.9v1.36h-1.9zM133.45 351.22h1.9v1.36h-1.9zM143.15 383.92h1.9v1.36h-1.9zM57.75 361.52h1.9v1.36h-1.9zM191.15 368.02h1.9v1.36h-1.9zM119.05 369.62h1.9v1.36h-1.9zM183.95 366.92h1.9v1.36h-1.9zM71.55 390.42h1.9v1.36h-1.9zM44.15 369.92h1.9v1.36h-1.9zM51.25 355.82h1.9v1.36h-1.9zM57.45 373.82h1.9v1.36h-1.9zM78.55 361.02h1.9v1.36h-1.9zM88.35 385.62h1.9v1.36h-1.9zM139.85 375.32h1.9v1.36h-1.9zM144.45 369.32h1.9v1.36h-1.9zM85.75 393.32h1.9v1.36h-1.9zM114.75 390.32h1.9v1.36h-1.9zM70.45 374.82h1.9v1.36h-1.9zM108.55 384.22h1.9v1.36h-1.9zM134.25 373.32h1.9v1.36h-1.9zM134.75 381.32h1.9v1.36h-1.9zM89.75 380.22h1.9v1.36h-1.9zM93.65 388.92h1.9v1.36h-1.9zM88.25 374.12h1.9v1.36h-1.9zM75.05 371.92h1.9v1.36h-1.9zM160.85 389.22h1.9v1.36h-1.9zM150.15 380.92h1.9v1.36h-1.9zM116.85 359.02h1.9v1.36h-1.9zM139.25 366.12h1.9v1.36h-1.9zM124.05 372.22h1.9v1.36h-1.9zM149.25 365.92h1.9v1.36h-1.9zM146.65 373.52h1.9v1.36h-1.9zM183.85 372.02h1.9v1.36h-1.9zM104.35 352.42h1.9v1.36h-1.9zM150.45 373.72h1.9v1.36h-1.9zM132.95 369.72h1.9v1.36h-1.9zM169.35 372.12h1.9v1.36h-1.9zM104.65 377.82h1.9v1.36h-1.9zM61.05 379.52h1.9v1.36h-1.9zM73.05 376.22h1.9v1.36h-1.9zM160.55 369.12h1.9v1.36h-1.9zM82.75 391.92h1.9v1.36h-1.9zM112.75 385.32h1.9v1.36h-1.9zM137.95 378.52h1.9v1.36h-1.9zM175.15 373.02h1.9v1.36h-1.9zM43.05 370.82h1.9v1.36h-1.9zM84.85 361.02h1.9v1.36h-1.9zM93.65 378.12h1.9v1.36h-1.9zM134.05 374.42h1.9v1.36h-1.9zM105.55 374.22h1.9v1.36h-1.9zM92.05 364.02h1.9v1.36h-1.9zM115.15 383.22h1.9v1.36h-1.9zM79.55 373.72h1.9v1.36h-1.9zM142.75 362.72h1.9v1.36h-1.9zM128.65 375.32h1.9v1.36h-1.9zM157.65 363.72h1.9v1.36h-1.9zM92.35 390.92h1.9v1.36h-1.9zM203.45 380.22h1.9v1.36h-1.9zM173.65 366.72h1.9v1.36h-1.9zM157.05 377.12h1.9v1.36h-1.9zM143.05 360.12h1.9v1.36h-1.9zM119.65 381.42h1.9v1.36h-1.9zM162.55 378.72h1.9v1.36h-1.9zM131.95 384.62h1.9v1.36h-1.9zM189.45 358.22h1.9v1.36h-1.9zM30.65 374.32h1.9v1.36h-1.9zM146.15 363.42h1.9v1.36h-1.9zM140.15 367.02h1.9v1.36h-1.9zM151.35 372.12h1.9v1.36h-1.9zM188.95 363.32h1.9v1.36h-1.9zM178.95 365.92h1.9v1.36h-1.9zM144.45 377.42h1.9v1.36h-1.9zM54.85 352.42h1.9v1.36h-1.9zM105.55 370.42h1.9v1.36h-1.9zM86.65 382.02h1.9v1.36h-1.9zM126.65 380.52h1.9v1.36h-1.9zM66.85 372.22h1.9v1.36h-1.9zM105.95 385.12h1.9v1.36h-1.9zM169.65 368.32h1.9v1.36h-1.9zM204.05 377.92h1.9v1.36h-1.9zM136.15 377.62h1.9v1.36h-1.9zM105.95 354.12h1.9v1.36h-1.9zM71.75 364.72h1.9v1.36h-1.9zM102.55 361.32h1.9v1.36h-1.9zM122.15 380.92h1.9v1.36h-1.9zM120.65 375.32h1.9v1.36h-1.9zM83.55 383.02h1.9v1.36h-1.9zM96.65 393.02h1.9v1.36h-1.9zM82.95 373.62h1.9v1.36h-1.9zM189.95 355.72h1.9v1.36h-1.9zM159.85 377.02h1.9v1.36h-1.9zM122.95 389.42h1.9v1.36h-1.9zM86.65 380.82h1.9v1.36h-1.9zM90.75 388.22h1.9v1.36h-1.9zM57.85 373.02h1.9v1.36h-1.9zM89.05 361.52h1.9v1.36h-1.9zM157.75 369.22h1.9v1.36h-1.9zM66.75 362.72h1.9v1.36h-1.9zM128.95 355.72h1.9v1.36h-1.9zM127.65 384.52h1.9v1.36h-1.9zM116.25 375.32h1.9v1.36h-1.9zM95.25 363.82h1.9v1.36h-1.9zM110.75 375.92h1.9v1.36h-1.9zM179.05 375.72h1.9v1.36h-1.9zM80.15 382.92h1.9v1.36h-1.9zM65.95 350.92h1.9v1.36h-1.9zM101.25 365.62h1.9v1.36h-1.9zM140.25 372.82h1.9v1.36h-1.9zM53.25 365.32h1.9v1.36h-1.9zM88.55 396.72h1.9v1.36h-1.9zM55.25 361.82h1.9v1.36h-1.9zM167.05 389.92h1.9v1.36h-1.9zM96.25 388.82h1.9v1.36h-1.9zM107.75 363.22h1.9v1.36h-1.9zM103.15 359.92h1.9v1.36h-1.9zM172.35 355.52h1.9v1.36h-1.9zM50.15 357.22h1.9v1.36h-1.9zM87.45 353.72h1.9v1.36h-1.9zM126.25 357.22h1.9v1.36h-1.9zM54.15 353.62h1.9v1.36h-1.9zM169.15 355.52h1.9v1.36h-1.9zM59.95 356.42h1.9v1.36h-1.9zM64.35 357.02h1.9v1.36h-1.9zM110.75 351.12h1.9v1.36h-1.9zM33.25 355.22h1.9v1.36h-1.9zM49.75 354.72h1.9v1.36h-1.9zM87.35 355.42h1.9v1.36h-1.9zM156.65 361.02h1.9v1.36h-1.9zM93.25 358.02h1.9v1.36h-1.9zM136.95 350.22h1.9v1.36h-1.9zM110.95 352.42h1.9v1.36h-1.9zM158.45 361.32h1.9v1.36h-1.9zM121.35 362.12h1.9v1.36h-1.9zM95.15 353.32h1.9v1.36h-1.9zM167.15 356.42h1.9v1.36h-1.9zM122.05 351.12h1.9v1.36h-1.9zM139.35 356.02h1.9v1.36h-1.9zM101.35 352.12h1.9v1.36h-1.9zM73.65 354.72h1.9v1.36h-1.9zM114.05 361.32h1.9v1.36h-1.9zM30.05 350.82h1.9v1.36h-1.9zM64.95 353.42h1.9v1.36h-1.9zM70.15 351.72h1.9v1.36h-1.9zM77.35 358.02h1.9v1.36h-1.9zM88.65 352.72h1.9v1.36h-1.9zM133.75 356.92h1.9v1.36h-1.9zM63.65 361.02h1.9v1.36h-1.9zM78.05 352.42h1.9v1.36h-1.9zM123.25 353.02h1.9v1.36h-1.9zM62.55 361.72h1.9v1.36h-1.9zM86.65 352.52h1.9v1.36h-1.9zM115.05 355.72h1.9v1.36h-1.9zM128.45 354.52h1.9v1.36h-1.9zM193.35 363.12h1.9v1.36h-1.9zM197.25 369.52h1.9v1.36h-1.9zM181.75 362.52h1.9v1.36h-1.9zM198.15 371.92h1.9v1.36h-1.9zM185.05 374.92h1.9v1.36h-1.9zM187.55 369.52h1.9v1.36h-1.9zM192.35 368.62h1.9v1.36h-1.9zM172.25 372.42h1.9v1.36h-1.9zM184.85 377.22h1.9v1.36h-1.9zM196.75 388.52h1.9v1.36h-1.9zM200.25 364.22h1.9v1.36h-1.9zM187.45 385.22h1.9v1.36h-1.9zM200.15 366.32h1.9v1.36h-1.9zM191.65 383.12h1.9v1.36h-1.9zM201.95 369.42h1.9v1.36h-1.9zM193.05 376.62h1.9v1.36h-1.9zM186.95 370.52h1.9v1.36h-1.9zM198.75 372.42h1.9v1.36h-1.9zM188.55 381.62h1.9v1.36h-1.9zM200.55 376.92h1.9v1.36h-1.9zM185.15 366.12h1.9v1.36h-1.9zM178.35 367.52h1.9v1.36h-1.9zM192.25 362.12h1.9v1.36h-1.9zM180.75 364.42h1.9v1.36h-1.9zM191.05 369.12h1.9v1.36h-1.9zM204.15 382.82h1.9v1.36h-1.9zM189.65 371.42h1.9v1.36h-1.9zM199.85 365.52h1.9v1.36h-1.9zM198.65 362.52h1.9v1.36h-1.9zM185.55 375.12h1.9v1.36h-1.9zM190.55 359.82h1.9v1.36h-1.9zM181.25 373.52h1.9v1.36h-1.9zM182.35 373.62h1.9v1.36h-1.9zM191.95 377.02h1.9v1.36h-1.9zM187.75 364.52h1.9v1.36h-1.9zM27.05 375.32h1.9v1.36h-1.9zM37.45 383.92h1.9v1.36h-1.9zM40.65 378.72h1.9v1.36h-1.9zM30.95 370.92h1.9v1.36h-1.9zM42.55 370.62h1.9v1.36h-1.9zM44.45 370.22h1.9v1.36h-1.9zM36.95 376.52h1.9v1.36h-1.9zM29.25 384.92h1.9v1.36h-1.9zM51.25 371.52h1.9v1.36h-1.9zM42.45 381.12h1.9v1.36h-1.9zM48.15 332.82h1.9v1.36h-1.9zM50.65 337.32h1.9v1.36h-1.9zM45.15 343.62h1.9v1.36h-1.9zM46.35 349.42h1.9v1.36h-1.9zM63.95 342.92h1.9v1.36h-1.9zM69.45 345.42h1.9v1.36h-1.9zM81.45 336.82h1.9v1.36h-1.9zM84.95 341.62h1.9v1.36h-1.9zM105.25 337.92h1.9v1.36h-1.9zM106.55 339.42h1.9v1.36h-1.9zM110.05 332.32h1.9v1.36h-1.9zM120.25 324.82h1.9v1.36h-1.9zM119.55 332.32h1.9v1.36h-1.9zM117.75 341.92h1.9v1.36h-1.9zM120.75 340.62h1.9v1.36h-1.9zM179.65 326.62h1.9v1.36h-1.9zM171.45 339.92h1.9v1.36h-1.9zM163.45 346.12h1.9v1.36h-1.9zM159.65 347.92h1.9v1.36h-1.9zM147.65 349.42h1.9v1.36h-1.9zM150.15 349.92h1.9v1.36h-1.9zM88.25 346.12h1.9v1.36h-1.9zM91.25 346.62h1.9v1.36h-1.9zM58.65 349.12h1.9v1.36h-1.9zM28.05 360.72h1.9v1.36h-1.9zM25.35 359.92h1.9v1.36h-1.9zM27.35 371.22h1.9v1.36h-1.9zM36.05 356.92h1.9v1.36h-1.9zM33.55 395.72h1.9v1.36h-1.9zM40.05 396.22h1.9v1.36h-1.9zM56.85 400.02h1.9v1.36h-1.9zM73.15 390.02h1.9v1.36h-1.9zM104.55 397.02h1.9v1.36h-1.9zM120.75 398.02h1.9v1.36h-1.9zM123.35 397.52h1.9v1.36h-1.9zM130.35 398.02h1.9v1.36h-1.9zM134.55 398.82h1.9v1.36h-1.9zM122.75 413.32h1.9v1.36h-1.9zM135.85 421.32h1.9v1.36h-1.9zM150.85 403.82h1.9v1.36h-1.9zM146.65 393.02h1.9v1.36h-1.9zM158.35 395.52h1.9v1.36h-1.9zM168.45 395.72h1.9v1.36h-1.9zM172.65 395.02h1.9v1.36h-1.9zM219.15 318.62h1.9v1.36h-1.9zM179.85 326.62h1.9v1.36h-1.9zM218.65 344.42h1.9v1.36h-1.9zM236.25 353.62h1.9v1.36h-1.9zM250.75 363.72h1.9v1.36h-1.9zM248.25 370.72h1.9v1.36h-1.9zM246.75 373.72h1.9v1.36h-1.9zM241.75 376.22h1.9v1.36h-1.9zM229.95 375.72h1.9v1.36h-1.9zM232.95 382.52h1.9v1.36h-1.9zM230.75 380.02h1.9v1.36h-1.9zM225.75 368.72h1.9v1.36h-1.9zM217.45 364.42h1.9v1.36h-1.9zM216.65 369.92h1.9v1.36h-1.9zM220.65 389.52h1.9v1.36h-1.9zM221.95 410.82h1.9v1.36h-1.9zM210.45 396.52h1.9v1.36h-1.9zM203.65 396.52h1.9v1.36h-1.9zM202.45 392.02h1.9v1.36h-1.9zM258.75 381.72h1.9v1.36h-1.9zM257.55 388.72h1.9v1.36h-1.9zM268.35 378.02h1.9v1.36h-1.9zM268.35 380.72h1.9v1.36h-1.9zM275.05 382.02h1.9v1.36h-1.9zM268.85 400.52h1.9v1.36h-1.9zM281.85 393.72h1.9v1.36h-1.9zM299.65 376.22h1.9v1.36h-1.9zM305.15 381.22h1.9v1.36h-1.9zM310.15 379.52h1.9v1.36h-1.9zM306.95 365.42h1.9v1.36h-1.9zM322.75 368.72h1.9v1.36h-1.9zM331.45 371.92h1.9v1.36h-1.9zM209.45 367.42h1.9v1.36h-1.9zM212.45 377.52h1.9v1.36h-1.9zM209.95 385.02h1.9v1.36h-1.9zM204.15 386.22h1.9v1.36h-1.9zM194.35 358.72h1.9v1.36h-1.9zM202.95 359.92h1.9v1.36h-1.9zM199.85 369.92h1.9v1.36h-1.9z"/>
<line x1="22.6" y1="318.6" x2="22.6" y2="430.9" stroke="#6a6a6a" stroke-width="1.1"/>
<line x1="20.6" y1="318.6" x2="24.6" y2="318.6" stroke="#d0d0d0" stroke-width="0.6"/>
<text transform="translate(19,320.05) scale(1,0.88)" font-size="4.75" text-anchor="end" stroke="#1e1e1e" stroke-width="0.16" fill="#1e1e1e" font-family='"Liberation Serif", serif'>26.2</text>
<line x1="20.6" y1="327.96" x2="24.6" y2="327.96" stroke="#d0d0d0" stroke-width="0.6"/>
<text transform="translate(19,329.41) scale(1,0.88)" font-size="4.75" text-anchor="end" stroke="#1e1e1e" stroke-width="0.16" fill="#1e1e1e" font-family='"Liberation Serif", serif'>21.9</text>
<line x1="20.6" y1="337.32" x2="24.6" y2="337.32" stroke="#d0d0d0" stroke-width="0.6"/>
<text transform="translate(19,338.77) scale(1,0.88)" font-size="4.75" text-anchor="end" stroke="#1e1e1e" stroke-width="0.16" fill="#1e1e1e" font-family='"Liberation Serif", serif'>17.7</text>
<line x1="20.6" y1="346.68" x2="24.6" y2="346.68" stroke="#d0d0d0" stroke-width="0.6"/>
<text transform="translate(19,348.12) scale(1,0.88)" font-size="4.75" text-anchor="end" stroke="#1e1e1e" stroke-width="0.16" fill="#1e1e1e" font-family='"Liberation Serif", serif'>13.4</text>
<line x1="20.6" y1="356.03" x2="24.6" y2="356.03" stroke="#d0d0d0" stroke-width="0.6"/>
<text transform="translate(19,357.48) scale(1,0.88)" font-size="4.75" text-anchor="end" stroke="#1e1e1e" stroke-width="0.16" fill="#1e1e1e" font-family='"Liberation Serif", serif'>9.1</text>
<line x1="20.6" y1="365.39" x2="24.6" y2="365.39" stroke="#d0d0d0" stroke-width="0.6"/>
<text transform="translate(19,366.84) scale(1,0.88)" font-size="4.75" text-anchor="end" stroke="#1e1e1e" stroke-width="0.16" fill="#1e1e1e" font-family='"Liberation Serif", serif'>4.8</text>
<line x1="20.6" y1="374.75" x2="24.6" y2="374.75" stroke="#d0d0d0" stroke-width="0.6"/>
<text transform="translate(19,376.2) scale(1,0.88)" font-size="4.75" text-anchor="end" stroke="#1e1e1e" stroke-width="0.16" fill="#1e1e1e" font-family='"Liberation Serif", serif'>0.6</text>
<line x1="20.6" y1="384.11" x2="24.6" y2="384.11" stroke="#d0d0d0" stroke-width="0.6"/>
<text transform="translate(19,385.56) scale(1,0.88)" font-size="4.75" text-anchor="end" stroke="#1e1e1e" stroke-width="0.16" fill="#1e1e1e" font-family='"Liberation Serif", serif'>-3.7</text>
<line x1="20.6" y1="393.47" x2="24.6" y2="393.47" stroke="#d0d0d0" stroke-width="0.6"/>
<text transform="translate(19,394.92) scale(1,0.88)" font-size="4.75" text-anchor="end" stroke="#1e1e1e" stroke-width="0.16" fill="#1e1e1e" font-family='"Liberation Serif", serif'>-7.9</text>
<line x1="20.6" y1="402.82" x2="24.6" y2="402.82" stroke="#d0d0d0" stroke-width="0.6"/>
<text transform="translate(19,404.27) scale(1,0.88)" font-size="4.75" text-anchor="end" stroke="#1e1e1e" stroke-width="0.16" fill="#1e1e1e" font-family='"Liberation Serif", serif'>-12.2</text>
<line x1="20.6" y1="412.18" x2="24.6" y2="412.18" stroke="#d0d0d0" stroke-width="0.6"/>
<text transform="translate(19,413.63) scale(1,0.88)" font-size="4.75" text-anchor="end" stroke="#1e1e1e" stroke-width="0.16" fill="#1e1e1e" font-family='"Liberation Serif", serif'>-16.5</text>
<line x1="20.6" y1="421.54" x2="24.6" y2="421.54" stroke="#d0d0d0" stroke-width="0.6"/>
<text transform="translate(19,422.99) scale(1,0.88)" font-size="4.75" text-anchor="end" stroke="#1e1e1e" stroke-width="0.16" fill="#1e1e1e" font-family='"Liberation Serif", serif'>-20.7</text>
<line x1="20.6" y1="430.9" x2="24.6" y2="430.9" stroke="#d0d0d0" stroke-width="0.6"/>
<text transform="translate(19,432.35) scale(1,0.88)" font-size="4.75" text-anchor="end" stroke="#1e1e1e" stroke-width="0.16" fill="#1e1e1e" font-family='"Liberation Serif", serif'>-25.0</text>
<line x1="25" y1="432.4" x2="333" y2="432.4" stroke="#777" stroke-width="1.05"/>
<line x1="25" y1="431.2" x2="25" y2="433.6" stroke="#9a9a9a" stroke-width="0.6"/>
<text transform="translate(25,437.8) scale(1,0.88)" font-size="4.75" text-anchor="middle" fill="#404040" font-family='"Liberation Serif", serif'>0.0012</text>
<line x1="50.67" y1="431.2" x2="50.67" y2="433.6" stroke="#9a9a9a" stroke-width="0.6"/>
<text transform="translate(50.67,437.8) scale(1,0.88)" font-size="4.75" text-anchor="middle" fill="#404040" font-family='"Liberation Serif", serif'>0.0020</text>
<line x1="76.33" y1="431.2" x2="76.33" y2="433.6" stroke="#9a9a9a" stroke-width="0.6"/>
<text transform="translate(76.33,437.8) scale(1,0.88)" font-size="4.75" text-anchor="middle" fill="#404040" font-family='"Liberation Serif", serif'>0.0027</text>
<line x1="102" y1="431.2" x2="102" y2="433.6" stroke="#9a9a9a" stroke-width="0.6"/>
<text transform="translate(102,437.8) scale(1,0.88)" font-size="4.75" text-anchor="middle" fill="#404040" font-family='"Liberation Serif", serif'>0.0034</text>
<line x1="127.67" y1="431.2" x2="127.67" y2="433.6" stroke="#9a9a9a" stroke-width="0.6"/>
<text transform="translate(127.67,437.8) scale(1,0.88)" font-size="4.75" text-anchor="middle" fill="#404040" font-family='"Liberation Serif", serif'>0.0041</text>
<line x1="153.33" y1="431.2" x2="153.33" y2="433.6" stroke="#9a9a9a" stroke-width="0.6"/>
<text transform="translate(153.33,437.8) scale(1,0.88)" font-size="4.75" text-anchor="middle" fill="#404040" font-family='"Liberation Serif", serif'>0.0048</text>
<line x1="179" y1="431.2" x2="179" y2="433.6" stroke="#9a9a9a" stroke-width="0.6"/>
<text transform="translate(179,437.8) scale(1,0.88)" font-size="4.75" text-anchor="middle" fill="#404040" font-family='"Liberation Serif", serif'>0.0056</text>
<line x1="204.67" y1="431.2" x2="204.67" y2="433.6" stroke="#9a9a9a" stroke-width="0.6"/>
<text transform="translate(204.67,437.8) scale(1,0.88)" font-size="4.75" text-anchor="middle" fill="#404040" font-family='"Liberation Serif", serif'>0.0063</text>
<line x1="230.33" y1="431.2" x2="230.33" y2="433.6" stroke="#9a9a9a" stroke-width="0.6"/>
<text transform="translate(230.33,437.8) scale(1,0.88)" font-size="4.75" text-anchor="middle" fill="#404040" font-family='"Liberation Serif", serif'>0.0070</text>
<line x1="256" y1="431.2" x2="256" y2="433.6" stroke="#9a9a9a" stroke-width="0.6"/>
<text transform="translate(256,437.8) scale(1,0.88)" font-size="4.75" text-anchor="middle" fill="#404040" font-family='"Liberation Serif", serif'>0.0077</text>
<line x1="281.67" y1="431.2" x2="281.67" y2="433.6" stroke="#9a9a9a" stroke-width="0.6"/>
<text transform="translate(281.67,437.8) scale(1,0.88)" font-size="4.75" text-anchor="middle" fill="#404040" font-family='"Liberation Serif", serif'>0.0084</text>
<line x1="307.33" y1="431.2" x2="307.33" y2="433.6" stroke="#9a9a9a" stroke-width="0.6"/>
<text transform="translate(307.33,437.8) scale(1,0.88)" font-size="4.75" text-anchor="middle" fill="#404040" font-family='"Liberation Serif", serif'>0.0092</text>
<line x1="333" y1="431.2" x2="333" y2="433.6" stroke="#9a9a9a" stroke-width="0.6"/>
<text transform="translate(333,437.8) scale(1,0.88)" font-size="4.75" text-anchor="middle" fill="#404040" font-family='"Liberation Serif", serif'>0.0099</text>
<text transform="translate(170.1,311.2) scale(1,0.75)" font-size="7.74" text-anchor="middle" font-weight="bold" stroke="#000" stroke-width="0.12" fill="#000" font-family='"Liberation Serif", serif'>Screening with follow-up vs. screening without follow-up (45-49 years)</text>
<text transform="translate(178.9,445.5) scale(1,0.75)" font-size="6.8" text-anchor="middle" font-weight="bold" stroke="#000" stroke-width="0.1" fill="#000" font-family='"Liberation Serif", serif'>Incremental Effectiveness (QALY)</text>
<text transform="translate(5.4,374.6) scale(1,0.75) rotate(-90)" font-size="6.8" text-anchor="middle" font-weight="bold" fill="#000" stroke="#000" stroke-width="0.1" font-family='"Liberation Serif", serif'>Incremental Cost (USD)</text>
</svg></body></html>
